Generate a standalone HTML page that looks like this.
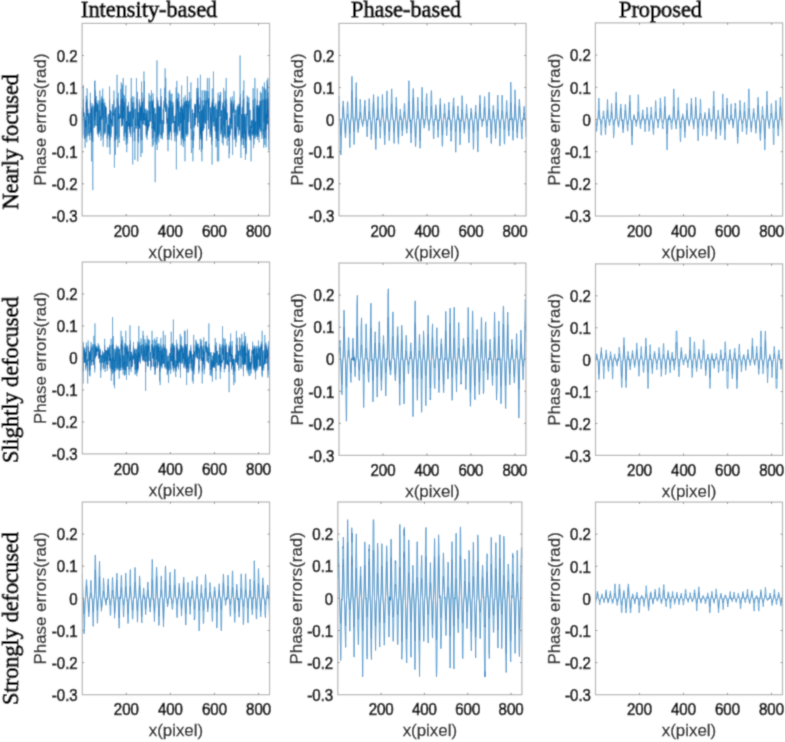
<!DOCTYPE html>
<html><head><meta charset="utf-8"><title>Phase errors</title>
<style>
html,body{margin:0;padding:0;background:#fff;}
body{width:785px;height:742px;overflow:hidden;}
svg{display:block;}
.tk{font-family:"Liberation Sans",Arial,sans-serif;font-size:15px;fill:#111;stroke:#111;stroke-width:0.7px;}
.yl{font-family:"Liberation Sans",Arial,sans-serif;font-size:16.9px;fill:#222;stroke:#222;stroke-width:0.3px;}
.al{font-family:"Liberation Sans",Arial,sans-serif;font-size:16.9px;fill:#1a1a1a;stroke:#1a1a1a;stroke-width:0.3px;}
.tt{font-family:"Liberation Serif","Times New Roman",serif;font-size:22.3px;fill:#000;stroke:#000;stroke-width:0.9px;}
</style></head>
<body>
<svg width="785" height="742" viewBox="0 0 785 742">
<defs><filter id="soft" x="0" y="0" width="785" height="742" filterUnits="userSpaceOnUse"><feConvolveMatrix order="3" kernelMatrix="1 4 1 4 16 4 1 4 1" divisor="36" edgeMode="duplicate" preserveAlpha="false"/></filter></defs>
<g filter="url(#soft)">
<rect width="785" height="742" fill="#fff"/>
<polyline points="82.21,111.41 82.43,128.93 82.65,138.01 82.87,107.22 83.09,113.48 83.31,85.01 83.53,107.20 83.75,117.03 83.97,112.60 84.20,128.32 84.42,139.07 84.64,121.45 84.86,117.06 85.08,147.75 85.30,133.87 85.52,131.06 85.74,120.13 85.96,127.18 86.18,95.75 86.40,117.24 86.62,99.57 86.84,142.30 87.06,88.20 87.28,91.99 87.50,115.62 87.72,108.38 87.94,111.69 88.16,135.69 88.39,123.29 88.61,115.11 88.83,123.90 89.05,112.91 89.27,128.53 89.49,128.19 89.71,140.23 89.93,131.36 90.15,130.10 90.37,92.73 90.59,114.22 90.81,132.97 91.03,110.05 91.25,119.27 91.47,161.36 91.69,107.15 91.91,138.50 92.13,103.01 92.35,126.77 92.58,134.66 92.80,190.23 93.02,137.98 93.24,123.34 93.46,114.02 93.68,109.04 93.90,106.45 94.12,104.88 94.34,127.77 94.56,81.28 94.78,120.15 95.00,80.50 95.22,116.35 95.44,90.55 95.66,92.12 95.88,125.91 96.10,102.99 96.32,95.96 96.54,96.50 96.77,111.45 96.99,105.03 97.21,125.56 97.43,134.54 97.65,102.99 97.87,130.13 98.09,100.40 98.31,113.36 98.53,137.11 98.75,124.58 98.97,125.42 99.19,133.44 99.41,110.15 99.63,124.86 99.85,90.43 100.07,102.58 100.29,130.50 100.51,116.68 100.73,119.79 100.96,140.66 101.18,99.73 101.40,98.39 101.62,97.90 101.84,119.80 102.06,95.80 102.28,117.59 102.50,100.92 102.72,88.56 102.94,116.71 103.16,146.58 103.38,124.83 103.60,108.89 103.82,98.60 104.04,135.21 104.26,119.11 104.48,111.89 104.70,108.94 104.92,102.31 105.15,133.69 105.37,127.03 105.59,105.80 105.81,117.10 106.03,117.23 106.25,106.92 106.47,123.50 106.69,116.83 106.91,130.55 107.13,147.37 107.35,146.73 107.57,124.64 107.79,128.19 108.01,133.82 108.23,115.92 108.45,114.00 108.67,113.91 108.89,135.82 109.11,124.90 109.34,147.08 109.56,86.45 109.78,105.21 110.00,154.43 110.22,120.58 110.44,109.93 110.66,122.29 110.88,111.23 111.10,137.31 111.32,119.31 111.54,122.77 111.76,124.24 111.98,124.19 112.20,116.73 112.42,104.14 112.64,126.55 112.86,123.30 113.08,112.66 113.30,115.61 113.53,106.22 113.75,100.04 113.97,90.58 114.19,113.51 114.41,167.78 114.63,128.77 114.85,109.31 115.07,118.83 115.29,118.54 115.51,154.74 115.73,106.98 115.95,120.01 116.17,139.59 116.39,133.07 116.61,133.29 116.83,112.44 117.05,74.73 117.27,101.90 117.49,116.14 117.72,147.21 117.94,146.11 118.16,102.62 118.38,92.77 118.60,119.22 118.82,104.63 119.04,136.58 119.26,142.97 119.48,130.08 119.70,116.43 119.92,118.53 120.14,113.53 120.36,117.83 120.58,99.74 120.80,88.94 121.02,112.82 121.24,82.40 121.46,126.48 121.69,125.47 121.91,110.98 122.13,122.49 122.35,84.61 122.57,125.52 122.79,93.26 123.01,110.58 123.23,77.94 123.45,118.79 123.67,112.82 123.89,105.25 124.11,140.84 124.33,95.22 124.55,97.16 124.77,104.06 124.99,131.97 125.21,133.42 125.43,96.28 125.65,91.52 125.88,85.38 126.10,144.89 126.32,130.28 126.54,120.98 126.76,152.20 126.98,134.28 127.20,115.25 127.42,105.67 127.64,143.50 127.86,106.44 128.08,124.41 128.30,125.55 128.52,101.86 128.74,121.31 128.96,126.65 129.18,123.02 129.40,129.16 129.62,111.74 129.84,112.61 130.07,133.52 130.29,110.93 130.51,118.89 130.73,137.08 130.95,96.67 131.17,77.94 131.39,79.73 131.61,93.03 131.83,126.89 132.05,96.32 132.27,98.75 132.49,149.29 132.71,164.57 132.93,106.77 133.15,114.07 133.37,112.88 133.59,118.64 133.81,96.52 134.03,132.68 134.26,132.42 134.48,131.03 134.70,127.46 134.92,159.88 135.14,108.50 135.36,125.96 135.58,119.04 135.80,123.41 136.02,127.67 136.24,128.62 136.46,77.94 136.68,97.49 136.90,103.44 137.12,117.45 137.34,125.93 137.56,91.85 137.78,161.36 138.00,141.81 138.22,112.10 138.45,119.11 138.67,143.06 138.89,119.74 139.11,127.30 139.33,99.28 139.55,128.68 139.77,102.30 139.99,111.20 140.21,120.61 140.43,115.26 140.65,107.09 140.87,157.04 141.09,106.38 141.31,116.87 141.53,81.41 141.75,121.31 141.97,92.67 142.19,153.09 142.41,102.05 142.64,113.12 142.86,123.39 143.08,122.24 143.30,124.40 143.52,112.74 143.74,120.80 143.96,71.53 144.18,120.32 144.40,81.20 144.62,116.36 144.84,112.92 145.06,125.51 145.28,116.88 145.50,118.04 145.72,126.02 145.94,108.56 146.16,137.31 146.38,124.29 146.60,113.60 146.83,125.26 147.05,139.71 147.27,110.14 147.49,133.93 147.71,124.79 147.93,130.92 148.15,120.09 148.37,126.37 148.59,128.28 148.81,110.51 149.03,93.14 149.25,126.40 149.47,110.88 149.69,111.65 149.91,114.03 150.13,95.33 150.35,110.19 150.57,121.48 150.79,117.53 151.02,113.79 151.24,103.33 151.46,90.20 151.68,128.29 151.90,126.95 152.12,129.62 152.34,147.05 152.56,100.84 152.78,124.29 153.00,93.21 153.22,145.22 153.44,99.42 153.66,128.95 153.88,121.70 154.10,128.90 154.32,126.75 154.54,132.01 154.76,107.56 154.98,133.53 155.21,182.21 155.43,119.20 155.65,113.52 155.87,128.57 156.09,131.05 156.31,132.94 156.53,144.42 156.75,138.53 156.97,60.30 157.19,150.03 157.41,102.11 157.63,128.08 157.85,135.79 158.07,99.98 158.29,123.27 158.51,130.24 158.73,142.32 158.95,105.70 159.18,134.77 159.40,125.43 159.62,106.45 159.84,114.47 160.06,120.20 160.28,124.02 160.50,104.12 160.72,88.44 160.94,138.79 161.16,117.42 161.38,96.05 161.60,109.72 161.82,137.71 162.04,133.05 162.26,135.13 162.48,139.69 162.70,134.66 162.92,120.06 163.14,132.95 163.37,108.24 163.59,118.44 163.81,124.28 164.03,100.87 164.25,107.20 164.47,87.74 164.69,92.59 164.91,100.43 165.13,68.32 165.35,98.57 165.57,111.40 165.79,77.94 166.01,103.40 166.23,104.14 166.45,103.05 166.67,123.28 166.89,104.15 167.11,125.42 167.33,139.66 167.56,135.73 167.78,118.16 168.00,151.19 168.22,121.84 168.44,107.48 168.66,111.55 168.88,134.24 169.10,91.48 169.32,108.31 169.54,139.80 169.76,89.89 169.98,120.48 170.20,127.63 170.42,132.15 170.64,107.26 170.86,93.52 171.08,128.57 171.30,132.39 171.52,140.50 171.75,98.03 171.97,93.72 172.19,123.59 172.41,106.93 172.63,114.31 172.85,115.90 173.07,102.04 173.29,114.25 173.51,122.59 173.73,118.46 173.95,115.97 174.17,133.14 174.39,126.17 174.61,121.11 174.83,141.30 175.05,124.33 175.27,122.38 175.49,114.09 175.71,132.47 175.94,108.97 176.16,87.47 176.38,169.38 176.60,97.42 176.82,80.88 177.04,101.77 177.26,108.51 177.48,98.23 177.70,135.44 177.92,122.54 178.14,92.61 178.36,104.48 178.58,126.40 178.80,97.04 179.02,94.11 179.24,102.35 179.46,116.32 179.68,131.21 179.90,116.95 180.13,111.73 180.35,123.37 180.57,106.57 180.79,109.73 181.01,108.10 181.23,145.22 181.45,95.11 181.67,85.42 181.89,121.01 182.11,140.31 182.33,108.68 182.55,128.68 182.77,138.61 182.99,104.84 183.21,146.98 183.43,112.81 183.65,142.96 183.87,97.38 184.09,109.97 184.32,119.63 184.54,110.50 184.76,101.37 184.98,161.36 185.20,95.26 185.42,99.96 185.64,102.38 185.86,100.79 186.08,134.82 186.30,100.69 186.52,106.31 186.74,101.64 186.96,136.78 187.18,126.78 187.40,76.34 187.62,125.21 187.84,135.21 188.06,120.37 188.28,120.21 188.51,100.75 188.73,122.20 188.95,102.57 189.17,100.54 189.39,92.05 189.61,106.20 189.83,105.53 190.05,112.31 190.27,114.77 190.49,119.45 190.71,128.97 190.93,82.31 191.15,144.77 191.37,153.08 191.59,149.31 191.81,149.34 192.03,138.15 192.25,114.78 192.47,109.26 192.70,130.53 192.92,161.36 193.14,140.72 193.36,148.05 193.58,132.55 193.80,140.50 194.02,112.83 194.24,127.65 194.46,103.83 194.68,108.07 194.90,120.08 195.12,104.00 195.34,103.94 195.56,125.29 195.78,104.28 196.00,117.77 196.22,110.72 196.44,99.37 196.67,88.00 196.89,98.49 197.11,103.82 197.33,91.67 197.55,126.99 197.77,77.94 197.99,123.03 198.21,87.82 198.43,112.38 198.65,96.68 198.87,108.71 199.09,104.46 199.31,125.00 199.53,149.80 199.75,111.56 199.97,130.37 200.19,133.63 200.41,74.73 200.63,95.95 200.86,139.21 201.08,126.52 201.30,152.04 201.52,110.18 201.74,144.14 201.96,161.36 202.18,90.14 202.40,149.15 202.62,108.08 202.84,115.14 203.06,114.98 203.28,128.62 203.50,131.08 203.72,105.02 203.94,128.76 204.16,90.37 204.38,105.41 204.60,116.67 204.82,122.55 205.05,90.51 205.27,106.67 205.49,112.70 205.71,121.74 205.93,124.08 206.15,92.45 206.37,90.82 206.59,140.89 206.81,116.95 207.03,93.40 207.25,77.94 207.47,78.33 207.69,98.54 207.91,91.24 208.13,120.44 208.35,98.06 208.57,129.23 208.79,101.07 209.01,104.41 209.24,77.94 209.46,99.97 209.68,109.01 209.90,117.50 210.12,137.14 210.34,107.03 210.56,122.65 210.78,113.36 211.00,131.72 211.22,116.42 211.44,144.65 211.66,113.91 211.88,102.39 212.10,164.57 212.32,88.44 212.54,113.98 212.76,106.94 212.98,102.76 213.20,122.12 213.43,71.53 213.65,91.07 213.87,112.72 214.09,126.44 214.31,106.52 214.53,106.20 214.75,121.55 214.97,123.77 215.19,131.54 215.41,128.87 215.63,106.37 215.85,103.16 216.07,147.25 216.29,117.94 216.51,137.56 216.73,138.99 216.95,108.89 217.17,133.62 217.39,161.36 217.62,113.87 217.84,104.71 218.06,92.71 218.28,131.19 218.50,100.65 218.72,161.36 218.94,137.93 219.16,111.23 219.38,110.21 219.60,95.02 219.82,99.90 220.04,116.58 220.26,91.78 220.48,107.05 220.70,92.54 220.92,134.70 221.14,118.06 221.36,130.05 221.58,109.99 221.81,119.03 222.03,125.92 222.25,143.21 222.47,116.03 222.69,102.59 222.91,103.77 223.13,142.51 223.35,145.38 223.57,87.85 223.79,124.40 224.01,125.72 224.23,106.62 224.45,123.49 224.67,136.72 224.89,128.08 225.11,90.73 225.33,138.79 225.55,109.61 225.77,113.73 226.00,111.43 226.22,77.94 226.44,119.96 226.66,99.82 226.88,123.49 227.10,145.55 227.32,130.01 227.54,112.69 227.76,137.20 227.98,126.50 228.20,131.63 228.42,131.90 228.64,136.70 228.86,125.43 229.08,158.37 229.30,131.95 229.52,153.28 229.74,119.75 229.96,117.89 230.19,135.39 230.41,97.54 230.63,113.73 230.85,123.58 231.07,123.71 231.29,109.75 231.51,100.07 231.73,127.24 231.95,129.31 232.17,96.32 232.39,137.64 232.61,154.86 232.83,140.74 233.05,107.97 233.27,108.55 233.49,104.01 233.71,112.45 233.93,91.12 234.16,92.70 234.38,101.20 234.60,139.44 234.82,115.28 235.04,134.56 235.26,127.77 235.48,135.23 235.70,146.93 235.92,109.41 236.14,116.86 236.36,137.16 236.58,142.18 236.80,129.55 237.02,129.77 237.24,105.33 237.46,124.51 237.68,124.68 237.90,126.96 238.12,109.80 238.35,103.66 238.57,124.64 238.79,135.60 239.01,107.66 239.23,120.16 239.45,130.30 239.67,103.87 239.89,114.42 240.11,55.48 240.33,107.58 240.55,93.95 240.77,151.35 240.99,158.03 241.21,122.59 241.43,114.23 241.65,114.81 241.87,144.90 242.09,131.21 242.31,106.83 242.54,138.50 242.76,108.80 242.98,103.72 243.20,90.64 243.42,145.15 243.64,105.93 243.86,80.35 244.08,148.13 244.30,129.36 244.52,114.17 244.74,133.94 244.96,116.61 245.18,126.84 245.40,159.88 245.62,131.37 245.84,154.46 246.06,113.59 246.28,153.55 246.50,153.18 246.73,139.79 246.95,131.87 247.17,95.56 247.39,115.18 247.61,109.32 247.83,96.85 248.05,126.49 248.27,126.70 248.49,136.56 248.71,109.52 248.93,97.46 249.15,120.02 249.37,133.81 249.59,131.31 249.81,139.91 250.03,109.71 250.25,138.42 250.47,125.96 250.69,141.70 250.92,154.66 251.14,161.36 251.36,139.84 251.58,121.36 251.80,128.17 252.02,119.90 252.24,135.67 252.46,132.08 252.68,134.34 252.90,115.24 253.12,88.14 253.34,125.98 253.56,148.21 253.78,107.42 254.00,144.54 254.22,119.41 254.44,134.89 254.66,125.86 254.88,77.94 255.11,138.94 255.33,136.69 255.55,121.59 255.77,127.90 255.99,133.50 256.21,136.83 256.43,114.72 256.65,105.01 256.87,135.70 257.09,137.12 257.31,88.39 257.53,139.85 257.75,105.15 257.97,109.57 258.19,134.55 258.41,105.30 258.63,136.04 258.85,136.86 259.07,142.46 259.30,106.92 259.52,126.85 259.74,100.76 259.96,129.48 260.18,105.13 260.40,91.59 260.62,115.34 260.84,132.09 261.06,119.38 261.28,93.02 261.50,100.29 261.72,117.37 261.94,138.76 262.16,99.69 262.38,86.16 262.60,87.44 262.82,108.72 263.04,120.48 263.26,131.66 263.49,129.61 263.71,147.80 263.93,87.43 264.15,121.81 264.37,82.41 264.59,101.28 264.81,144.93 265.03,88.42 265.25,131.48 265.47,124.14 265.69,90.05 265.91,92.35 266.13,147.39 266.35,113.73 266.57,129.77 266.79,119.59 267.01,80.22 267.23,116.60 267.45,84.07 267.68,123.45 267.90,77.94 268.12,124.54 268.34,120.43 268.56,109.88 268.78,150.32 269.00,92.24 269.22,134.93 269.44,108.25" fill="none" stroke="#0072BD" stroke-width="0.45" stroke-linejoin="round"/>
<polyline points="82.21,111.76 82.43,128.44 82.65,134.78 82.87,108.35 83.09,113.63 83.31,99.16 83.53,108.34 83.75,117.05 83.97,112.83 84.20,127.91 84.42,135.34 84.64,121.45 84.86,117.07 85.08,138.71 85.30,132.23 85.52,130.17 85.74,120.13 85.96,126.91 86.18,101.97 86.40,117.25 86.62,103.63 86.84,136.83 87.06,99.76 87.28,100.72 87.50,115.66 87.72,109.24 87.94,112.00 88.16,133.42 88.39,123.26 88.61,115.17 88.83,123.85 89.05,113.11 89.27,128.10 89.49,127.80 89.71,135.91 89.93,130.40 90.15,129.41 90.37,100.94 90.59,114.32 90.81,131.60 91.03,110.59 91.25,119.27 91.47,141.04 91.69,108.30 91.91,135.04 92.13,105.51 92.35,126.54 92.58,132.76 92.80,142.02 93.02,134.77 93.24,123.31 93.46,114.14 93.68,109.76 93.90,107.79 94.12,106.70 94.34,127.43 94.56,98.62 94.78,120.15 95.00,98.53 95.22,116.38 95.44,100.32 95.66,100.75 95.88,125.75 96.10,105.49 96.32,102.05 96.54,102.26 96.77,111.79 96.99,106.80 97.21,125.43 97.43,132.69 97.65,105.50 97.87,129.43 98.09,104.05 98.31,113.52 98.53,134.28 98.75,124.51 98.97,125.29 99.19,131.94 99.41,110.68 99.63,124.77 99.85,100.29 100.07,105.25 100.29,129.73 100.51,116.70 100.73,119.79 100.96,136.11 101.18,103.71 101.40,103.07 101.62,102.85 101.84,119.80 102.06,101.99 102.28,117.60 102.50,104.32 102.72,99.84 102.94,116.72 103.16,138.37 103.38,124.74 103.60,109.64 103.82,103.17 104.04,133.12 104.26,119.11 104.48,112.18 104.70,109.69 104.92,105.09 105.15,132.11 105.37,126.78 105.59,107.33 105.81,117.12 106.03,117.24 106.25,108.13 106.47,123.47 106.69,116.84 106.91,129.76 107.13,138.60 107.35,138.41 107.57,124.56 107.79,127.80 108.01,132.20 108.23,115.96 108.45,114.12 108.67,114.04 108.89,133.51 109.11,124.80 109.34,138.52 109.56,99.41 109.78,106.92 110.00,140.17 110.22,120.58 110.44,110.50 110.66,122.28 110.88,111.60 111.10,134.39 111.32,119.31 111.54,122.75 111.76,124.18 111.98,124.13 112.20,116.74 112.42,106.21 112.64,126.34 112.86,123.27 113.08,112.88 113.30,115.65 113.53,107.62 113.75,103.86 113.97,100.33 114.19,113.66 114.41,141.50 114.63,128.30 114.85,109.98 115.07,118.83 115.29,118.54 115.51,140.22 115.73,108.17 115.95,120.01 116.17,135.60 116.39,131.67 116.61,131.83 116.83,112.68 117.05,98.00 117.27,104.86 117.49,116.16 117.72,138.56 117.94,138.22 118.16,105.28 118.38,100.95 118.60,119.22 118.82,106.53 119.04,133.97 119.26,137.10 119.48,129.39 119.70,116.45 119.92,118.53 120.14,113.68 120.36,117.84 120.58,103.71 120.80,99.93 121.02,113.02 121.24,98.76 121.46,126.27 121.69,125.34 121.91,111.39 122.13,122.47 122.35,99.09 122.57,125.39 122.79,101.10 123.01,111.04 123.23,98.26 123.45,118.79 123.67,113.02 123.89,106.95 124.11,136.20 124.33,101.77 124.55,102.53 124.77,106.16 124.99,130.86 125.21,131.92 125.43,102.17 125.65,100.58 125.88,99.22 126.10,137.82 126.32,129.55 126.54,120.98 126.76,139.76 126.98,132.51 127.20,115.30 127.42,107.24 127.64,137.31 127.86,107.78 128.08,124.34 128.30,125.42 128.52,104.84 128.74,121.31 128.96,126.43 129.18,123.00 129.40,128.63 129.62,112.05 129.84,112.83 130.07,131.99 130.29,111.35 130.51,118.89 130.73,134.26 130.95,102.33 131.17,98.26 131.39,98.44 131.61,101.03 131.83,126.65 132.05,102.19 132.27,103.24 132.49,139.12 132.71,141.30 132.93,108.02 133.15,114.18 133.37,113.08 133.59,118.64 133.81,102.27 134.03,131.39 134.26,131.20 134.48,130.15 134.70,127.16 134.92,140.89 135.14,109.33 135.36,125.80 135.58,119.04 135.80,123.37 136.02,127.35 136.24,128.17 136.46,98.26 136.68,102.67 136.90,105.77 137.12,117.46 137.34,125.78 137.56,100.68 137.78,141.04 138.00,136.63 138.22,112.37 138.45,119.11 138.67,137.14 138.89,119.74 139.11,127.02 139.33,103.49 139.55,128.22 139.77,105.09 139.99,111.57 140.21,120.61 140.43,115.32 140.65,108.25 140.87,140.56 141.09,107.73 141.31,116.88 141.53,98.63 141.75,121.30 141.97,100.92 142.19,139.93 142.41,104.94 142.64,113.30 142.86,123.35 143.08,122.23 143.30,124.33 143.52,112.95 143.74,120.80 143.96,97.80 144.18,120.32 144.40,98.61 144.62,116.38 144.84,113.12 145.06,125.38 145.28,116.89 145.50,118.05 145.72,125.85 145.94,109.38 146.16,134.39 146.38,124.23 146.60,113.74 146.83,125.15 147.05,135.66 147.27,110.67 147.49,132.27 147.71,124.70 147.93,130.06 148.15,120.09 148.37,126.17 148.59,127.88 148.81,110.99 149.03,101.06 149.25,126.20 149.47,111.30 149.69,111.98 149.91,114.14 150.13,101.81 150.35,110.71 150.57,121.47 150.79,117.54 151.02,113.92 151.24,105.70 151.46,100.23 151.68,127.88 151.90,126.70 152.12,129.01 152.34,138.51 152.56,104.28 152.78,124.23 153.00,101.09 153.22,137.93 153.44,103.56 153.66,128.45 153.88,121.70 154.10,128.41 154.32,126.52 154.54,130.90 154.76,108.61 154.98,132.00 155.21,141.94 155.43,119.20 155.65,113.67 155.87,128.13 156.09,130.16 156.31,131.58 156.53,137.65 156.75,135.06 156.97,97.42 157.19,139.29 157.41,104.98 157.63,127.71 157.85,133.49 158.07,103.83 158.29,123.24 158.51,129.52 158.73,136.84 158.95,107.25 159.18,132.84 159.40,125.30 159.62,107.78 159.84,114.56 160.06,120.20 160.28,123.97 160.50,106.20 160.72,99.82 160.94,135.20 161.16,117.43 161.38,102.08 161.60,110.32 161.82,134.62 162.04,131.65 162.26,133.07 162.48,135.65 162.70,132.76 162.92,120.06 163.14,131.59 163.37,109.13 163.59,118.44 163.81,124.21 164.03,104.29 164.25,108.34 164.47,99.67 164.69,100.89 164.91,104.06 165.13,97.65 165.35,103.15 165.57,111.75 165.79,98.26 166.01,105.74 166.23,106.21 166.45,105.53 166.67,123.25 166.89,106.22 167.11,125.29 167.33,135.64 167.56,133.45 167.78,118.16 168.00,139.55 168.22,121.84 168.44,108.55 168.66,111.89 168.88,132.48 169.10,100.57 169.32,109.18 169.54,135.71 169.76,100.16 169.98,120.48 170.20,127.31 170.42,131.00 170.64,108.38 170.86,101.19 171.08,128.13 171.30,131.18 171.52,136.04 171.75,102.91 171.97,101.25 172.19,123.55 172.41,108.14 172.63,114.41 172.85,115.93 173.07,104.94 173.29,114.35 173.51,122.58 173.73,118.47 173.95,116.01 174.17,131.72 174.39,125.99 174.61,121.11 174.83,136.41 175.05,124.27 175.27,122.37 175.49,114.20 175.71,131.24 175.94,109.71 176.16,99.61 176.38,141.58 176.60,102.64 176.82,98.57 177.04,104.79 177.26,109.34 177.48,103.00 177.70,133.27 177.92,122.52 178.14,100.90 178.36,106.43 178.58,126.20 178.80,102.48 179.02,101.38 179.24,105.12 179.46,116.34 179.68,130.28 179.90,116.97 180.13,112.04 180.35,123.33 180.57,107.87 180.79,110.33 181.01,109.02 181.23,137.93 181.45,101.73 181.67,99.23 181.89,121.01 182.11,135.95 182.33,109.48 182.55,128.22 182.77,135.10 182.99,106.67 183.21,138.49 183.43,113.01 183.65,137.10 183.87,102.63 184.09,110.52 184.32,119.63 184.54,110.97 184.76,104.56 184.98,141.04 185.20,101.78 185.42,103.82 185.64,105.14 185.86,104.25 186.08,132.87 186.30,104.20 186.52,107.68 186.74,104.71 186.96,134.09 187.18,126.55 187.40,98.12 187.62,125.10 187.84,133.12 188.06,120.37 188.28,120.21 188.51,104.23 188.73,122.19 188.95,105.25 189.17,104.12 189.39,100.73 189.61,107.61 189.83,107.14 190.05,112.56 190.27,114.84 190.49,119.45 190.71,128.47 190.93,98.75 191.15,137.77 191.37,139.93 191.59,139.12 191.81,139.13 192.03,134.86 192.25,114.86 192.47,109.94 192.70,129.75 192.92,141.04 193.14,136.14 193.36,138.79 193.58,131.29 193.80,136.04 194.02,113.03 194.24,127.33 194.46,106.02 194.68,109.00 194.90,120.08 195.12,106.12 195.34,106.08 195.56,125.17 195.78,106.30 196.00,117.78 196.22,111.17 196.44,103.53 196.67,99.72 196.89,103.12 197.11,106.01 197.33,100.62 197.55,126.74 197.77,98.26 197.99,123.00 198.21,99.68 198.43,112.63 198.65,102.33 198.87,109.50 199.09,106.42 199.31,124.90 199.53,139.24 199.75,111.89 199.97,129.62 200.19,132.07 200.41,98.00 200.63,102.05 200.86,135.41 201.08,126.32 201.30,139.73 201.52,110.70 201.74,137.55 201.96,141.04 202.18,100.22 202.40,139.08 202.62,109.00 202.84,115.20 203.06,115.04 203.28,128.17 203.50,130.19 203.72,106.79 203.94,128.29 204.16,100.28 204.38,107.06 204.60,116.69 204.82,122.53 205.05,100.31 205.27,107.94 205.49,112.91 205.71,121.74 205.93,124.02 206.15,100.85 206.37,100.39 206.59,136.22 206.81,116.96 207.03,101.15 207.25,98.26 207.47,98.30 207.69,103.14 207.91,100.51 208.13,120.44 208.35,102.92 208.57,128.69 208.79,104.40 209.01,106.39 209.24,98.26 209.46,103.83 209.68,109.74 209.90,117.50 210.12,134.29 210.34,108.21 210.56,122.64 210.78,113.52 211.00,130.68 211.22,116.44 211.44,137.73 211.66,114.03 211.88,105.14 212.10,141.30 212.32,99.82 212.54,114.10 212.76,108.14 212.98,105.36 213.20,122.11 213.43,97.80 213.65,100.46 213.87,112.93 214.09,126.24 214.31,107.83 214.53,107.60 214.75,121.55 214.97,123.72 215.19,130.54 215.41,128.38 215.63,107.73 215.85,105.60 216.07,138.57 216.29,117.94 216.51,134.53 216.73,135.30 216.95,109.64 217.17,132.06 217.39,141.04 217.62,114.00 217.84,106.58 218.06,100.93 218.28,130.27 218.50,104.17 218.72,141.04 218.94,134.74 219.16,111.60 219.38,110.73 219.60,101.70 219.82,103.79 220.04,116.60 220.26,100.66 220.48,108.23 220.70,100.88 220.92,132.79 221.14,118.07 221.36,129.37 221.58,110.55 221.81,119.03 222.03,125.76 222.25,137.20 222.47,116.06 222.69,105.26 222.91,105.97 223.13,136.92 223.35,137.98 223.57,99.69 223.79,124.33 224.01,125.58 224.23,107.91 224.45,123.45 224.67,134.05 224.89,127.70 225.11,100.37 225.33,135.20 225.55,110.23 225.77,113.86 226.00,111.78 226.22,98.26 226.44,119.96 226.66,103.75 226.88,123.45 227.10,138.04 227.32,129.33 227.54,112.91 227.76,134.33 227.98,126.29 228.20,130.61 228.42,130.82 228.64,134.04 228.86,125.31 229.08,140.72 229.30,130.85 229.52,139.97 229.74,119.75 229.96,117.89 230.19,133.23 230.41,102.69 230.63,113.87 230.85,123.54 231.07,123.67 231.29,110.34 231.51,103.88 231.73,126.97 231.95,128.75 232.17,102.19 232.39,134.57 232.61,140.24 232.83,136.15 233.05,108.92 233.27,109.37 233.49,106.13 233.71,112.69 233.93,100.47 234.16,100.93 234.38,104.47 234.60,135.53 234.82,115.34 235.04,132.70 235.26,127.43 235.48,133.13 235.70,138.47 235.92,110.06 236.14,116.88 236.36,134.30 236.58,136.78 236.80,128.95 237.02,129.13 237.24,107.00 237.46,124.43 237.68,124.60 237.90,126.71 238.12,110.38 238.35,105.91 238.57,124.56 238.79,133.37 239.01,108.68 239.23,120.16 239.45,129.57 239.67,106.04 239.89,114.51 240.11,97.34 240.33,108.62 240.55,101.33 240.77,139.59 240.99,140.68 241.21,122.57 241.43,114.34 241.65,114.89 241.87,137.82 242.09,130.29 242.31,108.06 242.54,135.05 242.76,109.57 242.98,105.94 243.20,100.34 243.42,137.91 243.64,107.41 243.86,98.51 244.08,138.81 244.30,128.80 244.52,114.27 244.74,132.28 244.96,116.63 245.18,126.60 245.40,140.89 245.62,130.41 245.84,140.17 246.06,113.73 246.28,140.02 246.50,139.95 246.73,135.70 246.95,130.79 247.17,101.90 247.39,115.24 247.61,109.99 247.83,102.40 248.05,126.29 248.27,126.48 248.49,133.95 248.71,110.15 248.93,102.66 249.15,120.02 249.37,132.19 249.59,130.37 249.81,135.76 250.03,110.31 250.25,135.00 250.47,125.80 250.69,136.58 250.92,140.21 251.14,141.04 251.36,135.72 251.58,121.35 251.80,127.78 252.02,119.90 252.24,133.41 252.46,130.95 252.68,132.55 252.90,115.30 253.12,99.75 253.34,125.82 253.56,138.83 253.78,108.50 254.00,137.70 254.22,119.41 254.44,132.91 254.66,125.71 254.88,98.26 255.11,135.28 255.33,134.03 255.55,121.58 255.77,127.54 255.99,131.98 256.21,134.11 256.43,114.80 256.65,106.79 256.87,133.43 257.09,134.28 257.31,99.81 257.53,135.73 257.75,106.88 257.97,110.20 258.19,132.69 258.41,106.98 258.63,133.64 258.85,134.13 259.07,136.90 259.30,108.13 259.52,126.61 259.74,104.23 259.96,128.89 260.18,106.86 260.40,100.60 260.62,115.39 260.84,130.96 261.06,119.38 261.28,101.03 261.50,103.99 261.72,117.38 261.94,135.18 262.16,103.69 262.38,99.36 262.60,99.61 262.82,109.51 263.04,120.48 263.26,130.63 263.49,129.01 263.71,138.72 263.93,99.60 264.15,121.80 264.37,98.76 264.59,104.52 264.81,137.83 265.03,99.81 265.25,130.50 265.47,124.08 265.69,100.19 265.91,100.82 266.13,138.61 266.35,113.87 266.57,129.14 266.79,119.59 267.01,98.49 267.23,116.62 267.45,99.01 267.68,123.42 267.90,98.26 268.12,124.46 268.34,120.43 268.56,110.46 268.78,139.36 269.00,100.79 269.22,132.94 269.44,109.14" fill="none" stroke="#0a6aae" stroke-width="0.45" stroke-linejoin="round"/>
<rect x="82.10" y="23.40" width="187.45" height="192.50" fill="none" stroke="#b4b4b4" stroke-width="1.2"/>
<path d="M126.21,215.90v-1.9M126.21,23.40v1.9M170.31,215.90v-1.9M170.31,23.40v1.9M214.42,215.90v-1.9M214.42,23.40v1.9M258.52,215.90v-1.9M258.52,23.40v1.9M82.10,183.82h1.9M269.55,183.82h-1.9M82.10,151.73h1.9M269.55,151.73h-1.9M82.10,119.65h1.9M269.55,119.65h-1.9M82.10,87.57h1.9M269.55,87.57h-1.9M82.10,55.48h1.9M269.55,55.48h-1.9" stroke="#8a8a8a" stroke-width="1" fill="none"/>
<text class="tk" transform="translate(77.50,55.98) scale(1,1.07)" y="5.35" text-anchor="end">0.2</text>
<text class="tk" transform="translate(77.50,88.07) scale(1,1.07)" y="5.35" text-anchor="end">0.1</text>
<text class="tk" transform="translate(77.50,120.15) scale(1,1.07)" y="5.35" text-anchor="end">0</text>
<text class="tk" transform="translate(77.50,152.23) scale(1,1.07)" y="5.35" text-anchor="end">-0.1</text>
<text class="tk" transform="translate(77.50,184.32) scale(1,1.07)" y="5.35" text-anchor="end">-0.2</text>
<text class="tk" transform="translate(77.50,216.40) scale(1,1.07)" y="5.35" text-anchor="end">-0.3</text>
<text class="tk" transform="translate(126.21,230.90) scale(1,1.07)" y="5.35" text-anchor="middle">200</text>
<text class="tk" transform="translate(170.31,230.90) scale(1,1.07)" y="5.35" text-anchor="middle">400</text>
<text class="tk" transform="translate(214.42,230.90) scale(1,1.07)" y="5.35" text-anchor="middle">600</text>
<text class="tk" transform="translate(258.52,230.90) scale(1,1.07)" y="5.35" text-anchor="middle">800</text>
<text class="al" x="175.82" y="257.50" text-anchor="middle">x(pixel)</text>
<text class="yl" transform="translate(46.20,119.65) rotate(-90)" text-anchor="middle">Phase errors(rad)</text>
<polyline points="339.11,95.82 339.33,107.75 339.55,118.01 339.77,119.88 339.99,121.11 340.21,124.15 340.43,134.94 340.65,142.25 340.87,155.07 341.09,149.38 341.31,147.24 341.53,134.08 341.75,125.19 341.97,121.14 342.19,119.40 342.41,117.81 342.63,113.04 342.85,104.96 343.07,101.58 343.29,100.92 343.51,104.45 343.73,110.67 343.95,114.83 344.17,118.61 344.39,120.05 344.61,123.56 344.83,125.13 345.05,131.92 345.27,136.69 345.49,138.03 345.71,136.09 345.93,129.42 346.15,121.68 346.37,118.74 346.59,118.92 346.81,117.11 347.03,111.97 347.25,105.87 347.47,101.98 347.69,101.55 347.91,104.05 348.13,111.35 348.35,116.36 348.57,118.79 348.79,120.86 349.01,122.33 349.23,128.97 349.45,138.42 349.67,140.80 349.89,147.66 350.11,139.55 350.33,132.07 350.55,125.63 350.77,119.71 350.99,119.59 351.21,113.41 351.43,103.84 351.65,83.64 351.87,76.34 352.09,76.34 352.31,84.68 352.53,96.07 352.75,112.08 352.97,118.26 353.19,121.35 353.41,121.48 353.63,130.95 353.85,138.58 354.07,144.58 354.29,140.48 354.51,135.04 354.73,125.77 354.95,121.79 355.17,116.93 355.39,116.80 355.61,104.90 355.83,93.40 356.05,84.91 356.27,82.47 356.49,92.72 356.71,106.18 356.93,118.18 357.15,120.36 357.37,121.52 357.59,123.95 357.82,127.24 358.04,132.59 358.26,130.44 358.48,128.14 358.70,127.59 358.92,120.17 359.14,118.81 359.36,119.16 359.58,116.07 359.80,110.84 360.02,104.30 360.24,99.25 360.46,103.56 360.68,104.95 360.90,112.24 361.12,117.22 361.34,119.33 361.56,119.44 361.78,121.84 362.00,122.13 362.22,123.83 362.44,124.97 362.66,126.65 362.88,126.45 363.10,122.34 363.32,121.60 363.54,119.80 363.76,120.83 363.98,115.98 364.20,113.01 364.42,104.93 364.64,102.96 364.86,100.05 365.08,100.58 365.30,109.28 365.52,114.01 365.74,118.30 365.96,119.12 366.18,122.06 366.40,124.66 366.62,129.41 366.84,134.10 367.06,136.91 367.28,136.73 367.50,132.29 367.72,124.70 367.94,120.57 368.16,120.27 368.38,119.35 368.60,114.74 368.82,105.78 369.04,100.20 369.26,98.61 369.48,102.48 369.70,106.52 369.92,115.08 370.14,118.89 370.36,118.29 370.58,122.36 370.80,125.62 371.02,131.24 371.24,139.62 371.46,135.29 371.68,134.71 371.90,127.38 372.12,122.85 372.34,121.02 372.56,119.79 372.78,115.42 373.00,106.55 373.22,101.47 373.44,96.25 373.66,94.55 373.88,106.11 374.10,109.56 374.32,115.95 374.54,118.64 374.76,122.10 374.98,123.94 375.20,133.93 375.42,141.19 375.64,147.40 375.86,149.52 376.08,145.20 376.30,132.53 376.52,122.02 376.74,118.15 376.96,120.29 377.18,115.15 377.40,109.71 377.62,103.24 377.84,98.77 378.06,96.50 378.28,99.29 378.50,107.42 378.72,115.61 378.94,118.55 379.16,119.17 379.38,121.03 379.60,124.63 379.82,130.68 380.04,135.65 380.26,138.34 380.48,135.37 380.70,129.71 380.92,125.34 381.14,120.21 381.36,118.70 381.58,116.59 381.80,115.55 382.02,106.13 382.24,97.28 382.46,94.29 382.68,99.83 382.90,105.35 383.12,111.89 383.34,116.70 383.56,121.60 383.78,121.26 384.00,124.08 384.22,133.61 384.44,140.03 384.66,144.87 384.88,143.68 385.10,135.94 385.32,127.02 385.54,122.76 385.76,119.66 385.98,118.25 386.20,113.44 386.42,107.96 386.64,96.75 386.86,92.28 387.08,90.81 387.30,102.13 387.52,111.75 387.74,114.89 387.96,120.14 388.18,121.05 388.40,121.86 388.62,126.43 388.84,133.28 389.06,138.78 389.28,140.55 389.50,138.01 389.72,132.98 389.94,126.02 390.16,120.80 390.38,119.23 390.60,119.52 390.82,116.55 391.04,106.59 391.26,99.22 391.48,93.09 391.70,88.75 391.92,94.05 392.14,100.45 392.36,109.72 392.58,114.32 392.80,119.19 393.02,118.93 393.24,119.49 393.46,128.12 393.68,132.75 393.90,137.91 394.12,143.51 394.34,138.12 394.56,129.79 394.78,124.10 395.00,121.57 395.23,119.94 395.45,119.57 395.67,113.86 395.89,107.44 396.11,97.18 396.33,98.55 396.55,100.44 396.77,109.12 396.99,114.06 397.21,119.50 397.43,120.99 397.65,122.83 397.87,129.21 398.09,137.46 398.31,142.34 398.53,144.15 398.75,134.23 398.97,124.48 399.19,121.73 399.41,120.39 399.63,116.51 399.85,115.78 400.07,111.18 400.29,109.19 400.51,111.25 400.73,113.73 400.95,116.22 401.17,119.53 401.39,118.55 401.61,121.17 401.83,128.66 402.05,132.13 402.27,136.04 402.49,133.80 402.71,130.35 402.93,126.18 403.15,120.26 403.37,119.32 403.59,118.03 403.81,114.76 404.03,110.52 404.25,105.28 404.47,103.24 404.69,104.13 404.91,108.39 405.13,114.32 405.35,119.42 405.57,119.41 405.79,120.59 406.01,124.04 406.23,128.57 406.45,130.11 406.67,133.18 406.89,133.33 407.11,129.41 407.33,126.17 407.55,120.38 407.77,118.85 407.99,118.17 408.21,111.55 408.43,96.64 408.65,87.97 408.87,80.66 409.09,85.31 409.31,93.15 409.53,107.57 409.75,119.67 409.97,121.50 410.19,119.73 410.41,127.05 410.63,131.39 410.85,136.60 411.07,142.93 411.29,136.31 411.51,133.12 411.73,125.94 411.95,121.09 412.17,120.37 412.39,118.44 412.61,110.95 412.83,99.29 413.05,90.67 413.27,88.49 413.49,93.48 413.71,99.58 413.93,111.78 414.15,118.51 414.37,119.21 414.59,122.11 414.81,126.95 415.03,129.73 415.25,141.35 415.47,146.71 415.69,146.26 415.91,142.03 416.13,131.12 416.35,124.49 416.57,120.26 416.79,118.69 417.01,118.58 417.23,113.57 417.45,106.57 417.67,99.72 417.89,97.21 418.11,100.87 418.33,108.69 418.55,113.05 418.77,117.53 418.99,118.65 419.21,119.82 419.43,127.28 419.65,134.06 419.87,141.18 420.09,148.31 420.31,141.09 420.53,134.60 420.75,124.81 420.97,120.30 421.19,118.94 421.41,115.52 421.63,102.51 421.85,91.87 422.07,87.21 422.29,89.64 422.51,97.26 422.73,111.13 422.95,117.52 423.17,119.62 423.39,119.47 423.61,120.99 423.83,124.38 424.05,128.27 424.27,127.40 424.49,126.50 424.71,126.12 424.93,121.52 425.15,119.24 425.37,118.95 425.59,119.28 425.81,114.14 426.03,105.06 426.25,97.33 426.47,96.19 426.69,93.49 426.91,96.91 427.13,105.78 427.35,114.59 427.57,117.89 427.79,120.49 428.01,120.20 428.23,123.21 428.45,126.33 428.67,128.56 428.89,130.76 429.11,130.42 429.33,129.04 429.55,125.87 429.77,122.36 429.99,120.06 430.21,118.48 430.43,117.74 430.65,113.78 430.87,101.99 431.09,94.56 431.31,90.63 431.53,90.54 431.75,99.67 431.97,109.66 432.19,116.42 432.41,119.01 432.64,119.41 432.86,122.30 433.08,125.19 433.30,134.32 433.52,137.97 433.74,139.01 433.96,134.37 434.18,129.26 434.40,122.93 434.62,120.78 434.84,118.91 435.06,119.56 435.28,113.49 435.50,109.05 435.72,104.70 435.94,105.51 436.16,107.24 436.38,111.57 436.60,114.88 436.82,117.92 437.04,119.04 437.26,122.23 437.48,122.93 437.70,128.79 437.92,133.32 438.14,137.40 438.36,131.20 438.58,128.97 438.80,122.10 439.02,119.88 439.24,120.58 439.46,118.93 439.68,112.45 439.90,104.97 440.12,100.57 440.34,98.45 440.56,104.06 440.78,113.60 441.00,117.69 441.22,119.21 441.44,119.39 441.66,125.50 441.88,132.42 442.10,144.31 442.32,146.32 442.54,146.34 442.76,138.75 442.98,128.60 443.20,122.01 443.42,120.38 443.64,118.62 443.86,114.97 444.08,112.80 444.30,105.78 444.52,103.66 444.74,104.00 444.96,110.12 445.18,114.00 445.40,118.12 445.62,119.23 445.84,120.23 446.06,125.32 446.28,129.18 446.50,131.47 446.72,135.68 446.94,132.29 447.16,127.52 447.38,123.49 447.60,118.43 447.82,117.75 448.04,118.93 448.26,115.61 448.48,107.57 448.70,104.93 448.92,102.11 449.14,104.61 449.36,109.60 449.58,114.46 449.80,120.16 450.02,119.68 450.24,121.35 450.46,124.97 450.68,132.11 450.90,141.41 451.12,139.70 451.34,140.42 451.56,137.17 451.78,127.69 452.00,122.23 452.22,120.53 452.44,119.37 452.66,116.89 452.88,111.82 453.10,103.84 453.32,101.11 453.54,98.88 453.76,97.80 453.98,107.57 454.20,112.51 454.42,117.64 454.64,118.82 454.86,120.94 455.08,126.90 455.30,137.00 455.52,146.72 455.74,152.25 455.96,146.95 456.18,140.52 456.40,128.76 456.62,122.58 456.84,120.19 457.06,119.63 457.28,117.00 457.50,111.82 457.72,107.98 457.94,105.92 458.16,108.60 458.38,114.17 458.60,115.78 458.82,119.17 459.04,118.46 459.26,121.21 459.48,128.92 459.70,138.81 459.92,144.95 460.14,144.39 460.36,140.68 460.58,133.59 460.80,123.41 461.02,120.15 461.24,121.10 461.46,115.37 461.68,108.92 461.90,99.10 462.12,95.64 462.34,99.97 462.56,101.83 462.78,112.74 463.00,118.98 463.22,120.28 463.44,120.97 463.66,123.06 463.88,125.51 464.10,131.23 464.32,133.38 464.54,131.02 464.76,128.51 464.98,122.49 465.20,121.55 465.42,120.73 465.64,117.96 465.86,117.79 466.08,112.82 466.30,108.03 466.52,103.94 466.74,107.65 466.96,109.38 467.18,113.28 467.40,115.82 467.62,118.91 467.84,118.61 468.06,121.16 468.28,128.43 468.50,136.53 468.72,139.73 468.94,142.78 469.16,140.34 469.38,134.71 469.60,127.43 469.82,121.05 470.05,119.11 470.27,118.23 470.49,117.37 470.71,114.47 470.93,108.12 471.15,108.27 471.37,108.44 471.59,111.04 471.81,115.10 472.03,119.34 472.25,120.44 472.47,121.28 472.69,125.67 472.91,132.12 473.13,140.23 473.35,149.38 473.57,148.23 473.79,142.20 474.01,131.83 474.23,122.77 474.45,119.75 474.67,118.78 474.89,117.96 475.11,115.46 475.33,109.51 475.55,107.77 475.77,105.03 475.99,107.58 476.21,115.67 476.43,118.78 476.65,118.63 476.87,118.79 477.09,124.75 477.31,135.23 477.53,147.50 477.75,151.74 477.97,152.09 478.19,143.94 478.41,129.93 478.63,120.58 478.85,119.30 479.07,117.29 479.29,114.16 479.51,106.00 479.73,100.56 479.95,95.26 480.17,98.28 480.39,105.04 480.61,111.61 480.83,116.98 481.05,118.57 481.27,119.70 481.49,120.53 481.71,120.40 481.93,126.65 482.15,126.56 482.37,125.18 482.59,124.30 482.81,121.39 483.03,121.08 483.25,118.66 483.47,120.66 483.69,117.11 483.91,112.09 484.13,106.14 484.35,101.01 484.57,96.39 484.79,99.68 485.01,105.48 485.23,111.99 485.45,118.76 485.67,119.03 485.89,120.85 486.11,122.21 486.33,128.45 486.55,132.67 486.77,136.04 486.99,137.66 487.21,133.12 487.43,127.70 487.65,121.95 487.87,120.03 488.09,119.52 488.31,115.79 488.53,110.74 488.75,98.29 488.97,92.89 489.19,92.15 489.41,100.05 489.63,109.24 489.85,115.92 490.07,119.97 490.29,119.37 490.51,123.54 490.73,129.32 490.95,138.86 491.17,143.23 491.39,143.62 491.61,137.58 491.83,127.74 492.05,120.93 492.27,120.49 492.49,118.22 492.71,117.24 492.93,111.51 493.15,105.88 493.37,105.35 493.59,106.91 493.81,112.31 494.03,115.27 494.25,118.41 494.47,121.37 494.69,119.55 494.91,124.83 495.13,130.55 495.35,134.99 495.57,138.51 495.79,138.09 496.01,133.03 496.23,125.17 496.45,121.78 496.67,120.27 496.89,118.47 497.11,114.19 497.33,104.48 497.55,98.02 497.77,95.10 497.99,100.70 498.21,104.14 498.43,111.14 498.65,119.12 498.87,120.87 499.09,121.45 499.31,125.54 499.53,133.91 499.75,144.91 499.97,146.09 500.19,142.42 500.41,137.37 500.63,127.71 500.85,120.84 501.07,119.35 501.29,118.94 501.51,113.60 501.73,106.81 501.95,98.46 502.17,95.02 502.39,101.02 502.61,104.65 502.83,111.89 503.05,118.14 503.27,119.11 503.49,119.87 503.71,125.70 503.93,131.05 504.15,140.56 504.37,143.61 504.59,144.26 504.81,140.15 505.03,128.66 505.25,121.30 505.47,118.88 505.69,118.38 505.91,115.68 506.13,111.47 506.35,104.84 506.57,100.33 506.79,100.64 507.01,105.65 507.23,111.64 507.46,117.66 507.68,119.45 507.90,120.34 508.12,123.53 508.34,131.15 508.56,132.39 508.78,136.15 509.00,135.12 509.22,130.01 509.44,124.62 509.66,118.66 509.88,120.25 510.10,115.68 510.32,106.99 510.54,94.92 510.76,82.00 510.98,86.22 511.20,93.25 511.42,105.17 511.64,115.05 511.86,119.21 512.08,118.37 512.30,125.51 512.52,132.58 512.74,138.50 512.96,140.36 513.18,139.69 513.40,132.45 513.62,124.99 513.84,119.73 514.06,119.65 514.28,118.03 514.50,109.67 514.72,100.27 514.94,89.81 515.16,93.24 515.38,96.70 515.60,106.25 515.82,113.18 516.04,119.59 516.26,119.32 516.48,123.27 516.70,127.68 516.92,134.76 517.14,137.70 517.36,138.15 517.58,132.35 517.80,126.13 518.02,123.62 518.24,120.27 518.46,119.35 518.68,116.51 518.90,107.02 519.12,101.53 519.34,99.16 519.56,101.86 519.78,104.62 520.00,108.87 520.22,116.16 520.44,119.84 520.66,120.39 520.88,120.17 521.10,125.53 521.32,132.01 521.54,135.81 521.76,137.31 521.98,139.08 522.20,132.09 522.42,127.56 522.64,121.77 522.86,120.82 523.08,117.98 523.30,118.88 523.52,115.60 523.74,111.06 523.96,107.29 524.18,106.25 524.40,108.70 524.62,111.11 524.84,115.33 525.06,119.09 525.28,118.30 525.50,119.96 525.72,128.95 525.94,136.72" fill="none" stroke="#0072BD" stroke-width="0.6" stroke-linejoin="round"/>
<polyline points="339.11,103.82 339.33,111.75 339.55,118.56 339.77,119.80 339.99,120.30 340.21,121.65 340.43,126.45 340.65,129.70 340.87,135.40 341.09,132.87 341.31,131.92 341.53,126.07 341.75,122.11 341.97,120.31 342.19,119.48 342.41,118.38 342.63,115.07 342.85,109.47 343.07,107.13 343.29,106.67 343.51,109.12 343.73,113.43 343.95,116.31 344.17,118.93 344.39,119.95 344.61,122.58 344.83,123.75 345.05,128.85 345.27,132.41 345.49,133.42 345.71,131.97 345.93,126.97 346.15,121.17 346.37,118.97 346.59,119.43 346.81,118.88 347.03,117.33 347.25,115.48 347.47,114.30 347.69,114.17 347.91,114.92 348.13,117.14 348.35,118.65 348.57,119.39 348.79,120.25 349.01,120.98 349.23,124.27 349.45,128.95 349.67,130.13 349.89,133.53 350.11,129.51 350.33,125.81 350.55,122.61 350.77,119.68 350.99,119.61 351.21,115.51 351.43,109.17 351.65,95.77 351.87,90.93 352.09,90.93 352.31,96.46 352.53,104.01 352.75,114.63 352.97,118.73 353.19,120.47 353.41,120.53 353.63,125.09 353.85,128.76 354.07,131.65 354.29,129.67 354.51,127.06 354.73,122.59 354.95,120.68 355.17,118.04 355.39,117.96 355.61,110.92 355.83,104.12 356.05,99.10 356.27,97.66 356.49,103.72 356.71,111.68 356.93,118.78 357.15,120.07 357.37,121.02 357.59,122.80 357.82,125.21 358.04,129.13 358.26,127.56 358.48,125.87 358.70,125.47 358.92,120.03 359.14,119.03 359.36,119.47 359.58,118.30 359.80,116.34 360.02,113.88 360.24,111.98 360.46,113.60 360.68,114.13 360.90,116.86 361.12,118.74 361.34,119.53 361.56,119.51 361.78,121.08 362.00,121.27 362.22,122.38 362.44,123.13 362.66,124.23 362.88,124.10 363.10,121.41 363.32,120.92 363.54,119.75 363.76,120.45 363.98,117.15 364.20,115.11 364.42,109.59 364.64,108.25 364.86,106.27 365.08,106.63 365.30,112.57 365.52,115.80 365.74,118.73 365.96,119.29 366.18,120.56 366.40,121.55 366.62,123.35 366.84,125.13 367.06,126.20 367.28,126.13 367.50,124.44 367.72,121.57 367.94,120.00 368.16,119.89 368.38,119.53 368.60,117.72 368.82,114.20 369.04,112.01 369.26,111.38 369.48,112.90 369.70,114.49 369.92,117.85 370.14,119.35 370.36,118.66 370.58,121.62 370.80,123.99 371.02,128.08 371.24,134.18 371.46,131.03 371.68,130.61 371.90,125.28 372.12,121.98 372.34,120.65 372.56,119.75 372.78,116.60 373.00,110.22 373.22,106.56 373.44,102.81 373.66,101.59 373.88,109.90 374.10,112.39 374.32,116.99 374.54,118.92 374.76,121.24 374.98,122.44 375.20,128.93 375.42,133.65 375.64,137.68 375.86,139.06 376.08,136.25 376.30,128.02 376.52,121.19 376.74,118.67 376.96,119.95 377.18,117.52 377.40,114.95 377.62,111.88 377.84,109.77 378.06,108.69 378.28,110.01 378.50,113.86 378.72,117.74 378.94,119.13 379.16,119.47 379.38,120.16 379.60,121.48 379.82,123.70 380.04,125.53 380.26,126.51 380.48,125.43 380.70,123.35 380.92,121.74 381.14,119.85 381.36,119.30 381.58,118.23 381.80,117.75 382.02,113.38 382.24,109.28 382.46,107.90 382.68,110.46 382.90,113.02 383.12,116.05 383.34,118.28 383.56,120.55 383.78,120.66 384.00,122.43 384.22,128.40 384.44,132.43 384.66,135.46 384.88,134.72 385.10,129.87 385.32,124.27 385.54,121.60 385.76,119.66 385.98,119.06 386.20,117.02 386.42,114.70 386.64,109.95 386.86,108.06 387.08,107.43 387.30,112.23 387.52,116.30 387.74,117.63 387.96,119.86 388.18,120.46 388.40,120.93 388.62,123.57 388.84,127.53 389.06,130.70 389.28,131.72 389.50,130.26 389.72,127.35 389.94,123.33 390.16,120.32 390.38,119.40 390.60,119.59 390.82,118.05 391.04,112.91 391.26,109.11 391.48,105.95 391.70,103.71 391.92,106.44 392.14,109.74 392.36,114.53 392.58,116.90 392.80,119.41 393.02,119.26 393.24,119.56 393.46,124.20 393.68,126.69 393.90,129.46 394.12,132.46 394.34,129.57 394.56,125.10 394.78,122.04 395.00,120.68 395.23,119.81 395.45,119.60 395.67,116.34 395.89,112.68 396.11,106.82 396.33,107.61 396.55,108.68 396.77,113.64 396.99,116.46 397.21,119.56 397.43,120.65 397.65,122.03 397.87,126.78 398.09,132.94 398.31,136.58 398.53,137.93 398.75,130.53 398.97,123.25 399.19,121.20 399.41,119.93 399.63,118.47 399.85,118.20 400.07,116.47 400.29,115.73 400.51,116.50 400.73,117.43 400.95,118.36 401.17,119.60 401.39,118.92 401.61,120.66 401.83,125.60 402.05,127.89 402.27,130.48 402.49,129.00 402.71,126.72 402.93,123.96 403.15,120.05 403.37,119.44 403.59,118.83 403.81,117.17 404.03,115.03 404.25,112.38 404.47,111.34 404.69,111.80 404.91,113.95 405.13,116.95 405.35,119.53 405.57,119.53 405.79,120.26 406.01,122.52 406.23,125.49 406.45,126.49 406.67,128.50 406.89,128.60 407.11,126.03 407.33,123.92 407.55,120.13 407.77,119.12 407.99,118.94 408.21,115.77 408.43,108.64 408.65,104.49 408.87,100.99 409.09,103.22 409.31,106.97 409.53,113.87 409.75,119.66 409.97,120.53 410.19,119.69 410.41,123.95 410.63,126.47 410.85,129.50 411.07,133.18 411.29,129.33 411.51,127.48 411.73,123.30 411.95,120.49 412.17,120.16 412.39,118.80 412.61,113.51 412.83,105.28 413.05,99.20 413.27,97.66 413.49,101.18 413.71,105.49 413.93,114.09 414.15,118.85 414.37,119.34 414.59,121.29 414.81,124.51 415.03,126.36 415.25,134.09 415.47,137.66 415.69,137.36 415.91,134.55 416.13,127.29 416.35,122.87 416.57,120.06 416.79,119.28 417.01,119.24 417.23,117.31 417.45,114.62 417.67,111.98 417.89,111.02 418.11,112.42 418.33,115.43 418.55,117.11 418.77,118.84 418.99,119.26 419.21,119.77 419.43,125.27 419.65,130.27 419.87,135.52 420.09,140.77 420.31,135.45 420.53,130.67 420.75,123.45 420.97,120.13 421.19,119.25 421.41,117.32 421.63,109.97 421.85,103.96 422.07,101.33 422.29,102.70 422.51,107.00 422.73,114.84 422.95,118.45 423.17,119.63 423.39,119.54 423.61,120.50 423.83,122.63 424.05,125.09 424.27,124.54 424.49,123.97 424.71,123.73 424.93,120.83 425.15,119.39 425.37,119.21 425.59,119.46 425.81,116.77 426.03,112.02 426.25,107.98 426.47,107.39 426.69,105.98 426.91,107.76 427.13,112.40 427.35,117.01 427.57,118.73 427.79,120.04 428.01,119.91 428.23,121.32 428.45,122.78 428.67,123.82 428.89,124.86 429.11,124.70 429.33,124.05 429.55,122.57 429.77,120.92 429.99,119.84 430.21,119.11 430.43,118.77 430.65,116.94 430.87,111.51 431.09,108.08 431.31,106.27 431.53,106.22 431.75,110.43 431.97,115.04 432.19,118.16 432.41,119.35 432.64,119.57 432.86,120.50 433.08,121.42 433.30,124.35 433.52,125.52 433.74,125.86 433.96,124.37 434.18,122.73 434.40,120.70 434.62,120.01 434.84,119.11 435.06,119.59 435.28,115.18 435.50,111.96 435.72,108.81 435.94,109.40 436.16,110.65 436.38,113.79 436.60,116.19 436.82,118.39 437.04,119.29 437.26,121.15 437.48,121.55 437.70,124.96 437.92,127.60 438.14,129.97 438.36,126.36 438.58,125.07 438.80,121.07 439.02,119.78 439.24,120.32 439.46,119.13 439.68,114.49 439.90,109.14 440.12,105.99 440.34,104.47 440.56,108.49 440.78,115.32 441.00,118.25 441.22,119.34 441.44,119.50 441.66,123.02 441.88,127.01 442.10,133.87 442.32,135.03 442.54,135.04 442.76,130.66 442.98,124.81 443.20,121.01 443.42,120.07 443.64,119.23 443.86,117.74 444.08,116.85 444.30,113.99 444.52,113.12 444.74,113.26 444.96,115.76 445.18,117.34 445.40,119.03 445.62,119.48 445.84,119.94 446.06,122.43 446.28,124.33 446.50,125.46 446.72,127.53 446.94,125.86 447.16,123.52 447.38,121.54 447.60,119.05 447.82,118.65 448.04,119.27 448.26,117.53 448.48,113.30 448.70,111.91 448.92,110.43 449.14,111.75 449.36,114.37 449.58,116.92 449.80,119.92 450.02,119.66 450.24,120.51 450.46,122.33 450.68,125.94 450.90,130.62 451.12,129.76 451.34,130.13 451.56,128.48 451.78,123.71 452.00,120.95 452.22,120.09 452.44,119.47 452.66,117.92 452.88,114.73 453.10,109.72 453.32,108.01 453.54,106.61 453.76,105.93 453.98,112.06 454.20,115.17 454.42,118.39 454.64,119.13 454.86,120.14 455.08,122.39 455.30,126.20 455.52,129.87 455.74,131.96 455.96,129.96 456.18,127.53 456.40,123.09 456.62,120.76 456.84,119.85 457.06,119.64 457.28,118.59 457.50,116.53 457.72,114.99 457.94,114.17 458.16,115.24 458.38,117.47 458.60,118.11 458.82,119.46 459.04,119.08 459.26,120.40 459.48,124.10 459.70,128.85 459.92,131.80 460.14,131.53 460.36,129.75 460.58,126.35 460.80,121.46 461.02,119.89 461.24,120.29 461.46,117.77 461.68,114.93 461.90,110.62 462.12,109.10 462.34,111.00 462.56,111.82 462.78,116.61 463.00,119.36 463.22,119.93 463.44,120.61 463.66,122.14 463.88,123.93 464.10,128.11 464.32,129.69 464.54,127.96 464.76,126.12 464.98,121.72 465.20,121.04 465.42,120.44 465.64,119.00 465.86,118.93 466.08,117.02 466.30,115.17 466.52,113.60 466.74,115.03 466.96,115.70 467.18,117.20 467.40,118.18 467.62,119.36 467.84,119.21 468.06,120.29 468.28,123.36 468.50,126.79 468.72,128.14 468.94,129.43 469.16,128.40 469.38,126.02 469.60,122.94 469.82,120.24 470.05,119.42 470.27,118.73 470.49,118.17 470.71,116.29 470.93,112.18 471.15,112.28 471.37,112.39 471.59,114.07 471.81,116.70 472.03,119.45 472.25,120.16 472.47,120.38 472.69,122.32 472.91,125.19 473.13,128.78 473.35,132.84 473.57,132.33 473.79,129.66 474.01,125.06 474.23,121.04 474.45,119.69 474.67,119.19 474.89,118.76 475.11,117.43 475.33,114.29 475.55,113.37 475.77,111.92 475.99,113.27 476.21,117.54 476.43,119.19 476.65,119.11 476.87,119.35 477.09,121.44 477.31,125.12 477.53,129.43 477.75,130.93 477.97,131.05 478.19,128.18 478.41,123.26 478.63,119.98 478.85,119.53 479.07,118.12 479.29,116.09 479.51,110.80 479.73,107.27 479.95,103.84 480.17,105.79 480.39,110.18 480.61,114.44 480.83,117.92 481.05,118.95 481.27,119.66 481.49,119.92 481.71,119.88 481.93,121.77 482.15,121.74 482.37,121.32 482.59,121.06 482.81,120.18 483.03,120.08 483.25,119.35 483.47,120.18 483.69,118.32 483.91,115.68 484.13,112.56 484.35,109.86 484.57,107.44 484.79,109.17 485.01,112.21 485.23,115.63 485.45,119.18 485.67,119.32 485.89,120.07 486.11,120.55 486.33,122.73 486.55,124.21 486.77,125.39 486.99,125.95 487.21,124.36 487.43,122.47 487.65,120.45 487.87,119.78 488.09,119.60 488.31,118.10 488.53,116.07 488.75,111.06 488.97,108.89 489.19,108.59 489.41,111.77 489.63,115.46 489.85,118.15 490.07,119.78 490.29,119.48 490.51,122.00 490.73,125.49 490.95,131.26 491.17,133.90 491.39,134.13 491.61,130.48 491.83,124.54 492.05,120.42 492.27,120.16 492.49,118.79 492.71,118.20 492.93,114.75 493.15,111.37 493.37,111.05 493.59,111.99 493.81,115.24 494.03,117.02 494.25,118.91 494.47,120.68 494.69,119.58 494.91,123.26 495.13,127.24 495.35,130.34 495.57,132.79 495.79,132.50 496.01,128.97 496.23,123.50 496.45,121.13 496.67,120.08 496.89,119.17 497.11,117.44 497.33,113.52 497.55,110.91 497.77,109.74 497.99,112.00 498.21,113.39 498.43,116.21 498.65,119.44 498.87,120.14 499.09,120.24 499.31,121.58 499.53,124.33 499.75,127.94 499.97,128.32 500.19,127.12 500.41,125.46 500.63,122.29 500.85,120.04 501.07,119.55 501.29,119.40 501.51,117.48 501.73,115.05 501.95,112.06 502.17,110.83 502.39,112.98 502.61,114.28 502.83,116.87 503.05,119.11 503.27,119.46 503.49,119.74 503.71,122.13 503.93,124.31 504.15,128.21 504.37,129.46 504.59,129.72 504.81,128.04 505.03,123.34 505.25,120.32 505.47,119.33 505.69,119.12 505.91,117.98 506.13,116.21 506.35,113.43 506.57,111.54 506.79,111.67 507.01,113.77 507.23,116.28 507.46,118.81 507.68,119.57 507.90,120.11 508.12,122.25 508.34,127.34 508.56,128.17 508.78,130.68 509.00,130.00 509.22,126.58 509.44,122.97 509.66,118.99 509.88,119.93 510.10,117.82 510.32,113.80 510.54,108.22 510.76,102.25 510.98,104.20 511.20,107.45 511.42,112.96 511.64,117.52 511.86,119.45 512.08,118.99 512.30,122.68 512.52,126.34 512.74,129.40 512.96,130.37 513.18,130.02 513.40,126.27 513.62,122.41 513.84,119.69 514.06,119.65 514.28,118.84 514.50,114.65 514.72,109.94 514.94,104.70 515.16,106.41 515.38,108.15 515.60,112.93 515.82,116.41 516.04,119.62 516.26,119.42 516.48,122.13 516.70,125.16 516.92,130.01 517.14,132.03 517.36,132.35 517.58,128.36 517.80,124.09 518.02,122.37 518.24,120.07 518.46,119.45 518.68,117.60 518.90,111.39 519.12,107.80 519.34,106.26 519.56,108.02 519.78,109.82 520.00,112.60 520.22,117.37 520.44,119.77 520.66,119.91 520.88,119.83 521.10,121.71 521.32,123.98 521.54,125.31 521.76,125.84 521.98,126.46 522.20,124.01 522.42,122.42 522.64,120.39 522.86,120.06 523.08,118.79 523.30,119.26 523.52,117.57 523.74,115.25 523.96,113.32 524.18,112.79 524.40,114.04 524.62,115.28 524.84,117.44 525.06,119.36 525.28,118.96 525.50,119.87 525.72,126.11 525.94,131.51" fill="none" stroke="#0a6aae" stroke-width="0.4" stroke-linejoin="round"/>
<rect x="339.00" y="23.40" width="187.05" height="192.50" fill="none" stroke="#b4b4b4" stroke-width="1.2"/>
<path d="M383.01,215.90v-1.9M383.01,23.40v1.9M427.02,215.90v-1.9M427.02,23.40v1.9M471.04,215.90v-1.9M471.04,23.40v1.9M515.05,215.90v-1.9M515.05,23.40v1.9M339.00,183.82h1.9M526.05,183.82h-1.9M339.00,151.73h1.9M526.05,151.73h-1.9M339.00,119.65h1.9M526.05,119.65h-1.9M339.00,87.57h1.9M526.05,87.57h-1.9M339.00,55.48h1.9M526.05,55.48h-1.9" stroke="#8a8a8a" stroke-width="1" fill="none"/>
<text class="tk" transform="translate(334.40,55.98) scale(1,1.07)" y="5.35" text-anchor="end">0.2</text>
<text class="tk" transform="translate(334.40,88.07) scale(1,1.07)" y="5.35" text-anchor="end">0.1</text>
<text class="tk" transform="translate(334.40,120.15) scale(1,1.07)" y="5.35" text-anchor="end">0</text>
<text class="tk" transform="translate(334.40,152.23) scale(1,1.07)" y="5.35" text-anchor="end">-0.1</text>
<text class="tk" transform="translate(334.40,184.32) scale(1,1.07)" y="5.35" text-anchor="end">-0.2</text>
<text class="tk" transform="translate(334.40,216.40) scale(1,1.07)" y="5.35" text-anchor="end">-0.3</text>
<text class="tk" transform="translate(383.01,230.90) scale(1,1.07)" y="5.35" text-anchor="middle">200</text>
<text class="tk" transform="translate(427.02,230.90) scale(1,1.07)" y="5.35" text-anchor="middle">400</text>
<text class="tk" transform="translate(471.04,230.90) scale(1,1.07)" y="5.35" text-anchor="middle">600</text>
<text class="tk" transform="translate(515.05,230.90) scale(1,1.07)" y="5.35" text-anchor="middle">800</text>
<text class="al" x="432.52" y="257.50" text-anchor="middle">x(pixel)</text>
<text class="yl" transform="translate(303.10,119.65) rotate(-90)" text-anchor="middle">Phase errors(rad)</text>
<polyline points="595.51,119.48 595.73,122.01 595.95,126.86 596.17,129.15 596.39,131.25 596.61,131.38 596.83,129.93 597.05,125.83 597.27,122.17 597.49,119.01 597.71,119.03 597.93,118.70 598.15,114.23 598.37,109.28 598.59,101.82 598.81,97.98 599.03,99.32 599.26,102.61 599.48,110.24 599.70,114.89 599.92,119.75 600.14,119.27 600.36,119.94 600.58,124.30 600.80,128.52 601.02,134.49 601.24,135.31 601.46,131.86 601.68,129.58 601.90,123.84 602.12,120.54 602.34,119.24 602.56,118.77 602.78,118.02 603.00,115.45 603.22,111.79 603.44,111.28 603.66,110.72 603.88,113.84 604.10,116.34 604.32,118.36 604.54,118.70 604.76,121.02 604.98,123.66 605.20,131.17 605.42,133.00 605.64,134.85 605.86,128.17 606.08,124.69 606.30,119.92 606.52,119.48 606.75,117.64 606.97,111.60 607.19,105.73 607.41,99.37 607.63,100.41 607.85,107.13 608.07,113.14 608.29,118.40 608.51,119.45 608.73,119.92 608.95,121.77 609.17,124.27 609.39,125.01 609.61,125.66 609.83,123.76 610.05,122.61 610.27,118.94 610.49,119.25 610.71,118.95 610.93,115.80 611.15,111.63 611.37,105.77 611.59,103.39 611.81,105.02 612.03,111.41 612.25,115.80 612.47,119.21 612.69,120.12 612.91,120.38 613.13,124.00 613.35,131.21 613.57,138.07 613.79,135.75 614.01,135.24 614.24,130.93 614.46,123.83 614.68,121.52 614.90,119.64 615.12,120.25 615.34,115.95 615.56,107.55 615.78,102.11 616.00,93.27 616.22,91.85 616.44,99.21 616.66,106.25 616.88,113.72 617.10,118.28 617.32,118.09 617.54,119.47 617.76,121.33 617.98,123.84 618.20,125.33 618.42,126.60 618.64,127.33 618.86,124.81 619.08,122.50 619.30,121.24 619.52,119.87 619.74,119.41 619.96,117.56 620.18,113.60 620.40,107.81 620.62,106.62 620.84,103.99 621.06,107.37 621.28,111.63 621.50,116.14 621.73,119.64 621.95,120.94 622.17,119.87 622.39,122.79 622.61,128.27 622.83,130.04 623.05,132.85 623.27,132.63 623.49,129.20 623.71,124.79 623.93,120.37 624.15,119.66 624.37,118.49 624.59,117.50 624.81,111.58 625.03,108.37 625.25,104.37 625.47,105.15 625.69,105.18 625.91,112.08 626.13,116.99 626.35,119.75 626.57,119.50 626.79,120.61 627.01,123.66 627.23,126.96 627.45,130.00 627.67,131.21 627.89,130.05 628.11,125.29 628.33,121.36 628.55,119.78 628.77,119.65 628.99,116.48 629.22,111.19 629.44,102.59 629.66,99.99 629.88,95.18 630.10,98.88 630.32,106.53 630.54,114.55 630.76,119.49 630.98,120.32 631.20,119.95 631.42,128.24 631.64,134.03 631.86,142.11 632.08,145.07 632.30,139.49 632.52,130.07 632.74,123.27 632.96,120.38 633.18,120.14 633.40,119.75 633.62,117.08 633.84,114.83 634.06,114.45 634.28,115.48 634.50,116.66 634.72,118.26 634.94,120.06 635.16,119.73 635.38,120.07 635.60,121.05 635.82,124.66 636.04,125.73 636.26,126.50 636.48,125.42 636.71,124.22 636.93,120.24 637.15,121.01 637.37,119.74 637.59,117.89 637.81,109.25 638.03,102.44 638.25,94.67 638.47,97.10 638.69,102.72 638.91,109.56 639.13,117.09 639.35,119.51 639.57,120.03 639.79,120.42 640.01,124.11 640.23,127.64 640.45,128.54 640.67,128.82 640.89,124.81 641.11,123.44 641.33,120.76 641.55,118.96 641.77,120.66 641.99,118.29 642.21,113.80 642.43,114.27 642.65,111.25 642.87,109.78 643.09,113.39 643.31,114.58 643.53,117.76 643.75,119.04 643.97,118.64 644.20,120.11 644.42,122.72 644.64,126.46 644.86,129.82 645.08,131.83 645.30,130.25 645.52,125.64 645.74,122.31 645.96,119.30 646.18,119.38 646.40,117.34 646.62,115.74 646.84,111.72 647.06,107.23 647.28,109.52 647.50,111.77 647.72,113.93 647.94,118.50 648.16,120.00 648.38,120.37 648.60,121.97 648.82,126.88 649.04,131.35 649.26,130.44 649.48,128.82 649.70,124.74 649.92,120.90 650.14,119.61 650.36,118.83 650.58,115.13 650.80,111.47 651.02,109.16 651.24,106.95 651.46,108.95 651.69,113.33 651.91,118.34 652.13,119.08 652.35,120.04 652.57,121.89 652.79,125.09 653.01,131.57 653.23,132.49 653.45,134.74 653.67,134.71 653.89,126.07 654.11,124.16 654.33,120.68 654.55,119.34 654.77,118.29 654.99,115.36 655.21,108.64 655.43,104.14 655.65,100.45 655.87,102.04 656.09,107.33 656.31,111.02 656.53,117.60 656.75,118.44 656.97,120.78 657.19,120.81 657.41,120.72 657.63,122.69 657.85,126.38 658.07,128.09 658.29,125.29 658.51,125.24 658.73,122.83 658.95,119.08 659.18,119.47 659.40,118.52 659.62,117.64 659.84,112.92 660.06,105.18 660.28,97.94 660.50,100.39 660.72,101.80 660.94,106.04 661.16,113.34 661.38,119.17 661.60,119.56 661.82,120.98 662.04,121.34 662.26,125.38 662.48,128.04 662.70,127.41 662.92,129.09 663.14,125.14 663.36,122.44 663.58,120.81 663.80,119.14 664.02,119.00 664.24,112.78 664.46,108.10 664.68,99.86 664.90,96.55 665.12,102.32 665.34,108.10 665.56,114.81 665.78,119.13 666.00,119.19 666.22,121.69 666.44,129.28 666.67,140.55 666.89,148.28 667.11,150.06 667.33,144.18 667.55,134.21 667.77,125.40 667.99,120.52 668.21,118.52 668.43,120.35 668.65,116.56 668.87,116.78 669.09,115.18 669.31,114.94 669.53,114.73 669.75,116.98 669.97,118.31 670.19,119.68 670.41,118.36 670.63,119.79 670.85,122.72 671.07,125.37 671.29,127.83 671.51,128.49 671.73,129.43 671.95,127.63 672.17,124.05 672.39,119.81 672.61,120.44 672.83,119.26 673.05,115.02 673.27,105.83 673.49,92.96 673.71,88.89 673.93,88.89 674.16,94.89 674.38,106.39 674.60,114.28 674.82,118.47 675.04,119.89 675.26,121.21 675.48,123.71 675.70,125.64 675.92,128.81 676.14,128.61 676.36,129.01 676.58,124.92 676.80,120.48 677.02,119.34 677.24,119.36 677.46,116.21 677.68,110.66 677.90,104.10 678.12,97.58 678.34,97.38 678.56,101.83 678.78,109.29 679.00,114.68 679.22,119.92 679.44,120.77 679.66,121.82 679.88,126.10 680.10,135.68 680.32,141.00 680.54,142.01 680.76,137.43 680.98,132.37 681.20,124.57 681.42,120.63 681.65,118.73 681.87,120.08 682.09,117.55 682.31,116.14 682.53,114.49 682.75,113.71 682.97,114.61 683.19,115.64 683.41,116.81 683.63,119.10 683.85,119.55 684.07,120.86 684.29,124.92 684.51,131.30 684.73,134.82 684.95,137.73 685.17,132.71 685.39,127.88 685.61,121.22 685.83,120.09 686.05,119.70 686.27,117.47 686.49,113.48 686.71,107.75 686.93,103.32 687.15,105.39 687.37,109.51 687.59,114.56 687.81,116.98 688.03,119.09 688.25,120.13 688.47,121.14 688.69,122.98 688.91,124.13 689.14,126.11 689.36,124.51 689.58,122.34 689.80,121.89 690.02,120.29 690.24,119.56 690.46,118.96 690.68,115.11 690.90,109.87 691.12,102.52 691.34,98.02 691.56,100.68 691.78,104.64 692.00,113.15 692.22,117.18 692.44,119.65 692.66,119.28 692.88,121.16 693.10,122.78 693.32,124.97 693.54,127.54 693.76,129.21 693.98,124.52 694.20,122.06 694.42,119.84 694.64,118.47 694.86,118.80 695.08,115.45 695.30,109.84 695.52,102.92 695.74,97.14 695.96,102.25 696.18,105.10 696.40,110.60 696.63,116.68 696.85,119.14 697.07,120.15 697.29,121.28 697.51,128.90 697.73,133.76 697.95,140.46 698.17,141.01 698.39,139.26 698.61,132.31 698.83,124.92 699.05,120.38 699.27,117.96 699.49,119.72 699.71,114.83 699.93,107.88 700.15,106.07 700.37,98.87 700.59,100.75 700.81,103.59 701.03,112.07 701.25,117.05 701.47,119.22 701.69,119.38 701.91,122.40 702.13,124.76 702.35,129.44 702.57,135.70 702.79,132.84 703.01,130.13 703.23,125.95 703.45,121.75 703.67,119.47 703.89,119.04 704.12,118.93 704.34,117.49 704.56,115.61 704.78,114.10 705.00,112.40 705.22,114.98 705.44,118.58 705.66,119.17 705.88,119.13 706.10,120.01 706.32,124.07 706.54,130.09 706.76,133.77 706.98,136.13 707.20,133.51 707.42,128.73 707.64,122.38 707.86,120.75 708.08,119.17 708.30,118.65 708.52,115.91 708.74,111.15 708.96,108.27 709.18,109.06 709.40,110.26 709.62,113.58 709.84,118.00 710.06,119.15 710.28,120.04 710.50,119.88 710.72,121.81 710.94,125.59 711.16,128.72 711.38,131.38 711.61,130.19 711.83,127.41 712.05,123.78 712.27,119.33 712.49,120.81 712.71,119.59 712.93,118.24 713.15,109.24 713.37,99.98 713.59,93.34 713.81,91.06 714.03,97.64 714.25,103.89 714.47,113.79 714.69,119.09 714.91,119.88 715.13,121.19 715.35,125.85 715.57,130.15 715.79,133.39 716.01,139.32 716.23,136.08 716.45,130.85 716.67,124.88 716.89,120.18 717.11,119.67 717.33,117.87 717.55,116.83 717.77,114.34 717.99,111.56 718.21,109.94 718.43,111.91 718.65,115.09 718.87,116.55 719.10,118.00 719.32,119.72 719.54,120.33 719.76,121.53 719.98,124.57 720.20,132.39 720.42,135.56 720.64,133.29 720.86,132.06 721.08,126.87 721.30,121.65 721.52,119.82 721.74,118.53 721.96,116.50 722.18,112.86 722.40,104.52 722.62,98.11 722.84,93.84 723.06,101.23 723.28,106.36 723.50,115.24 723.72,119.46 723.94,118.98 724.16,121.73 724.38,126.33 724.60,132.76 724.82,139.88 725.04,140.07 725.26,134.62 725.48,128.09 725.70,122.09 725.92,119.46 726.14,117.55 726.36,115.90 726.59,109.53 726.81,102.11 727.03,97.96 727.25,103.30 727.47,108.12 727.69,115.63 727.91,118.71 728.13,118.43 728.35,119.43 728.57,119.87 728.79,123.50 729.01,123.85 729.23,124.45 729.45,123.03 729.67,121.27 729.89,120.07 730.11,119.73 730.33,119.37 730.55,114.25 730.77,108.37 730.99,106.07 731.21,103.75 731.43,108.70 731.65,113.46 731.87,118.04 732.09,120.45 732.31,119.38 732.53,120.93 732.75,125.60 732.97,128.22 733.19,126.80 733.41,126.74 733.63,124.00 733.85,120.98 734.08,119.33 734.30,119.01 734.52,117.76 734.74,113.15 734.96,108.13 735.18,102.94 735.40,105.04 735.62,104.23 735.84,109.96 736.06,116.07 736.28,118.27 736.50,118.48 736.72,120.27 736.94,124.55 737.16,130.77 737.38,138.13 737.60,143.58 737.82,142.66 738.04,139.38 738.26,131.50 738.48,123.85 738.70,121.02 738.92,119.82 739.14,120.26 739.36,114.09 739.58,110.21 739.80,103.34 740.02,100.19 740.24,102.62 740.46,104.33 740.68,109.42 740.90,115.75 741.12,118.79 741.34,118.89 741.57,121.01 741.79,124.67 742.01,126.28 742.23,131.26 742.45,131.89 742.67,128.51 742.89,124.86 743.11,121.39 743.33,119.72 743.55,119.76 743.77,116.86 743.99,111.72 744.21,104.69 744.43,102.18 744.65,102.55 744.87,108.17 745.09,113.32 745.31,118.40 745.53,120.60 745.75,119.68 745.97,123.53 746.19,128.53 746.41,132.88 746.63,134.56 746.85,132.38 747.07,127.49 747.29,123.15 747.51,121.18 747.73,119.76 747.95,118.66 748.17,109.17 748.39,98.90 748.61,88.89 748.83,88.89 749.06,88.89 749.28,93.57 749.50,103.93 749.72,113.92 749.94,118.38 750.16,119.13 750.38,120.29 750.60,123.27 750.82,127.75 751.04,131.07 751.26,132.18 751.48,130.71 751.70,127.24 751.92,123.24 752.14,121.32 752.36,120.64 752.58,119.21 752.80,117.33 753.02,116.11 753.24,111.84 753.46,108.68 753.68,108.34 753.90,108.82 754.12,113.18 754.34,117.70 754.56,119.18 754.78,120.92 755.00,120.82 755.22,123.54 755.44,126.97 755.66,131.86 755.88,133.38 756.10,132.65 756.32,129.76 756.55,123.20 756.77,120.12 756.99,119.21 757.21,117.63 757.43,113.23 757.65,106.03 757.87,97.83 758.09,97.21 758.31,98.34 758.53,105.60 758.75,112.78 758.97,117.51 759.19,120.49 759.41,120.24 759.63,124.63 759.85,132.55 760.07,137.86 760.29,140.38 760.51,140.68 760.73,135.19 760.95,127.96 761.17,122.18 761.39,121.21 761.61,119.11 761.83,117.01 762.05,112.88 762.27,108.17 762.49,106.11 762.71,108.23 762.93,110.87 763.15,115.12 763.37,116.75 763.59,119.43 763.81,118.74 764.04,124.33 764.26,132.41 764.48,141.60 764.70,150.06 764.92,150.06 765.14,142.58 765.36,131.20 765.58,123.35 765.80,119.48 766.02,118.77 766.24,115.44 766.46,107.30 766.68,99.12 766.90,90.97 767.12,93.18 767.34,100.53 767.56,108.50 767.78,115.78 768.00,119.54 768.22,120.73 768.44,121.46 768.66,124.68 768.88,127.62 769.10,128.69 769.32,128.50 769.54,126.26 769.76,123.06 769.98,121.22 770.20,120.03 770.42,119.07 770.64,116.72 770.86,112.53 771.08,105.52 771.30,103.81 771.53,103.45 771.75,108.33 771.97,112.43 772.19,116.25 772.41,118.96 772.63,119.97 772.85,122.83 773.07,130.74 773.29,139.08 773.51,144.99 773.73,144.74 773.95,142.04 774.17,131.69 774.39,123.33 774.61,121.08 774.83,119.32 775.05,119.71 775.27,113.52 775.49,106.97 775.71,101.16 775.93,100.21 776.15,100.90 776.37,105.40 776.59,111.21 776.81,118.56 777.03,119.62 777.25,119.98 777.47,123.08 777.69,127.82 777.91,133.84 778.13,136.14 778.35,136.01 778.57,132.60 778.79,125.95 779.02,120.84 779.24,120.93 779.46,118.93 779.68,115.78 779.90,107.40 780.12,98.87 780.34,97.02 780.56,97.48 780.78,104.86 781.00,111.92 781.22,118.12 781.44,119.36 781.66,120.28 781.88,121.69 782.10,125.74 782.32,129.00 782.54,131.83" fill="none" stroke="#0072BD" stroke-width="0.55" stroke-linejoin="round"/>
<polyline points="595.51,119.48 595.73,120.86 595.95,123.51 596.17,124.76 596.39,125.91 596.61,125.98 596.83,125.19 597.05,122.95 597.27,120.95 597.49,119.22 597.71,119.29 597.93,119.15 598.15,117.27 598.37,115.18 598.59,112.04 598.81,110.42 599.03,110.99 599.26,112.37 599.48,115.59 599.70,117.54 599.92,119.59 600.14,119.41 600.36,119.62 600.58,120.96 600.80,122.25 601.02,124.08 601.24,124.33 601.46,123.27 601.68,122.57 601.90,120.81 602.12,119.80 602.34,119.40 602.56,119.23 602.78,118.96 603.00,118.05 603.22,116.76 603.44,116.58 603.66,116.38 603.88,117.48 604.10,118.37 604.32,119.08 604.54,119.05 604.76,120.32 604.98,121.77 605.20,125.87 605.42,126.88 605.64,127.89 605.86,124.23 606.08,122.33 606.30,119.72 606.52,119.48 606.75,118.61 606.97,115.74 607.19,112.96 607.41,109.95 607.63,110.44 607.85,113.63 608.07,116.47 608.29,118.96 608.51,119.47 608.73,119.66 608.95,120.43 609.17,121.46 609.39,121.77 609.61,122.04 609.83,121.25 610.05,120.77 610.27,119.25 610.49,119.38 610.71,119.20 610.93,117.56 611.15,115.39 611.37,112.34 611.59,111.10 611.81,111.94 612.03,115.27 612.25,117.56 612.47,119.34 612.69,119.67 612.91,119.75 613.13,120.84 613.35,123.01 613.57,125.08 613.79,124.38 614.01,124.23 614.24,122.93 614.46,120.79 614.68,120.09 614.90,119.52 615.12,119.94 615.34,117.37 615.56,112.36 615.78,109.12 616.00,103.84 616.22,103.00 616.44,107.39 616.66,111.59 616.88,116.04 617.10,118.76 617.32,118.47 617.54,119.47 617.76,120.83 617.98,122.66 618.20,123.74 618.42,124.67 618.64,125.20 618.86,123.37 619.08,121.68 619.30,120.76 619.52,119.76 619.74,119.43 619.96,118.06 620.18,115.12 620.40,110.83 620.62,109.95 620.84,108.00 621.06,110.50 621.28,113.66 621.50,117.00 621.73,119.60 621.95,120.54 622.17,119.76 622.39,121.88 622.61,125.86 622.83,127.15 623.05,129.19 623.27,129.03 623.49,126.54 623.71,123.34 623.93,120.13 624.15,119.61 624.37,118.89 624.59,118.30 624.81,114.78 625.03,112.88 625.25,110.50 625.47,110.96 625.69,110.98 625.91,115.08 626.13,118.00 626.35,119.64 626.57,119.49 626.79,120.00 627.01,121.40 627.23,122.92 627.45,124.33 627.67,124.89 627.89,124.35 628.11,122.15 628.33,120.34 628.55,119.61 628.77,119.60 628.99,117.29 629.22,113.43 629.44,107.16 629.66,105.27 629.88,101.76 630.10,104.46 630.32,110.04 630.54,115.89 630.76,119.49 630.98,120.03 631.20,119.78 631.42,125.20 631.64,128.98 631.86,134.26 632.08,136.19 632.30,132.54 632.52,126.39 632.74,121.96 632.96,120.06 633.18,119.93 633.40,119.67 633.62,117.84 633.84,116.30 634.06,116.03 634.28,116.74 634.50,117.55 634.72,118.65 634.94,119.88 635.16,119.65 635.38,119.77 635.60,120.27 635.82,122.10 636.04,122.64 636.26,123.02 636.48,122.48 636.71,121.87 636.93,119.86 637.15,120.25 637.37,119.56 637.59,118.98 637.81,116.27 638.03,114.15 638.25,111.72 638.47,112.48 638.69,114.23 638.91,116.37 639.13,118.73 639.35,119.49 639.57,119.79 639.79,120.02 640.01,122.14 640.23,124.17 640.45,124.69 640.67,124.85 640.89,122.54 641.11,121.75 641.33,120.21 641.55,119.18 641.77,119.96 641.99,118.99 642.21,117.14 642.43,117.33 642.65,116.09 642.87,115.49 643.09,116.97 643.31,117.46 643.53,118.77 643.75,119.30 643.97,119.20 644.20,119.68 644.42,120.53 644.64,121.75 644.86,122.85 645.08,123.50 645.30,122.99 645.52,121.48 645.74,120.40 645.96,119.42 646.18,119.43 646.40,118.60 646.62,117.95 646.84,116.30 647.06,114.46 647.28,115.40 647.50,116.32 647.72,117.20 647.94,119.07 648.16,119.69 648.38,119.92 648.60,120.71 648.82,123.15 649.04,125.36 649.26,124.91 649.48,124.11 649.70,122.08 649.92,120.18 650.14,119.54 650.36,119.22 650.58,117.76 650.80,116.32 651.02,115.41 651.24,114.54 651.46,115.32 651.69,117.05 651.91,119.03 652.13,119.32 652.35,119.81 652.57,120.90 652.79,122.79 653.01,126.62 653.23,127.17 653.45,128.50 653.67,128.48 653.89,123.37 654.11,122.24 654.33,120.18 654.55,119.42 654.77,118.98 654.99,117.76 655.21,114.97 655.43,113.09 655.65,111.56 655.87,112.22 656.09,114.42 656.31,115.96 656.53,118.69 656.75,119.05 656.97,119.95 657.19,119.96 657.41,119.93 657.63,120.65 657.85,121.99 658.07,122.62 658.29,121.60 658.51,121.58 658.73,120.70 658.95,119.33 659.18,119.47 659.40,118.97 659.62,118.51 659.84,116.02 660.06,111.93 660.28,108.11 660.50,109.40 660.72,110.15 660.94,112.39 661.16,116.24 661.38,119.31 661.60,119.52 661.82,119.95 662.04,120.07 662.26,121.35 662.48,122.20 662.70,121.99 662.92,122.53 663.14,121.28 663.36,120.42 663.58,119.90 663.80,119.37 664.02,119.19 664.24,115.54 664.46,112.78 664.68,107.93 664.90,105.99 665.12,109.38 665.34,112.78 665.56,116.73 665.78,119.27 666.00,119.34 666.22,120.53 666.44,124.14 666.67,129.51 666.89,133.19 667.11,134.03 667.33,131.24 667.55,126.49 667.77,122.29 667.99,119.97 668.21,118.78 668.43,120.12 668.65,117.35 668.87,117.50 669.09,116.34 669.31,116.17 669.53,116.01 669.75,117.65 669.97,118.63 670.19,119.62 670.41,118.66 670.63,119.58 670.85,120.57 671.07,121.45 671.29,122.28 671.51,122.50 671.73,122.82 671.95,122.21 672.17,121.01 672.39,119.59 672.61,119.80 672.83,119.39 673.05,117.58 673.27,113.68 673.49,108.21 673.71,106.48 673.93,106.48 674.16,109.03 674.38,113.92 674.60,117.27 674.82,119.05 675.04,119.70 675.26,120.41 675.48,121.77 675.70,122.81 675.92,124.53 676.14,124.42 676.36,124.64 676.58,122.43 676.80,120.02 677.02,119.40 677.24,119.43 677.46,118.08 677.68,115.71 677.90,112.91 678.12,110.12 678.34,110.04 678.56,111.94 678.78,115.12 679.00,117.43 679.22,119.67 679.44,119.98 679.66,120.39 679.88,122.05 680.10,125.78 680.32,127.86 680.54,128.25 680.76,126.46 680.98,124.49 681.20,121.46 681.42,119.92 681.65,119.04 681.87,119.84 682.09,118.33 682.31,117.50 682.53,116.52 682.75,116.06 682.97,116.59 683.19,117.20 683.41,117.90 683.63,119.25 683.85,119.53 684.07,120.43 684.29,123.22 684.51,127.62 684.73,130.04 684.95,132.04 685.17,128.59 685.39,125.26 685.61,120.68 685.83,119.90 686.05,119.60 686.27,118.31 686.49,116.00 686.71,112.68 686.93,110.11 687.15,111.31 687.37,113.70 687.59,116.62 687.81,118.03 688.03,119.25 688.25,119.91 688.47,120.58 688.69,121.80 688.91,122.57 689.14,123.89 689.36,122.82 689.58,121.38 689.80,121.08 690.02,120.01 690.24,119.53 690.46,119.10 690.68,116.31 690.90,112.52 691.12,107.20 691.34,103.94 691.56,105.87 691.78,108.73 692.00,114.90 692.22,117.81 692.44,119.60 692.66,119.35 692.88,120.57 693.10,121.61 693.32,123.02 693.54,124.68 693.76,125.76 693.98,122.73 694.20,121.15 694.42,119.71 694.64,118.82 694.86,119.07 695.08,117.05 695.30,113.66 695.52,109.47 695.74,105.98 695.96,109.07 696.18,110.79 696.40,114.12 696.63,117.79 696.85,119.27 697.07,119.73 697.29,120.17 697.51,123.11 697.73,124.99 697.95,127.57 698.17,127.78 698.39,127.11 698.61,124.43 698.83,121.58 699.05,119.82 699.27,118.89 699.49,119.55 699.71,118.06 699.93,115.94 700.15,115.39 700.37,113.20 700.59,113.77 700.81,114.63 701.03,117.22 701.25,118.74 701.47,119.40 701.69,119.44 701.91,120.70 702.13,121.68 702.35,123.64 702.57,126.26 702.79,125.06 703.01,123.93 703.23,122.18 703.45,120.43 703.67,119.47 703.89,119.19 704.12,119.11 704.34,118.14 704.56,116.87 704.78,115.86 705.00,114.72 705.22,116.45 705.44,118.87 705.66,119.27 705.88,119.24 706.10,119.76 706.32,121.88 706.54,125.03 706.76,126.96 706.98,128.19 707.20,126.82 707.42,124.32 707.64,121.00 707.86,120.14 708.08,119.29 708.30,118.97 708.52,117.31 708.74,114.42 708.96,112.68 709.18,113.16 709.40,113.88 709.62,115.90 709.84,118.58 710.06,119.28 710.28,119.81 710.50,119.73 710.72,120.97 710.94,123.39 711.16,125.39 711.38,127.09 711.61,126.33 711.83,124.55 712.05,122.23 712.27,119.38 712.49,120.33 712.71,119.53 712.93,118.90 713.15,114.68 713.37,110.34 713.59,107.23 713.81,106.16 714.03,109.25 714.25,112.17 714.47,116.81 714.69,119.30 714.91,119.74 715.13,120.58 715.35,123.58 715.57,126.36 715.79,128.45 716.01,132.27 716.23,130.18 716.45,126.81 716.67,122.96 716.89,119.93 717.11,119.60 717.33,118.82 717.55,118.40 717.77,117.38 717.99,116.25 718.21,115.59 718.43,116.39 718.65,117.69 718.87,118.28 719.10,118.87 719.32,119.57 719.54,120.02 719.76,120.78 719.98,122.71 720.20,127.69 720.42,129.71 720.64,128.26 720.86,127.48 721.08,124.18 721.30,120.86 721.52,119.69 721.74,119.06 721.96,118.17 722.18,116.57 722.40,112.90 722.62,110.08 722.84,108.21 723.06,111.45 723.28,113.71 723.50,117.61 723.72,119.47 723.94,119.24 724.16,120.54 724.38,122.70 724.60,125.73 724.82,129.08 725.04,129.17 725.26,126.60 725.48,123.53 725.70,120.71 725.92,119.47 726.14,118.20 726.36,117.12 726.59,112.90 726.81,108.00 727.03,105.26 727.25,108.78 727.47,111.97 727.69,116.93 727.91,118.97 728.13,119.01 728.35,119.46 728.57,119.65 728.79,121.26 729.01,121.41 729.23,121.68 729.45,121.05 729.67,120.27 729.89,119.74 730.11,119.56 730.33,119.44 730.55,117.85 730.77,116.02 730.99,115.30 731.21,114.58 731.43,116.12 731.65,117.60 731.87,119.03 732.09,119.78 732.31,119.41 732.53,120.45 732.75,123.60 732.97,125.36 733.19,124.40 733.41,124.36 733.63,122.52 733.85,120.48 734.08,119.38 734.30,119.18 734.52,118.38 734.74,115.42 734.96,112.20 735.18,108.87 735.40,110.22 735.62,109.70 735.84,113.37 736.06,117.29 736.28,118.70 736.50,118.84 736.72,120.06 736.94,123.18 737.16,127.73 737.38,133.12 737.60,137.10 737.82,136.43 738.04,134.04 738.26,128.27 738.48,122.68 738.70,120.61 738.92,119.73 739.14,119.85 739.36,116.91 739.58,115.06 739.80,111.78 740.02,110.28 740.24,111.44 740.46,112.25 740.68,114.68 740.90,117.70 741.12,119.15 741.34,119.28 741.57,119.98 741.79,121.18 742.01,121.71 742.23,123.34 742.45,123.54 742.67,122.44 742.89,121.24 743.11,120.10 743.33,119.56 743.55,119.62 743.77,118.20 743.99,115.70 744.21,112.28 744.43,111.05 744.65,111.24 744.87,113.97 745.09,116.48 745.31,118.95 745.53,120.02 745.75,119.59 745.97,121.78 746.19,124.63 746.41,127.10 746.63,128.06 746.85,126.82 747.07,124.03 747.29,121.57 747.51,120.45 747.73,119.64 747.95,119.18 748.17,115.79 748.39,112.11 748.61,108.53 748.83,108.53 749.06,108.53 749.28,110.20 749.50,113.91 749.72,117.49 749.94,119.08 750.16,119.24 750.38,120.03 750.60,122.04 750.82,125.06 751.04,127.30 751.26,128.05 751.48,127.06 751.70,124.72 751.92,122.02 752.14,120.72 752.36,120.26 752.58,119.31 752.80,118.14 753.02,117.38 753.24,114.73 753.46,112.77 753.68,112.55 753.90,112.85 754.12,115.56 754.34,118.37 754.56,119.29 754.78,120.46 755.00,120.39 755.22,122.24 755.44,124.58 755.66,127.91 755.88,128.94 756.10,128.44 756.32,126.47 756.55,122.01 756.77,119.91 756.99,119.30 757.21,118.30 757.43,115.52 757.65,110.96 757.87,105.76 758.09,105.37 758.31,106.09 758.53,110.68 758.75,115.23 758.97,118.23 759.19,120.12 759.41,119.98 759.63,122.87 759.85,128.09 760.07,131.59 760.29,133.26 760.51,133.45 760.73,129.83 760.95,125.07 761.17,121.26 761.39,120.62 761.61,119.35 761.83,118.65 762.05,117.28 762.27,115.71 762.49,115.02 762.71,115.73 762.93,116.61 763.15,118.02 763.37,118.57 763.59,119.46 763.81,119.01 764.04,122.52 764.26,127.59 764.48,133.36 764.70,138.67 764.92,138.67 765.14,133.97 765.36,126.83 765.58,121.91 765.80,119.48 766.02,119.12 766.24,117.44 766.46,113.32 766.68,109.19 766.90,105.08 767.12,106.20 767.34,109.91 767.56,113.93 767.78,117.61 768.00,119.51 768.22,120.28 768.44,120.75 768.66,122.81 768.88,124.71 769.10,125.39 769.32,125.27 769.54,123.83 769.76,121.78 769.98,120.60 770.20,119.83 770.42,119.31 770.64,118.35 770.86,116.64 771.08,113.78 771.30,113.09 771.53,112.94 771.75,114.93 771.97,116.60 772.19,118.16 772.41,119.26 772.63,119.64 772.85,120.58 773.07,123.18 773.29,125.92 773.51,127.86 773.73,127.78 773.95,126.89 774.17,123.49 774.39,120.74 774.61,120.00 774.83,119.41 775.05,119.57 775.27,116.95 775.49,114.18 775.71,111.71 775.93,111.31 776.15,111.60 776.37,113.51 776.59,115.97 776.81,119.09 777.03,119.54 777.25,119.75 777.47,121.44 777.69,124.02 777.91,127.29 778.13,128.55 778.35,128.48 778.57,126.62 778.79,123.00 779.02,120.22 779.24,120.27 779.46,119.15 779.68,117.28 779.90,112.29 780.12,107.22 780.34,106.12 780.56,106.39 780.78,110.78 781.00,114.98 781.22,118.67 781.44,119.41 781.66,119.95 781.88,120.77 782.10,123.15 782.32,125.05 782.54,126.72" fill="none" stroke="#0a6aae" stroke-width="0.4" stroke-linejoin="round"/>
<rect x="595.40" y="22.90" width="187.25" height="193.15" fill="none" stroke="#b4b4b4" stroke-width="1.2"/>
<path d="M639.46,216.05v-1.9M639.46,22.90v1.9M683.52,216.05v-1.9M683.52,22.90v1.9M727.58,216.05v-1.9M727.58,22.90v1.9M771.64,216.05v-1.9M771.64,22.90v1.9M595.40,183.86h1.9M782.65,183.86h-1.9M595.40,151.67h1.9M782.65,151.67h-1.9M595.40,119.48h1.9M782.65,119.48h-1.9M595.40,87.28h1.9M782.65,87.28h-1.9M595.40,55.09h1.9M782.65,55.09h-1.9" stroke="#8a8a8a" stroke-width="1" fill="none"/>
<text class="tk" transform="translate(590.80,55.59) scale(1,1.07)" y="5.35" text-anchor="end">0.2</text>
<text class="tk" transform="translate(590.80,87.78) scale(1,1.07)" y="5.35" text-anchor="end">0.1</text>
<text class="tk" transform="translate(590.80,119.98) scale(1,1.07)" y="5.35" text-anchor="end">0</text>
<text class="tk" transform="translate(590.80,152.17) scale(1,1.07)" y="5.35" text-anchor="end">-0.1</text>
<text class="tk" transform="translate(590.80,184.36) scale(1,1.07)" y="5.35" text-anchor="end">-0.2</text>
<text class="tk" transform="translate(590.80,216.55) scale(1,1.07)" y="5.35" text-anchor="end">-0.3</text>
<text class="tk" transform="translate(639.46,231.05) scale(1,1.07)" y="5.35" text-anchor="middle">200</text>
<text class="tk" transform="translate(683.52,231.05) scale(1,1.07)" y="5.35" text-anchor="middle">400</text>
<text class="tk" transform="translate(727.58,231.05) scale(1,1.07)" y="5.35" text-anchor="middle">600</text>
<text class="tk" transform="translate(771.64,231.05) scale(1,1.07)" y="5.35" text-anchor="middle">800</text>
<text class="al" x="689.02" y="257.65" text-anchor="middle">x(pixel)</text>
<text class="yl" transform="translate(559.50,119.48) rotate(-90)" text-anchor="middle">Phase errors(rad)</text>
<polyline points="82.41,374.91 82.63,358.09 82.85,364.96 83.07,383.63 83.29,341.95 83.51,355.44 83.73,356.51 83.95,359.24 84.17,350.40 84.39,363.00 84.61,350.21 84.83,347.49 85.05,361.66 85.27,355.86 85.49,354.45 85.71,370.34 85.93,351.59 86.16,355.63 86.38,342.70 86.60,353.41 86.82,363.89 87.04,366.20 87.26,359.45 87.48,377.05 87.70,383.54 87.92,365.55 88.14,340.45 88.36,351.13 88.58,347.14 88.80,354.07 89.02,361.11 89.24,353.08 89.46,375.47 89.68,351.42 89.90,359.36 90.12,376.32 90.34,356.86 90.56,348.66 90.78,359.69 91.00,341.97 91.22,343.90 91.44,363.63 91.66,365.51 91.88,359.78 92.10,361.56 92.32,348.75 92.54,344.29 92.76,348.39 92.98,348.36 93.20,356.55 93.42,358.42 93.65,365.19 93.87,335.76 94.09,350.45 94.31,353.50 94.53,365.23 94.75,372.43 94.97,323.41 95.19,358.22 95.41,356.40 95.63,345.91 95.85,356.47 96.07,346.96 96.29,349.21 96.51,347.71 96.73,355.53 96.95,345.73 97.17,350.76 97.39,348.94 97.61,351.36 97.83,350.39 98.05,346.95 98.27,343.14 98.49,358.33 98.71,355.75 98.93,353.90 99.15,344.98 99.37,357.88 99.59,353.48 99.81,352.55 100.03,363.13 100.25,348.75 100.47,374.55 100.69,377.95 100.91,374.77 101.14,370.32 101.36,366.54 101.58,362.31 101.80,354.93 102.02,362.50 102.24,362.50 102.46,350.68 102.68,357.95 102.90,353.84 103.12,360.46 103.34,369.44 103.56,357.18 103.78,357.74 104.00,352.37 104.22,355.31 104.44,362.71 104.66,338.72 104.88,365.55 105.10,372.02 105.32,360.09 105.54,359.47 105.76,349.67 105.98,361.07 106.20,355.80 106.42,354.00 106.64,350.17 106.86,365.03 107.08,356.02 107.30,371.00 107.52,347.04 107.74,365.13 107.96,363.34 108.18,350.21 108.40,354.99 108.63,355.33 108.85,347.23 109.07,359.45 109.29,360.87 109.51,344.74 109.73,360.94 109.95,354.07 110.17,369.17 110.39,358.14 110.61,362.39 110.83,356.47 111.05,338.67 111.27,380.86 111.49,371.01 111.71,363.85 111.93,358.49 112.15,374.33 112.37,360.35 112.59,317.01 112.81,361.36 113.03,372.86 113.25,336.05 113.47,362.08 113.69,356.75 113.91,385.14 114.13,368.82 114.35,359.96 114.57,388.33 114.79,362.27 115.01,348.48 115.23,360.57 115.45,352.52 115.67,370.73 115.89,371.25 116.12,360.33 116.34,344.85 116.56,345.67 116.78,360.16 117.00,369.48 117.22,346.37 117.44,362.58 117.66,369.53 117.88,365.42 118.10,365.18 118.32,346.06 118.54,364.28 118.76,369.61 118.98,368.50 119.20,378.77 119.42,348.56 119.64,368.52 119.86,354.60 120.08,362.84 120.30,358.33 120.52,370.87 120.74,347.57 120.96,330.76 121.18,332.52 121.40,348.73 121.62,340.67 121.84,364.80 122.06,370.01 122.28,336.32 122.50,367.41 122.72,339.82 122.94,348.10 123.16,374.62 123.38,367.11 123.61,367.10 123.83,355.33 124.05,366.33 124.27,361.83 124.49,375.93 124.71,343.06 124.93,349.88 125.15,357.78 125.37,374.80 125.59,356.96 125.81,330.76 126.03,354.46 126.25,345.66 126.47,379.78 126.69,360.34 126.91,359.26 127.13,345.69 127.35,366.86 127.57,353.06 127.79,345.47 128.01,355.23 128.23,357.57 128.45,351.07 128.67,366.56 128.89,373.24 129.11,375.19 129.33,356.90 129.55,361.99 129.77,360.68 129.99,325.33 130.21,360.39 130.43,340.33 130.65,362.72 130.87,368.92 131.10,371.88 131.32,368.49 131.54,351.82 131.76,358.30 131.98,367.05 132.20,355.33 132.42,366.75 132.64,360.38 132.86,354.62 133.08,354.30 133.30,347.57 133.52,341.87 133.74,359.35 133.96,351.30 134.18,352.52 134.40,364.06 134.62,352.98 134.84,348.53 135.06,374.60 135.28,353.26 135.50,353.13 135.72,354.25 135.94,373.62 136.16,348.55 136.38,360.96 136.60,368.33 136.82,376.20 137.04,355.55 137.26,361.05 137.48,372.72 137.70,341.71 137.92,371.11 138.14,352.00 138.36,369.05 138.59,361.36 138.81,325.97 139.03,361.56 139.25,352.89 139.47,357.62 139.69,341.88 139.91,349.31 140.13,351.28 140.35,363.37 140.57,360.08 140.79,353.74 141.01,338.55 141.23,340.76 141.45,353.46 141.67,344.87 141.89,355.54 142.11,355.08 142.33,356.88 142.55,360.68 142.77,352.29 142.99,330.76 143.21,360.18 143.43,345.49 143.65,335.44 143.87,356.91 144.09,349.53 144.31,361.78 144.53,355.53 144.75,341.48 144.97,339.29 145.19,354.51 145.41,354.86 145.63,390.89 145.85,342.52 146.08,354.31 146.30,356.18 146.52,344.36 146.74,346.81 146.96,361.59 147.18,335.55 147.40,365.64 147.62,365.92 147.84,339.82 148.06,352.66 148.28,367.14 148.50,338.93 148.72,340.26 148.94,351.10 149.16,349.67 149.38,346.67 149.60,340.12 149.82,350.18 150.04,360.96 150.26,351.78 150.48,357.46 150.70,370.41 150.92,360.20 151.14,366.86 151.36,355.46 151.58,344.07 151.80,350.38 152.02,330.76 152.24,347.64 152.46,348.96 152.68,358.52 152.90,339.87 153.12,345.29 153.34,366.92 153.57,358.51 153.79,347.26 154.01,360.59 154.23,353.26 154.45,356.45 154.67,338.29 154.89,375.06 155.11,361.73 155.33,373.90 155.55,369.42 155.77,340.15 155.99,350.42 156.21,353.38 156.43,359.55 156.65,358.04 156.87,336.96 157.09,368.13 157.31,343.84 157.53,345.22 157.75,365.33 157.97,343.51 158.19,361.84 158.41,353.76 158.63,345.37 158.85,352.03 159.07,343.46 159.29,349.47 159.51,381.29 159.73,350.54 159.95,372.42 160.17,385.14 160.39,362.84 160.61,364.75 160.83,337.89 161.06,365.96 161.28,350.45 161.50,358.63 161.72,349.74 161.94,368.53 162.16,346.94 162.38,362.78 162.60,359.34 162.82,354.44 163.04,364.32 163.26,330.76 163.48,353.60 163.70,359.21 163.92,363.76 164.14,360.16 164.36,353.47 164.58,347.15 164.80,368.30 165.02,358.28 165.24,335.00 165.46,352.17 165.68,356.67 165.90,362.44 166.12,369.18 166.34,360.15 166.56,348.58 166.78,350.21 167.00,370.71 167.22,375.10 167.44,361.88 167.66,373.41 167.88,357.65 168.10,355.72 168.32,373.66 168.55,383.01 168.77,376.30 168.99,360.97 169.21,370.13 169.43,353.15 169.65,353.08 169.87,354.00 170.09,355.50 170.31,360.87 170.53,347.56 170.75,373.70 170.97,350.05 171.19,331.71 171.41,343.04 171.63,357.26 171.85,361.29 172.07,355.27 172.29,361.26 172.51,343.01 172.73,365.43 172.95,360.66 173.17,369.77 173.39,319.57 173.61,371.72 173.83,346.53 174.05,349.21 174.27,368.00 174.49,350.96 174.71,345.10 174.93,361.60 175.15,370.41 175.37,374.38 175.59,373.71 175.81,377.15 176.04,360.42 176.26,371.74 176.48,339.75 176.70,357.46 176.92,348.96 177.14,367.21 177.36,343.63 177.58,363.72 177.80,354.89 178.02,354.87 178.24,351.23 178.46,369.55 178.68,366.94 178.90,348.57 179.12,352.12 179.34,362.68 179.56,350.34 179.78,355.02 180.00,361.43 180.22,333.92 180.44,377.98 180.66,357.35 180.88,345.98 181.10,351.41 181.32,336.44 181.54,350.71 181.76,352.36 181.98,363.76 182.20,345.75 182.42,361.56 182.64,358.00 182.86,357.32 183.08,346.73 183.30,358.93 183.53,352.97 183.75,356.70 183.97,368.30 184.19,356.43 184.41,330.76 184.63,353.42 184.85,364.71 185.07,330.76 185.29,362.15 185.51,358.84 185.73,345.43 185.95,368.98 186.17,344.14 186.39,351.21 186.61,385.14 186.83,359.50 187.05,372.54 187.27,331.17 187.49,329.16 187.71,360.26 187.93,367.86 188.15,356.62 188.37,372.91 188.59,363.23 188.81,371.47 189.03,361.94 189.25,354.39 189.47,354.99 189.69,350.89 189.91,363.77 190.13,349.92 190.35,358.44 190.57,356.22 190.79,344.86 191.02,360.00 191.24,370.39 191.46,351.36 191.68,362.20 191.90,359.41 192.12,360.50 192.34,380.97 192.56,373.43 192.78,367.55 193.00,354.14 193.22,383.54 193.44,357.37 193.66,334.83 193.88,350.53 194.10,374.39 194.32,351.14 194.54,366.42 194.76,362.52 194.98,355.80 195.20,354.09 195.42,347.44 195.64,342.88 195.86,339.61 196.08,357.39 196.30,351.56 196.52,341.28 196.74,354.67 196.96,344.06 197.18,347.09 197.40,358.61 197.62,343.23 197.84,352.66 198.06,351.26 198.28,343.93 198.51,362.56 198.73,373.77 198.95,366.37 199.17,371.38 199.39,347.64 199.61,359.21 199.83,357.48 200.05,357.57 200.27,338.55 200.49,346.43 200.71,341.87 200.93,347.98 201.15,358.57 201.37,360.98 201.59,339.71 201.81,355.25 202.03,345.84 202.25,383.54 202.47,357.19 202.69,360.89 202.91,365.04 203.13,351.49 203.35,349.25 203.57,361.24 203.79,337.26 204.01,358.67 204.23,374.17 204.45,351.42 204.67,368.90 204.89,358.68 205.11,351.39 205.33,342.08 205.55,348.20 205.77,348.81 206.00,341.39 206.22,352.11 206.44,341.62 206.66,341.15 206.88,354.05 207.10,361.36 207.32,346.72 207.54,353.13 207.76,354.61 207.98,352.24 208.20,362.02 208.42,363.23 208.64,357.86 208.86,323.41 209.08,356.07 209.30,347.50 209.52,347.86 209.74,352.83 209.96,369.28 210.18,375.44 210.40,371.34 210.62,373.61 210.84,352.79 211.06,352.26 211.28,376.22 211.50,362.95 211.72,359.88 211.94,367.35 212.16,361.77 212.38,381.70 212.60,363.57 212.82,359.24 213.04,355.59 213.26,367.24 213.49,352.34 213.71,367.83 213.93,362.91 214.15,361.17 214.37,367.95 214.59,352.92 214.81,363.24 215.03,365.11 215.25,338.00 215.47,357.77 215.69,359.77 215.91,379.78 216.13,358.89 216.35,342.55 216.57,362.64 216.79,363.05 217.01,352.95 217.23,353.04 217.45,350.68 217.67,356.10 217.89,365.62 218.11,360.27 218.33,355.87 218.55,355.27 218.77,354.52 218.99,365.85 219.21,363.85 219.43,343.63 219.65,363.89 219.87,354.52 220.09,361.28 220.31,378.88 220.53,355.93 220.75,372.00 220.98,344.55 221.20,364.60 221.42,366.93 221.64,362.00 221.86,359.98 222.08,362.90 222.30,361.38 222.52,325.97 222.74,354.48 222.96,347.58 223.18,353.52 223.40,349.08 223.62,360.15 223.84,337.98 224.06,356.83 224.28,372.35 224.50,369.10 224.72,365.87 224.94,358.84 225.16,338.87 225.38,369.04 225.60,350.04 225.82,360.34 226.04,345.91 226.26,354.99 226.48,343.63 226.70,364.46 226.92,353.47 227.14,352.09 227.36,364.35 227.58,360.00 227.80,364.59 228.02,365.14 228.24,362.27 228.47,366.84 228.69,345.18 228.91,353.60 229.13,392.17 229.35,350.99 229.57,348.25 229.79,355.25 230.01,341.95 230.23,356.08 230.45,353.30 230.67,333.49 230.89,362.19 231.11,356.58 231.33,354.00 231.55,369.39 231.77,360.83 231.99,348.72 232.21,340.99 232.43,365.56 232.65,355.02 232.87,363.87 233.09,366.35 233.31,374.83 233.53,359.16 233.75,385.14 233.97,358.83 234.19,364.43 234.41,365.03 234.63,377.57 234.85,381.63 235.07,382.61 235.29,362.64 235.51,354.81 235.73,354.48 235.96,362.37 236.18,342.02 236.40,330.76 236.62,355.66 236.84,362.77 237.06,358.62 237.28,337.77 237.50,364.96 237.72,361.93 237.94,358.70 238.16,360.20 238.38,350.52 238.60,362.54 238.82,370.56 239.04,361.77 239.26,357.77 239.48,337.20 239.70,344.66 239.92,338.09 240.14,355.40 240.36,351.12 240.58,349.65 240.80,353.65 241.02,369.10 241.24,345.90 241.46,348.86 241.68,333.86 241.90,339.84 242.12,356.72 242.34,348.76 242.56,364.51 242.78,341.87 243.00,356.04 243.22,367.71 243.45,376.25 243.67,345.95 243.89,348.13 244.11,364.43 244.33,332.24 244.55,362.80 244.77,341.28 244.99,365.16 245.21,339.79 245.43,363.40 245.65,335.97 245.87,346.98 246.09,354.25 246.31,352.97 246.53,355.37 246.75,354.96 246.97,371.03 247.19,352.81 247.41,343.50 247.63,363.26 247.85,371.87 248.07,373.47 248.29,369.65 248.51,350.51 248.73,357.01 248.95,376.09 249.17,348.68 249.39,367.56 249.61,358.01 249.83,368.31 250.05,375.57 250.27,363.19 250.49,368.20 250.71,366.46 250.94,361.93 251.16,373.49 251.38,355.81 251.60,364.12 251.82,354.15 252.04,349.87 252.26,354.21 252.48,349.71 252.70,341.67 252.92,362.37 253.14,365.82 253.36,369.97 253.58,348.95 253.80,368.61 254.02,353.15 254.24,345.31 254.46,369.30 254.68,346.33 254.90,372.29 255.12,355.33 255.34,363.22 255.56,379.28 255.78,371.31 256.00,346.43 256.22,362.46 256.44,371.21 256.66,347.31 256.88,345.86 257.10,366.21 257.32,353.30 257.54,368.16 257.76,369.96 257.98,348.25 258.20,348.28 258.43,340.37 258.65,349.05 258.87,359.51 259.09,346.42 259.31,366.87 259.53,361.98 259.75,356.06 259.97,361.78 260.19,347.72 260.41,366.41 260.63,349.19 260.85,344.53 261.07,348.85 261.29,341.61 261.51,351.37 261.73,353.33 261.95,375.59 262.17,330.76 262.39,377.19 262.61,350.91 262.83,359.39 263.05,362.04 263.27,364.11 263.49,365.45 263.71,370.58 263.93,358.31 264.15,349.83 264.37,365.12 264.59,355.44 264.81,334.92 265.03,364.23 265.25,354.29 265.47,362.56 265.69,345.83 265.92,342.40 266.14,354.48 266.36,358.79 266.58,355.18 266.80,344.57 267.02,363.76 267.24,360.95 267.46,349.32 267.68,373.41 267.90,377.74 268.12,358.23 268.34,352.62 268.56,357.98 268.78,341.15 269.00,374.51 269.22,369.10 269.44,357.64" fill="none" stroke="#0072BD" stroke-width="0.45" stroke-linejoin="round"/>
<polyline points="82.41,369.85 82.63,358.09 82.85,364.45 83.07,371.55 83.29,346.37 83.51,355.46 83.73,356.52 83.95,359.24 84.17,351.02 84.39,362.80 84.61,350.88 84.83,349.01 85.05,361.58 85.27,355.88 85.49,354.52 85.71,367.98 85.93,351.98 86.16,355.65 86.38,346.64 86.60,353.56 86.82,363.57 87.04,365.40 87.26,359.45 87.48,370.45 87.70,371.54 87.92,364.92 88.14,345.88 88.36,351.60 88.58,348.80 88.80,354.17 89.02,361.06 89.24,353.26 89.46,370.02 89.68,351.84 89.90,359.36 90.12,370.26 90.34,356.86 90.56,349.77 90.78,359.68 91.00,346.38 91.22,347.14 91.44,363.35 91.66,364.88 91.88,359.77 92.10,361.49 92.32,349.82 92.54,347.31 92.76,349.58 92.98,349.56 93.20,356.56 93.42,358.42 93.65,364.64 93.87,344.82 94.09,351.06 94.31,353.63 94.53,364.67 94.75,368.95 94.97,343.79 95.19,358.22 95.41,356.40 95.63,348.11 95.85,356.48 96.07,348.70 96.29,350.15 96.51,349.15 96.73,355.55 96.95,348.01 97.17,351.30 97.39,349.96 97.61,351.79 97.83,351.02 98.05,348.68 98.27,346.82 98.49,358.33 98.71,355.77 98.93,354.01 99.15,347.63 99.37,357.88 99.59,353.62 99.81,352.79 100.03,362.92 100.25,349.83 100.47,369.74 100.69,370.66 100.91,369.81 101.14,367.97 101.36,365.65 101.58,362.18 101.80,354.97 102.02,362.35 102.24,362.36 102.46,351.24 102.68,357.95 102.90,353.94 103.12,360.44 103.34,367.49 103.56,357.18 103.78,357.74 104.00,352.63 104.22,355.34 104.44,362.54 104.66,345.42 104.88,364.91 105.10,368.77 105.32,360.07 105.54,359.47 105.76,350.47 105.98,361.02 106.20,355.82 106.42,354.10 106.64,350.85 106.86,364.51 107.08,356.03 107.30,368.31 107.52,348.74 107.74,364.59 107.96,363.11 108.18,350.88 108.40,355.03 108.63,355.36 108.85,348.85 109.07,359.44 109.29,360.83 109.51,347.52 109.73,360.90 109.95,354.17 110.17,367.34 110.39,358.14 110.61,362.25 110.83,356.47 111.05,345.41 111.27,371.20 111.49,368.31 111.71,363.54 111.93,358.49 112.15,369.66 112.37,360.33 112.59,343.65 112.81,361.30 113.03,369.12 113.25,344.87 113.47,361.97 113.69,356.75 113.91,371.70 114.13,367.14 114.35,359.94 114.57,371.93 114.79,362.15 115.01,349.65 115.23,360.54 115.45,352.76 115.67,368.17 115.89,368.43 116.12,360.30 116.34,347.57 116.56,347.98 116.78,360.14 117.00,367.52 117.22,348.35 117.44,362.43 117.66,367.54 117.88,364.82 118.10,364.62 118.32,348.19 118.54,363.90 118.76,367.59 118.98,366.94 119.20,370.83 119.42,349.70 119.64,366.96 119.86,354.66 120.08,362.66 120.30,358.33 120.52,368.24 120.74,349.06 120.96,344.20 121.18,344.37 121.40,349.81 121.62,345.95 121.84,364.33 122.06,367.80 122.28,344.92 122.50,366.25 122.72,345.70 122.94,349.40 123.16,369.76 123.38,366.05 123.61,366.04 123.83,355.36 124.05,365.50 124.27,361.73 124.49,370.16 124.71,346.79 124.93,350.63 125.15,357.78 125.37,369.82 125.59,356.96 125.81,344.20 126.03,354.53 126.25,347.97 126.47,371.02 126.69,360.32 126.91,359.26 127.13,347.99 127.35,365.87 127.57,353.24 127.79,347.88 128.01,355.26 128.23,357.57 128.45,351.55 128.67,365.66 128.89,369.27 129.11,369.94 129.33,356.90 129.55,361.89 129.77,360.64 129.99,343.86 130.21,360.37 130.43,345.85 130.65,362.55 130.87,367.19 131.10,368.71 131.32,366.94 131.54,352.16 131.76,358.30 131.98,366.00 132.20,355.36 132.42,365.80 132.64,360.36 132.86,354.68 133.08,354.37 133.30,349.06 133.52,346.34 133.74,359.35 133.96,351.73 134.18,352.77 134.40,363.72 134.62,353.17 134.84,349.68 135.06,369.75 135.28,353.42 135.50,353.30 135.72,354.33 135.94,369.41 136.16,349.69 136.38,360.91 136.60,366.84 136.82,370.23 137.04,355.57 137.26,361.00 137.48,369.07 137.70,346.29 137.92,368.36 138.14,352.32 138.36,367.27 138.59,361.30 138.81,343.89 139.03,361.49 139.25,353.09 139.47,357.62 139.69,346.35 139.91,350.21 140.13,351.72 140.35,363.13 140.57,360.06 140.79,353.86 141.01,345.38 141.23,345.98 141.45,353.60 141.67,347.58 141.89,355.57 142.11,355.12 142.33,356.88 142.55,360.64 142.77,352.56 142.99,344.20 143.21,360.17 143.43,347.89 143.65,344.77 143.87,356.91 144.09,350.38 144.31,361.70 144.53,355.55 144.75,346.21 144.97,345.56 145.19,354.57 145.41,354.91 145.63,372.05 145.85,346.58 146.08,354.39 146.30,356.19 146.52,347.34 146.74,348.60 146.96,361.52 147.18,344.78 147.40,364.98 147.62,365.20 147.84,345.70 148.06,352.89 148.28,366.07 148.50,345.47 148.72,345.83 148.94,351.58 149.16,350.47 149.38,348.52 149.60,345.79 149.82,350.86 150.04,360.92 150.26,352.14 150.48,357.46 150.70,368.01 150.92,360.18 151.14,365.87 151.36,355.48 151.58,347.21 151.80,351.01 152.02,344.20 152.24,349.10 152.46,349.97 152.68,358.51 152.90,345.72 153.12,347.79 153.34,365.91 153.57,358.51 153.79,348.87 154.01,360.56 154.23,353.42 154.45,356.45 154.67,345.32 154.89,369.90 155.11,361.64 155.33,369.51 155.55,367.48 155.77,345.80 155.99,351.04 156.21,353.53 156.43,359.54 156.65,358.04 156.87,345.03 157.09,366.71 157.31,347.11 157.53,347.75 157.75,364.75 157.97,346.97 158.19,361.75 158.41,353.88 158.63,347.83 158.85,352.34 159.07,346.95 159.29,350.34 159.51,371.26 159.73,351.13 159.95,368.95 160.17,371.70 160.39,362.66 160.61,364.28 160.83,345.23 161.06,365.22 161.28,351.06 161.50,358.63 161.72,350.53 161.94,366.96 162.16,348.68 162.38,362.60 162.60,359.34 162.82,354.51 163.04,363.93 163.26,344.20 163.48,353.72 163.70,359.20 163.92,363.46 164.14,360.15 164.36,353.60 164.58,348.81 164.80,366.82 165.02,358.28 165.24,344.70 165.46,352.46 165.68,356.67 165.90,362.30 166.12,367.35 166.34,360.13 166.56,349.72 166.78,350.88 167.00,368.17 167.22,369.91 167.44,361.79 167.66,369.33 167.88,357.65 168.10,355.74 168.32,369.43 168.55,371.48 168.77,370.26 168.99,360.93 169.21,367.87 169.43,353.32 169.65,353.25 169.87,354.10 170.09,355.52 170.31,360.83 170.53,349.05 170.75,369.44 170.97,350.76 171.19,344.29 171.41,346.78 171.63,357.26 171.85,361.23 172.07,355.30 172.29,361.20 172.51,346.76 172.73,364.82 172.95,360.63 173.17,367.67 173.39,343.70 173.61,368.64 173.83,348.44 174.05,350.15 174.27,366.63 174.49,351.46 174.71,347.69 174.93,361.52 175.15,368.01 175.37,369.68 175.59,369.45 175.81,370.47 176.04,360.39 176.26,368.65 176.48,345.68 176.70,357.46 176.92,349.97 177.14,366.11 177.36,347.02 177.58,363.43 177.80,354.94 178.02,354.92 178.24,351.68 178.46,367.56 178.68,365.93 178.90,349.71 179.12,352.42 179.34,362.51 179.56,350.98 179.78,355.06 180.00,361.37 180.22,344.54 180.44,370.67 180.66,357.35 180.88,348.14 181.10,351.83 181.32,344.94 181.54,351.27 181.76,352.62 181.98,363.47 182.20,348.02 182.42,361.48 182.64,358.00 182.86,357.32 183.08,348.56 183.30,358.93 183.53,353.16 183.75,356.71 183.97,366.82 184.19,356.43 184.41,344.20 184.63,353.57 184.85,364.26 185.07,344.20 185.29,362.04 185.51,358.84 185.73,347.86 185.95,367.23 186.17,347.24 186.39,351.66 186.61,371.70 186.83,359.49 187.05,368.99 187.27,344.24 187.49,344.08 187.71,360.24 187.93,366.54 188.15,356.63 188.37,369.14 188.59,363.01 188.81,368.53 189.03,361.84 189.25,354.46 189.47,355.03 189.69,351.41 189.91,363.48 190.13,350.66 190.35,358.44 190.57,356.23 190.79,347.57 191.02,359.99 191.24,368.01 191.46,351.78 191.68,362.08 191.90,359.40 192.12,360.48 192.34,371.21 192.56,369.34 192.78,366.34 193.00,354.23 193.22,371.54 193.44,357.37 193.66,344.67 193.88,351.12 194.10,369.68 194.32,351.61 194.54,365.56 194.76,362.38 194.98,355.82 195.20,354.18 195.42,348.98 195.64,346.71 195.86,345.65 196.08,357.39 196.30,351.95 196.52,346.14 196.74,354.73 196.96,347.20 197.18,348.77 197.40,358.61 197.62,346.85 197.84,352.89 198.06,351.70 198.28,347.15 198.51,362.41 198.73,369.47 198.95,365.52 199.17,368.49 199.39,349.10 199.61,359.20 199.83,357.48 200.05,357.57 200.27,345.38 200.49,348.39 200.71,346.34 200.93,349.32 201.15,358.57 201.37,360.93 201.59,345.67 201.81,355.28 202.03,348.07 202.25,371.54 202.47,357.20 202.69,360.85 202.91,364.51 203.13,351.89 203.35,350.17 203.57,361.18 203.79,345.09 204.01,358.67 204.23,369.61 204.45,351.83 204.67,367.18 204.89,358.68 205.11,351.81 205.33,346.42 205.55,349.46 205.77,349.87 206.00,346.18 206.22,352.41 206.44,346.25 206.66,346.10 206.88,354.14 207.10,361.30 207.32,348.55 207.54,353.30 207.76,354.67 207.98,352.53 208.20,361.91 208.42,363.00 208.64,357.86 208.86,343.79 209.08,356.09 209.30,349.02 209.52,349.24 209.74,353.03 209.96,367.40 210.18,370.01 210.40,368.47 210.62,369.41 210.84,353.00 211.06,352.54 211.28,370.24 211.50,362.76 211.72,359.87 211.94,366.21 212.16,361.68 212.38,371.32 212.60,363.30 212.82,359.24 213.04,355.61 213.26,366.13 213.49,352.61 213.71,366.53 213.93,362.73 214.15,361.12 214.37,366.60 214.59,353.11 214.81,363.01 215.03,364.57 215.25,345.25 215.47,357.77 215.69,359.76 215.91,371.02 216.13,358.89 216.35,346.59 216.57,362.48 216.79,362.85 217.01,353.14 217.23,353.23 217.45,351.24 217.67,356.11 217.89,364.97 218.11,360.25 218.33,355.89 218.55,355.30 218.77,354.58 218.99,365.14 219.21,363.54 219.43,347.02 219.65,363.58 219.87,354.59 220.09,361.23 220.31,370.85 220.53,355.95 220.75,368.76 220.98,347.43 221.20,364.17 221.42,365.92 221.64,361.89 221.86,359.97 222.08,362.72 222.30,361.31 222.52,343.89 222.74,354.54 222.96,349.06 223.18,353.65 223.40,350.06 223.62,360.13 223.84,345.25 224.06,356.83 224.28,368.92 224.50,367.30 224.72,365.15 224.94,358.84 225.16,345.45 225.38,367.26 225.60,350.75 225.82,360.32 226.04,348.11 226.26,355.03 226.48,347.02 226.70,364.05 226.92,353.61 227.14,352.39 227.36,363.96 227.58,359.99 227.80,364.16 228.02,364.60 228.24,362.15 228.47,365.86 228.69,347.73 228.91,353.73 229.13,372.10 229.35,351.49 229.57,349.49 229.79,355.28 230.01,346.37 230.23,356.10 230.45,353.46 230.67,344.49 230.89,362.07 231.11,356.59 231.33,354.10 231.55,367.46 231.77,360.79 231.99,349.81 232.21,346.05 232.43,364.92 232.65,355.06 232.87,363.56 233.09,365.51 233.31,369.83 233.53,359.16 233.75,371.70 233.97,358.83 234.19,364.02 234.41,364.51 234.63,370.58 234.85,371.31 235.07,371.44 235.29,362.48 235.51,354.85 235.73,354.55 235.96,362.23 236.18,346.39 236.40,344.20 236.62,355.67 236.84,362.59 237.06,358.62 237.28,345.20 237.50,364.46 237.72,361.83 237.94,358.70 238.16,360.18 238.38,351.11 238.60,362.39 238.82,368.09 239.04,361.68 239.26,357.77 239.48,345.08 239.70,347.48 239.92,345.27 240.14,355.42 240.36,351.59 240.58,350.46 240.80,353.78 241.02,367.30 241.24,348.10 241.46,349.90 241.68,344.53 241.90,345.71 242.12,356.73 242.34,349.83 242.56,364.09 242.78,346.34 243.00,356.05 243.22,366.45 243.45,370.24 243.67,348.13 243.89,349.41 244.11,364.02 244.33,344.34 244.55,362.62 244.77,346.14 244.99,364.61 245.21,345.70 245.43,363.15 245.65,344.85 245.87,348.70 246.09,354.33 246.31,353.16 246.53,355.39 246.75,355.00 246.97,368.32 247.19,353.02 247.41,346.97 247.63,363.03 247.85,368.71 248.07,369.36 248.29,367.61 248.51,351.11 248.73,357.01 248.95,370.20 249.17,349.78 249.39,366.35 249.61,358.01 249.83,366.83 250.05,370.05 250.27,362.97 250.49,366.76 250.71,365.59 250.94,361.83 251.16,369.37 251.38,355.82 251.60,363.77 251.82,354.24 252.04,350.63 252.26,354.29 252.48,350.50 252.70,346.27 252.92,362.24 253.14,365.12 253.36,367.79 253.58,349.96 253.80,367.01 254.02,353.32 254.24,347.79 254.46,367.41 254.68,348.34 254.90,368.89 255.12,355.36 255.34,363.00 255.56,370.93 255.78,368.46 256.00,348.39 256.22,362.32 256.44,368.41 256.66,348.90 256.88,348.08 257.10,365.41 257.32,353.45 257.54,366.74 257.76,367.78 257.98,349.49 258.20,349.52 258.43,345.86 258.65,350.03 258.87,359.50 259.09,348.38 259.31,365.88 259.53,361.88 259.75,356.07 259.97,361.69 260.19,349.15 260.41,365.55 260.63,350.13 260.85,347.42 261.07,349.90 261.29,346.25 261.51,351.80 261.73,353.48 261.95,370.06 262.17,344.20 262.39,370.48 262.61,351.42 262.83,359.38 263.05,361.94 263.27,363.76 263.49,364.84 263.71,368.10 263.93,358.31 264.15,350.59 264.37,364.58 264.59,355.46 264.81,344.68 265.03,363.86 265.25,354.37 265.47,362.41 265.69,348.07 265.92,346.53 266.14,354.54 266.36,358.78 266.58,355.21 266.80,347.44 267.02,363.47 267.24,360.91 267.46,350.22 267.68,369.33 267.90,370.61 268.12,358.23 268.34,352.85 268.56,357.98 268.78,346.10 269.00,369.72 269.22,367.30 269.44,357.64" fill="none" stroke="#0a6aae" stroke-width="0.5" stroke-linejoin="round"/>
<rect x="82.30" y="262.00" width="187.25" height="191.90" fill="none" stroke="#b4b4b4" stroke-width="1.2"/>
<path d="M126.36,453.90v-1.9M126.36,262.00v1.9M170.42,453.90v-1.9M170.42,262.00v1.9M214.48,453.90v-1.9M214.48,262.00v1.9M258.54,453.90v-1.9M258.54,262.00v1.9M82.30,421.92h1.9M269.55,421.92h-1.9M82.30,389.93h1.9M269.55,389.93h-1.9M82.30,357.95h1.9M269.55,357.95h-1.9M82.30,325.97h1.9M269.55,325.97h-1.9M82.30,293.98h1.9M269.55,293.98h-1.9" stroke="#8a8a8a" stroke-width="1" fill="none"/>
<text class="tk" transform="translate(77.70,294.48) scale(1,1.07)" y="5.35" text-anchor="end">0.2</text>
<text class="tk" transform="translate(77.70,326.47) scale(1,1.07)" y="5.35" text-anchor="end">0.1</text>
<text class="tk" transform="translate(77.70,358.45) scale(1,1.07)" y="5.35" text-anchor="end">0</text>
<text class="tk" transform="translate(77.70,390.43) scale(1,1.07)" y="5.35" text-anchor="end">-0.1</text>
<text class="tk" transform="translate(77.70,422.42) scale(1,1.07)" y="5.35" text-anchor="end">-0.2</text>
<text class="tk" transform="translate(77.70,454.40) scale(1,1.07)" y="5.35" text-anchor="end">-0.3</text>
<text class="tk" transform="translate(126.36,468.90) scale(1,1.07)" y="5.35" text-anchor="middle">200</text>
<text class="tk" transform="translate(170.42,468.90) scale(1,1.07)" y="5.35" text-anchor="middle">400</text>
<text class="tk" transform="translate(214.48,468.90) scale(1,1.07)" y="5.35" text-anchor="middle">600</text>
<text class="tk" transform="translate(258.54,468.90) scale(1,1.07)" y="5.35" text-anchor="middle">800</text>
<text class="al" x="175.93" y="495.50" text-anchor="middle">x(pixel)</text>
<text class="yl" transform="translate(46.40,357.95) rotate(-90)" text-anchor="middle">Phase errors(rad)</text>
<polyline points="339.11,352.35 339.33,342.31 339.55,340.82 339.77,343.08 339.99,340.17 340.21,347.92 340.43,356.65 340.65,358.74 340.87,360.56 341.09,365.98 341.31,375.38 341.53,384.65 341.75,390.27 341.97,394.74 342.19,385.53 342.41,374.72 342.63,364.56 342.85,359.03 343.07,358.67 343.29,350.84 343.51,339.28 343.73,316.38 343.95,310.03 344.17,312.06 344.39,314.51 344.61,336.66 344.83,350.28 345.05,356.48 345.27,357.64 345.49,363.29 345.71,375.24 345.93,396.25 346.15,410.35 346.37,421.21 346.59,417.78 346.81,394.30 347.03,374.15 347.25,362.65 347.47,358.96 347.69,357.35 347.91,354.04 348.13,347.92 348.35,340.28 348.56,337.38 348.78,338.62 349.00,344.63 349.22,352.63 349.44,357.18 349.66,358.78 349.88,360.52 350.10,363.42 350.32,370.99 350.54,378.98 350.76,380.42 350.98,382.42 351.20,376.02 351.42,366.87 351.64,359.26 351.86,358.03 352.08,360.14 352.30,356.63 352.52,345.85 352.74,338.54 352.96,338.07 353.18,339.11 353.40,345.29 353.62,352.86 353.84,361.01 354.06,356.73 354.28,360.88 354.50,365.94 354.72,369.80 354.94,374.51 355.16,376.70 355.38,369.84 355.60,365.32 355.82,360.54 356.04,359.18 356.26,357.33 356.48,345.06 356.70,320.07 356.92,302.33 357.14,301.02 357.36,295.28 357.58,318.34 357.80,343.90 358.02,355.96 358.24,359.18 358.46,361.86 358.68,368.66 358.90,376.21 359.12,379.90 359.34,380.52 359.56,377.95 359.78,369.06 360.00,362.53 360.22,359.32 360.44,359.07 360.66,351.79 360.88,340.08 361.10,325.47 361.32,323.61 361.54,317.82 361.76,325.39 361.98,342.00 362.20,352.89 362.42,357.46 362.64,357.95 362.86,364.97 363.08,374.95 363.30,387.47 363.52,403.82 363.74,407.65 363.96,396.84 364.18,384.57 364.40,371.96 364.62,363.29 364.84,360.39 365.06,357.73 365.28,353.92 365.50,347.75 365.72,336.15 365.94,324.40 366.16,323.80 366.38,330.42 366.60,338.49 366.82,348.13 367.03,357.32 367.25,359.46 367.47,358.06 367.69,360.13 367.91,367.38 368.13,376.19 368.35,378.19 368.57,381.74 368.79,382.32 369.01,371.95 369.23,367.34 369.45,362.52 369.67,361.28 369.89,358.43 370.11,349.24 370.33,331.19 370.55,316.95 370.77,308.62 370.99,303.16 371.21,319.31 371.43,334.82 371.65,351.91 371.87,360.69 372.09,359.62 372.31,364.68 372.53,380.88 372.75,391.95 372.97,401.91 373.19,395.59 373.41,385.19 373.63,370.36 373.85,362.85 374.07,359.50 374.29,357.94 374.51,350.31 374.73,342.28 374.95,335.68 375.17,331.66 375.39,338.95 375.61,347.56 375.83,356.60 376.05,357.88 376.27,359.33 376.49,366.01 376.71,375.79 376.93,393.36 377.15,397.19 377.37,395.57 377.59,382.56 377.81,371.81 378.03,360.65 378.25,358.95 378.47,356.05 378.69,348.66 378.91,332.95 379.13,322.21 379.35,321.52 379.57,326.36 379.79,340.11 380.01,353.65 380.23,358.26 380.45,360.64 380.67,363.54 380.89,369.48 381.11,383.53 381.33,390.52 381.55,388.26 381.77,379.09 381.99,370.24 382.21,362.10 382.43,359.38 382.65,358.79 382.87,355.32 383.09,346.53 383.31,338.65 383.53,335.44 383.75,342.33 383.97,343.80 384.19,352.54 384.41,358.91 384.63,359.00 384.85,359.44 385.07,365.19 385.29,376.88 385.51,386.43 385.73,396.09 385.94,392.24 386.16,384.45 386.38,375.33 386.60,367.73 386.82,358.12 387.04,359.42 387.26,357.58 387.48,338.27 387.70,320.56 387.92,293.04 388.14,292.55 388.36,288.70 388.58,306.72 388.80,332.05 389.02,350.32 389.24,354.66 389.46,366.33 389.68,361.32 389.90,367.35 390.12,371.74 390.34,375.01 390.56,375.06 390.78,374.18 391.00,370.24 391.22,362.81 391.44,359.17 391.66,359.07 391.88,357.48 392.10,348.05 392.32,335.62 392.54,324.62 392.76,314.52 392.98,311.83 393.20,324.41 393.42,337.11 393.64,347.40 393.86,357.31 394.08,359.30 394.30,358.63 394.52,363.17 394.74,369.24 394.96,376.37 395.18,379.23 395.40,381.03 395.62,378.46 395.84,371.46 396.06,364.42 396.28,359.34 396.50,359.39 396.72,357.14 396.94,350.27 397.16,343.04 397.38,328.82 397.60,327.87 397.82,326.58 398.04,337.99 398.26,349.14 398.48,356.15 398.70,360.65 398.92,364.12 399.14,373.62 399.36,387.13 399.58,403.14 399.80,405.32 400.02,393.13 400.24,378.17 400.46,365.33 400.68,359.55 400.90,359.69 401.12,350.13 401.34,340.54 401.56,327.54 401.78,325.26 402.00,328.75 402.22,335.47 402.44,350.00 402.66,359.50 402.88,359.44 403.10,361.20 403.32,371.20 403.54,387.53 403.76,396.40 403.98,404.04 404.20,401.74 404.41,385.82 404.63,371.07 404.85,362.04 405.07,360.32 405.29,357.12 405.51,352.25 405.73,347.09 405.95,338.58 406.17,335.31 406.39,336.34 406.61,341.99 406.83,350.78 407.05,359.53 407.27,359.03 407.49,359.11 407.71,362.40 407.93,365.11 408.15,370.09 408.37,373.86 408.59,373.05 408.81,369.90 409.03,365.58 409.25,361.17 409.47,360.38 409.69,357.77 409.91,358.79 410.13,354.30 410.35,350.10 410.57,344.73 410.79,342.76 411.01,344.69 411.23,350.57 411.45,354.03 411.67,358.65 411.89,358.91 412.11,362.39 412.33,372.50 412.55,388.22 412.77,406.36 412.99,416.65 413.21,408.74 413.43,392.47 413.65,371.38 413.87,359.70 414.09,359.54 414.31,355.46 414.53,338.56 414.75,318.29 414.97,305.98 415.19,300.72 415.41,315.49 415.63,329.03 415.85,350.53 416.07,357.36 416.29,359.11 416.51,364.49 416.73,373.41 416.95,387.66 417.17,396.33 417.39,400.34 417.61,388.68 417.83,377.11 418.05,366.37 418.27,359.83 418.49,360.23 418.71,356.96 418.93,349.21 419.15,342.50 419.37,335.08 419.59,334.36 419.81,340.85 420.03,346.51 420.25,356.00 420.47,358.68 420.69,358.44 420.91,367.70 421.13,384.57 421.35,404.17 421.57,412.35 421.79,411.20 422.01,390.70 422.23,375.39 422.45,361.85 422.67,360.04 422.89,358.10 423.11,351.29 423.32,341.02 423.54,330.84 423.76,335.54 423.98,338.70 424.20,349.28 424.42,354.70 424.64,359.86 424.86,360.26 425.08,365.99 425.30,377.54 425.52,399.01 425.74,404.92 425.96,405.69 426.18,396.02 426.40,379.48 426.62,367.91 426.84,361.84 427.06,358.73 427.28,354.02 427.50,344.93 427.72,332.36 427.94,322.05 428.16,315.24 428.38,323.46 428.60,338.79 428.82,349.69 429.04,358.46 429.26,358.71 429.48,362.19 429.70,369.65 429.92,384.62 430.14,399.86 430.36,398.62 430.58,399.89 430.80,384.48 431.02,367.68 431.24,360.83 431.46,360.49 431.68,355.59 431.90,346.41 432.12,336.40 432.34,327.65 432.56,323.85 432.78,337.67 433.00,345.98 433.22,354.61 433.44,359.08 433.66,359.11 433.88,362.48 434.10,374.25 434.32,384.76 434.54,385.61 434.76,388.61 434.98,383.89 435.20,372.47 435.42,363.42 435.64,359.98 435.86,357.21 436.08,352.33 436.30,344.63 436.52,335.36 436.74,329.60 436.96,327.71 437.18,338.46 437.40,344.58 437.62,356.14 437.84,357.82 438.06,358.89 438.28,365.27 438.50,374.43 438.72,382.85 438.94,392.56 439.16,387.58 439.38,382.63 439.60,373.45 439.82,362.58 440.04,358.81 440.26,359.78 440.48,357.58 440.70,351.44 440.92,343.37 441.14,340.96 441.36,338.62 441.58,342.74 441.80,346.17 442.01,353.57 442.23,358.78 442.45,358.77 442.67,361.09 442.89,368.12 443.11,378.63 443.33,387.42 443.55,392.61 443.77,392.55 443.99,380.49 444.21,367.53 444.43,362.55 444.65,358.02 444.87,359.84 445.09,350.86 445.31,336.29 445.53,320.44 445.75,311.36 445.97,315.52 446.19,329.18 446.41,342.58 446.63,352.54 446.85,359.75 447.07,359.55 447.29,361.84 447.51,368.06 447.73,370.22 447.95,379.06 448.17,374.62 448.39,371.23 448.61,365.92 448.83,361.45 449.05,357.73 449.27,356.38 449.49,347.51 449.71,332.20 449.93,317.54 450.15,308.18 450.37,321.90 450.59,338.68 450.81,352.71 451.03,358.16 451.25,359.95 451.47,365.69 451.69,383.26 451.91,396.56 452.13,400.37 452.35,397.64 452.57,383.93 452.79,370.43 453.01,360.64 453.23,360.45 453.45,355.20 453.67,339.50 453.89,318.49 454.11,307.17 454.33,307.40 454.55,321.09 454.77,337.62 454.99,353.37 455.21,358.50 455.43,359.90 455.65,362.99 455.87,369.84 456.09,377.82 456.31,382.42 456.53,392.08 456.75,380.01 456.97,369.95 457.19,365.83 457.41,359.12 457.63,358.18 457.85,356.22 458.07,348.96 458.29,337.82 458.51,327.55 458.73,322.52 458.95,327.00 459.17,339.35 459.39,348.00 459.61,355.56 459.83,358.00 460.05,359.41 460.27,363.29 460.49,370.69 460.70,374.84 460.92,384.37 461.14,382.48 461.36,383.79 461.58,373.42 461.80,366.11 462.02,363.11 462.24,358.89 462.46,358.22 462.68,356.97 462.90,352.12 463.12,345.54 463.34,338.38 463.56,338.36 463.78,341.66 464.00,346.36 464.22,350.38 464.44,356.96 464.66,360.62 464.88,360.32 465.10,364.70 465.32,369.67 465.54,379.94 465.76,389.02 465.98,389.57 466.20,381.86 466.42,376.50 466.64,365.79 466.86,359.03 467.08,358.25 467.30,356.81 467.52,348.75 467.74,329.26 467.96,319.45 468.18,307.53 468.40,313.68 468.62,327.84 468.84,343.56 469.06,356.27 469.28,360.83 469.50,359.94 469.72,366.41 469.94,383.45 470.16,397.89 470.38,406.32 470.60,403.99 470.82,391.52 471.04,374.97 471.26,363.59 471.48,358.60 471.70,359.40 471.92,350.44 472.14,335.05 472.36,320.12 472.58,310.83 472.80,315.91 473.02,329.35 473.24,345.64 473.46,356.03 473.68,358.98 473.90,361.75 474.12,369.67 474.34,380.90 474.56,393.82 474.78,398.46 475.00,399.87 475.22,384.98 475.44,372.72 475.66,363.96 475.88,358.97 476.10,358.55 476.32,355.84 476.54,346.66 476.76,335.90 476.98,329.96 477.20,329.42 477.42,332.95 477.64,346.48 477.86,353.49 478.08,360.25 478.30,360.30 478.52,364.23 478.74,371.66 478.96,382.47 479.17,392.01 479.39,394.62 479.61,389.60 479.83,378.57 480.05,367.49 480.27,359.50 480.49,358.70 480.71,354.99 480.93,343.34 481.15,329.10 481.37,317.64 481.59,317.32 481.81,331.78 482.03,342.22 482.25,354.43 482.47,360.29 482.69,360.18 482.91,368.11 483.13,379.63 483.35,393.80 483.57,393.48 483.79,390.15 484.01,375.98 484.23,365.75 484.45,360.27 484.67,358.80 484.89,353.58 485.11,342.26 485.33,328.08 485.55,322.53 485.77,321.84 485.99,336.74 486.21,346.71 486.43,355.94 486.65,360.42 486.87,362.13 487.09,364.28 487.31,372.66 487.53,375.44 487.75,379.93 487.97,377.06 488.19,374.43 488.41,364.60 488.63,360.04 488.85,358.32 489.07,359.62 489.29,357.59 489.51,350.28 489.73,344.78 489.95,341.15 490.17,339.34 490.39,342.57 490.61,348.31 490.83,354.09 491.05,359.47 491.27,359.14 491.49,360.09 491.71,363.95 491.93,373.10 492.15,379.04 492.37,383.57 492.59,385.49 492.81,377.86 493.03,369.34 493.25,362.38 493.47,358.66 493.69,359.71 493.91,352.18 494.13,333.25 494.35,322.61 494.57,311.97 494.79,318.49 495.01,330.61 495.23,347.15 495.45,357.23 495.67,358.41 495.89,361.83 496.11,374.29 496.33,390.17 496.55,400.08 496.77,393.93 496.99,391.85 497.21,376.60 497.43,364.52 497.65,358.03 497.87,360.42 498.08,351.64 498.30,341.08 498.52,330.97 498.74,320.96 498.96,321.91 499.18,335.12 499.40,345.72 499.62,354.15 499.84,359.36 500.06,358.93 500.28,364.61 500.50,379.46 500.72,390.79 500.94,403.81 501.16,401.28 501.38,391.82 501.60,383.16 501.82,370.79 502.04,361.56 502.26,358.65 502.48,355.90 502.70,343.78 502.92,327.83 503.14,312.86 503.36,305.95 503.58,307.59 503.80,318.61 504.02,341.78 504.24,355.02 504.46,361.31 504.68,361.73 504.90,370.95 505.12,386.08 505.34,398.13 505.56,407.88 505.78,408.53 506.00,389.41 506.22,373.84 506.44,360.78 506.66,359.81 506.88,356.27 507.10,347.06 507.32,331.70 507.54,316.38 507.76,312.10 507.98,323.06 508.20,338.87 508.42,353.02 508.64,357.37 508.86,358.64 509.08,365.81 509.30,370.75 509.52,379.04 509.74,384.81 509.96,381.56 510.18,378.67 510.40,369.67 510.62,360.90 510.84,360.06 511.06,357.76 511.28,355.02 511.50,349.46 511.72,342.16 511.94,339.31 512.16,343.04 512.38,346.66 512.60,351.19 512.82,358.57 513.04,358.82 513.26,359.98 513.48,363.55 513.70,369.81 513.92,374.92 514.14,380.46 514.36,383.14 514.58,380.01 514.80,372.31 515.02,367.22 515.24,359.76 515.46,359.08 515.68,358.45 515.90,354.04 516.12,346.55 516.34,338.29 516.55,333.56 516.77,334.63 516.99,344.35 517.21,350.87 517.43,356.45 517.65,359.10 517.87,359.38 518.09,368.91 518.31,380.04 518.53,399.23 518.75,418.15 518.97,417.41 519.19,404.34 519.41,380.98 519.63,365.50 519.85,359.33 520.07,358.88 520.29,351.55 520.51,344.63 520.73,334.91 520.95,330.00 521.17,332.48 521.39,342.99 521.61,350.46 521.83,356.09 522.05,359.91 522.27,359.82 522.49,367.29 522.71,372.93 522.93,379.01 523.15,379.90 523.37,377.44 523.59,368.62 523.81,364.29 524.03,360.92 524.25,359.03 524.47,352.19 524.69,340.80 524.91,317.40 525.13,310.09 525.35,299.22 525.57,311.27 525.79,331.89" fill="none" stroke="#0072BD" stroke-width="0.62" stroke-linejoin="round"/>
<polyline points="339.11,354.96 339.33,348.73 339.55,347.81 339.77,349.21 339.99,347.40 340.21,352.21 340.43,357.63 340.65,358.92 340.87,360.18 341.09,364.05 341.31,370.76 341.53,377.38 341.75,381.40 341.97,384.58 342.19,378.01 342.41,370.29 342.63,363.04 342.85,359.08 343.07,358.86 343.29,353.73 343.51,346.14 343.73,331.12 343.95,326.95 344.17,328.28 344.39,329.89 344.61,344.42 344.83,353.36 345.05,357.42 345.27,358.50 345.49,361.07 345.71,366.51 345.93,376.07 346.15,382.48 346.37,387.42 346.59,385.86 346.81,375.18 347.03,366.02 347.25,360.78 347.47,359.11 347.69,358.45 347.91,357.07 348.13,354.53 348.35,351.36 348.56,350.15 348.78,350.67 349.00,353.17 349.22,356.49 349.44,358.38 349.66,359.04 349.88,359.98 350.10,361.65 350.32,366.03 350.54,370.65 350.76,371.49 350.98,372.65 351.20,368.94 351.42,363.65 351.64,359.25 351.86,358.54 352.08,359.65 352.30,358.02 352.52,352.99 352.74,349.57 352.96,349.35 353.18,349.84 353.40,352.72 353.62,356.25 353.84,360.06 354.06,358.24 354.28,359.88 354.50,361.88 354.72,363.41 354.94,365.28 355.16,366.15 355.38,363.43 355.60,361.64 355.82,359.75 356.04,359.21 356.26,358.25 356.48,351.90 356.70,338.97 356.92,329.80 357.14,329.12 357.36,326.15 357.58,338.08 357.80,351.30 358.02,357.54 358.24,359.20 358.46,360.60 358.68,364.16 358.90,368.10 359.12,370.04 359.34,370.36 359.56,369.01 359.78,364.37 360.00,360.95 360.22,359.27 360.44,359.17 360.66,356.63 360.88,352.56 361.10,347.47 361.32,346.82 361.54,344.80 361.76,347.44 361.98,353.22 362.20,357.02 362.42,358.61 362.64,358.83 362.86,361.01 363.08,364.12 363.30,368.01 363.52,373.10 363.74,374.29 363.96,370.93 364.18,367.11 364.40,363.19 364.62,360.49 364.84,359.59 365.06,358.74 365.28,357.52 365.50,355.53 365.72,351.80 365.94,348.02 366.16,347.83 366.38,349.96 366.60,352.55 366.82,355.66 367.03,358.61 367.25,359.30 367.47,358.57 367.69,359.73 367.91,363.77 368.13,368.68 368.35,369.80 368.57,371.78 368.79,372.10 369.01,366.32 369.23,363.75 369.45,361.06 369.67,360.37 369.89,358.78 370.11,353.61 370.33,343.47 370.55,335.47 370.77,330.79 370.99,327.72 371.21,336.79 371.43,345.51 371.65,355.11 371.87,360.05 372.09,359.42 372.31,361.96 372.53,370.08 372.75,375.63 372.97,380.62 373.19,377.45 373.41,372.24 373.63,364.81 373.85,361.04 374.07,359.36 374.29,358.47 374.51,353.96 374.73,349.23 374.95,345.33 375.17,342.96 375.39,347.26 375.61,352.34 375.83,357.68 376.05,358.43 376.27,359.27 376.49,362.31 376.71,366.76 376.93,374.76 377.15,376.50 377.37,375.76 377.59,369.84 377.81,364.95 378.03,359.87 378.25,359.10 378.47,357.85 378.69,354.66 378.91,347.88 379.13,343.25 379.35,342.95 379.57,345.04 379.79,350.97 380.01,356.82 380.23,358.81 380.45,360.19 380.67,362.18 380.89,366.25 381.11,375.87 381.33,380.66 381.55,379.11 381.77,372.83 381.99,366.77 382.21,361.19 382.43,359.33 382.65,358.96 382.87,356.83 383.09,351.43 383.31,346.59 383.53,344.62 383.75,348.85 383.97,349.75 384.19,355.12 384.41,359.03 384.63,359.09 384.85,359.30 385.07,361.41 385.29,365.70 385.51,369.20 385.73,372.74 385.94,371.33 386.16,368.47 386.38,365.13 386.60,362.34 386.82,358.82 387.04,359.34 387.26,358.24 387.48,346.71 387.70,336.12 387.92,319.69 388.14,319.40 388.36,317.09 388.58,327.86 388.80,342.99 389.02,353.91 389.24,356.50 389.46,364.12 389.68,360.67 389.90,364.82 390.12,367.84 390.34,370.09 390.56,370.13 390.78,369.52 391.00,366.80 391.22,361.69 391.44,359.19 391.66,359.15 391.88,358.37 392.10,353.75 392.32,347.66 392.54,342.28 392.76,337.33 392.98,336.02 393.20,342.17 393.42,348.40 393.64,353.44 393.86,358.29 394.08,359.26 394.30,358.80 394.52,362.04 394.74,366.38 394.96,371.47 395.18,373.51 395.40,374.80 395.62,372.96 395.84,367.97 396.06,362.94 396.28,359.30 396.50,359.34 396.72,357.71 396.94,352.73 397.16,347.48 397.38,337.16 397.60,336.47 397.82,335.53 398.04,343.81 398.26,351.91 398.48,357.00 398.70,360.26 398.92,361.89 399.14,367.05 399.36,374.40 399.58,383.10 399.80,384.28 400.02,377.66 400.24,369.52 400.46,362.54 400.68,359.40 400.90,359.49 401.12,354.02 401.34,348.53 401.56,341.09 401.78,339.79 402.00,341.78 402.22,345.63 402.44,353.94 402.66,359.38 402.88,359.33 403.10,360.21 403.32,365.20 403.54,373.34 403.76,377.77 403.98,381.58 404.20,380.43 404.41,372.49 404.63,365.13 404.85,360.63 405.07,359.77 405.29,358.48 405.51,356.75 405.73,354.92 405.95,351.89 406.17,350.73 406.39,351.10 406.61,353.11 406.83,356.23 407.05,359.33 407.27,359.16 407.49,359.18 407.71,360.55 407.93,361.68 408.15,363.76 408.37,365.33 408.59,364.99 408.81,363.68 409.03,361.87 409.25,360.03 409.47,359.71 409.69,358.53 409.91,359.02 410.13,356.87 410.35,354.85 410.57,352.28 410.79,351.34 411.01,352.26 411.23,355.08 411.45,356.73 411.67,358.95 411.89,359.07 412.11,360.28 412.33,363.66 412.55,368.91 412.77,374.96 412.99,378.40 413.21,375.76 413.43,370.33 413.65,363.29 413.87,359.38 414.09,359.42 414.31,356.91 414.53,346.49 414.75,334.00 414.97,326.41 415.19,323.17 415.41,332.27 415.63,340.61 415.85,353.87 416.07,358.07 416.29,359.17 416.51,361.73 416.73,365.97 416.95,372.73 417.17,376.85 417.39,378.76 417.61,373.22 417.83,367.72 418.05,362.62 418.27,359.51 418.49,359.57 418.71,358.44 418.93,355.75 419.15,353.43 419.37,350.85 419.59,350.60 419.81,352.85 420.03,354.82 420.25,358.11 420.47,359.04 420.69,358.93 420.91,362.36 421.13,368.60 421.35,375.85 421.57,378.88 421.79,378.46 422.01,370.87 422.23,365.21 422.45,360.20 422.67,359.65 422.89,358.64 423.11,355.09 423.32,349.74 423.54,344.44 423.76,346.89 423.98,348.54 424.20,354.04 424.42,356.87 424.64,359.56 424.86,359.59 425.08,361.59 425.30,365.62 425.52,373.12 425.74,375.19 425.96,375.46 426.18,372.08 426.40,366.30 426.62,362.26 426.84,360.14 427.06,358.94 427.28,356.28 427.50,351.14 427.72,344.04 427.94,338.21 428.16,334.37 428.38,339.01 428.60,347.67 428.82,353.84 429.04,358.79 429.26,358.86 429.48,361.31 429.70,366.54 429.92,377.04 430.14,387.72 430.36,386.86 430.58,387.75 430.80,376.94 431.02,365.15 431.24,360.35 431.46,360.02 431.68,356.93 431.90,351.13 432.12,344.80 432.34,339.28 432.56,336.88 432.78,345.60 433.00,350.86 433.22,356.31 433.44,359.13 433.66,359.19 433.88,360.21 434.10,363.78 434.32,366.96 434.54,367.22 434.76,368.13 434.98,366.70 435.20,363.24 435.42,360.50 435.64,359.45 435.86,358.42 436.08,356.47 436.30,353.39 436.52,349.68 436.74,347.37 436.96,346.62 437.18,350.92 437.40,353.37 437.62,357.99 437.84,358.66 438.06,359.02 438.28,362.92 438.50,368.53 438.72,373.68 438.94,379.63 439.16,376.58 439.38,373.55 439.60,367.93 439.82,361.28 440.04,358.97 440.26,359.64 440.48,358.01 440.70,353.48 440.92,347.52 441.14,345.74 441.36,344.02 441.58,347.06 441.80,349.59 442.01,355.05 442.23,358.90 442.45,358.89 442.67,360.62 442.89,365.89 443.11,373.76 443.33,380.36 443.55,384.24 443.77,384.20 443.99,375.16 444.21,365.45 444.43,361.72 444.65,358.32 444.87,359.59 445.09,354.28 445.31,345.67 445.53,336.30 445.75,330.94 445.97,333.40 446.19,341.47 446.41,349.39 446.63,355.27 446.85,359.53 447.07,359.43 447.29,360.90 447.51,364.89 447.73,366.27 447.95,371.94 448.17,369.09 448.39,366.92 448.61,363.52 448.83,360.65 449.05,358.27 449.27,357.23 449.49,351.00 449.71,340.26 449.93,329.97 450.15,323.40 450.37,333.03 450.59,344.81 450.81,354.65 451.03,358.47 451.25,359.54 451.47,362.04 451.69,369.70 451.91,375.50 452.13,377.16 452.35,375.97 452.57,369.99 452.79,364.11 453.01,359.84 453.23,359.74 453.45,357.55 453.67,351.02 453.89,342.28 454.11,337.57 454.33,337.66 454.55,343.36 454.77,350.24 454.99,356.79 455.21,358.92 455.43,359.53 455.65,360.94 455.87,364.08 456.09,367.73 456.31,369.83 456.53,374.24 456.75,368.73 456.97,364.13 457.19,362.24 457.41,359.18 457.63,358.91 457.85,358.31 458.07,356.09 458.29,352.70 458.51,349.56 458.73,348.03 458.95,349.40 459.17,353.16 459.39,355.80 459.61,358.11 459.83,358.85 460.05,359.31 460.27,361.00 460.49,364.23 460.70,366.04 460.92,370.20 461.14,369.38 461.36,369.95 461.58,365.42 461.80,362.23 462.02,360.92 462.24,359.08 462.46,358.56 462.68,357.75 462.90,354.57 463.12,350.26 463.34,345.56 463.56,345.55 463.78,347.71 464.00,350.79 464.22,353.43 464.44,357.74 464.66,360.14 464.88,359.75 465.10,361.83 465.32,364.19 465.54,369.07 465.76,373.39 465.98,373.65 466.20,369.99 466.42,367.44 466.64,362.35 466.86,359.13 467.08,358.76 467.30,358.19 467.52,354.73 467.74,346.36 467.96,342.15 468.18,337.03 468.40,339.67 468.62,345.75 468.84,352.50 469.06,357.96 469.28,359.91 469.50,359.72 469.72,364.26 469.94,376.22 470.16,386.35 470.38,392.26 470.60,390.62 470.82,381.88 471.04,370.27 471.26,362.28 471.48,358.79 471.70,359.28 471.92,356.48 472.14,351.68 472.36,347.01 472.58,344.11 472.80,345.70 473.02,349.90 473.24,354.98 473.46,358.23 473.68,359.15 473.90,360.88 474.12,366.08 474.34,373.44 474.56,381.91 474.78,384.95 475.00,385.88 475.22,376.12 475.44,368.08 475.66,362.33 475.88,359.05 476.10,358.78 476.32,356.96 476.54,350.84 476.76,343.66 476.98,339.70 477.20,339.34 477.42,341.69 477.64,350.72 477.86,355.40 478.08,359.91 478.30,359.92 478.52,362.46 478.74,367.27 478.96,374.26 479.17,380.43 479.39,382.12 479.61,378.88 479.83,371.74 480.05,364.57 480.27,359.40 480.49,358.98 480.71,357.25 480.93,351.83 481.15,345.20 481.37,339.87 481.59,339.72 481.81,346.45 482.03,351.31 482.25,356.99 482.47,359.72 482.69,359.55 482.91,362.25 483.13,366.18 483.35,371.01 483.57,370.90 483.79,369.76 484.01,364.94 484.23,361.45 484.45,359.58 484.67,359.02 484.89,356.50 485.11,351.04 485.33,344.20 485.55,341.53 485.77,341.20 485.99,348.38 486.21,353.19 486.43,357.64 486.65,359.80 486.87,361.12 487.09,362.52 487.31,367.98 487.53,369.80 487.75,372.72 487.97,370.85 488.19,369.13 488.41,362.73 488.63,359.75 488.85,358.64 489.07,359.39 489.29,358.54 489.51,355.46 489.73,353.15 489.95,351.63 490.17,350.86 490.39,352.22 490.61,354.63 490.83,357.07 491.05,359.33 491.27,359.19 491.49,359.78 491.71,362.25 491.93,368.12 492.15,371.94 492.37,374.84 492.59,376.07 492.81,371.18 493.03,365.71 493.25,361.25 493.47,358.86 493.69,359.45 493.91,355.94 494.13,347.11 494.35,342.14 494.57,337.18 494.79,340.22 495.01,345.87 495.23,353.59 495.45,358.29 495.67,358.90 495.89,360.26 496.11,365.23 496.33,371.56 496.55,375.51 496.77,373.06 496.99,372.23 497.21,366.15 497.43,361.34 497.65,358.75 497.87,359.95 498.08,354.62 498.30,348.21 498.52,342.07 498.74,335.99 498.96,336.57 499.18,344.59 499.40,351.03 499.62,356.14 499.84,359.30 500.06,359.05 500.28,362.51 500.50,371.56 500.72,378.46 500.94,386.40 501.16,384.86 501.38,379.09 501.60,373.81 501.82,366.27 502.04,360.65 502.26,358.85 502.48,357.03 502.70,349.02 502.92,338.48 503.14,328.58 503.36,324.01 503.58,325.10 503.80,332.38 504.02,347.70 504.24,356.44 504.46,360.60 504.68,360.55 504.90,365.45 505.12,373.49 505.34,379.89 505.56,385.06 505.78,385.41 506.00,375.26 506.22,366.98 506.44,360.05 506.66,359.65 506.88,357.06 507.10,350.30 507.32,339.04 507.54,327.80 507.76,324.67 507.98,332.71 508.20,344.30 508.42,354.67 508.64,357.86 508.86,358.89 509.08,363.00 509.30,365.83 509.52,370.58 509.74,373.89 509.96,372.03 510.18,370.37 510.40,365.21 510.62,360.19 510.84,359.70 511.06,358.21 511.28,356.29 511.50,352.41 511.72,347.32 511.94,345.33 512.16,347.94 512.38,350.46 512.60,353.62 512.82,358.77 513.04,358.94 513.26,359.79 513.48,362.43 513.70,367.07 513.92,370.86 514.14,374.97 514.36,376.95 514.58,374.63 514.80,368.93 515.02,365.15 515.24,359.62 515.46,359.12 515.68,358.94 515.90,357.31 516.12,354.54 516.34,351.49 516.55,349.75 516.77,350.14 516.99,353.73 517.21,356.14 517.43,358.20 517.65,359.18 517.87,359.31 518.09,364.17 518.31,369.86 518.53,379.65 518.75,389.32 518.97,388.94 519.19,382.27 519.41,370.34 519.63,362.43 519.85,359.28 520.07,359.04 520.29,355.14 520.51,351.45 520.73,346.28 520.95,343.67 521.17,344.99 521.39,350.58 521.61,354.56 521.83,357.55 522.05,359.47 522.27,359.44 522.49,362.07 522.71,364.06 522.93,366.21 523.15,366.52 523.37,365.65 523.59,362.54 523.81,361.01 524.03,359.82 524.25,359.10 524.47,354.79 524.69,347.60 524.91,332.85 525.13,328.24 525.35,321.39 525.57,328.99 525.79,341.99" fill="none" stroke="#0a6aae" stroke-width="0.4" stroke-linejoin="round"/>
<rect x="339.00" y="263.05" width="186.90" height="192.35" fill="none" stroke="#b4b4b4" stroke-width="1.2"/>
<path d="M382.98,455.40v-1.9M382.98,263.05v1.9M426.95,455.40v-1.9M426.95,263.05v1.9M470.93,455.40v-1.9M470.93,263.05v1.9M514.91,455.40v-1.9M514.91,263.05v1.9M339.00,423.34h1.9M525.90,423.34h-1.9M339.00,391.28h1.9M525.90,391.28h-1.9M339.00,359.23h1.9M525.90,359.23h-1.9M339.00,327.17h1.9M525.90,327.17h-1.9M339.00,295.11h1.9M525.90,295.11h-1.9" stroke="#8a8a8a" stroke-width="1" fill="none"/>
<text class="tk" transform="translate(334.40,295.61) scale(1,1.07)" y="5.35" text-anchor="end">0.2</text>
<text class="tk" transform="translate(334.40,327.67) scale(1,1.07)" y="5.35" text-anchor="end">0.1</text>
<text class="tk" transform="translate(334.40,359.73) scale(1,1.07)" y="5.35" text-anchor="end">0</text>
<text class="tk" transform="translate(334.40,391.78) scale(1,1.07)" y="5.35" text-anchor="end">-0.1</text>
<text class="tk" transform="translate(334.40,423.84) scale(1,1.07)" y="5.35" text-anchor="end">-0.2</text>
<text class="tk" transform="translate(334.40,455.90) scale(1,1.07)" y="5.35" text-anchor="end">-0.3</text>
<text class="tk" transform="translate(382.98,470.40) scale(1,1.07)" y="5.35" text-anchor="middle">200</text>
<text class="tk" transform="translate(426.95,470.40) scale(1,1.07)" y="5.35" text-anchor="middle">400</text>
<text class="tk" transform="translate(470.93,470.40) scale(1,1.07)" y="5.35" text-anchor="middle">600</text>
<text class="tk" transform="translate(514.91,470.40) scale(1,1.07)" y="5.35" text-anchor="middle">800</text>
<text class="al" x="432.45" y="497.00" text-anchor="middle">x(pixel)</text>
<text class="yl" transform="translate(303.10,359.23) rotate(-90)" text-anchor="middle">Phase errors(rad)</text>
<polyline points="595.61,359.16 595.83,359.94 596.05,358.03 596.27,357.66 596.49,354.50 596.71,354.57 596.93,353.87 597.15,354.98 597.37,357.55 597.59,359.13 597.81,360.28 598.03,361.19 598.25,363.32 598.47,369.51 598.69,375.49 598.91,379.47 599.13,378.29 599.35,372.42 599.57,366.47 599.79,361.55 600.01,360.12 600.23,358.40 600.45,358.23 600.67,354.99 600.89,352.76 601.11,351.48 601.33,347.45 601.55,352.47 601.78,353.72 602.00,356.40 602.22,357.72 602.44,359.14 602.66,360.39 602.88,360.83 603.10,365.07 603.32,370.13 603.54,374.66 603.76,378.91 603.98,373.97 604.20,372.66 604.42,367.15 604.64,362.34 604.86,358.99 605.08,359.33 605.30,358.70 605.52,356.45 605.74,355.07 605.96,351.27 606.18,349.85 606.40,351.55 606.62,353.52 606.84,357.58 607.06,358.92 607.28,359.17 607.50,359.77 607.72,361.19 607.94,366.14 608.16,369.86 608.38,371.47 608.60,371.46 608.82,367.03 609.04,364.23 609.26,360.04 609.48,360.15 609.70,360.02 609.92,357.95 610.14,354.80 610.36,353.29 610.58,351.49 610.80,353.43 611.02,354.31 611.24,358.63 611.46,359.81 611.68,359.18 611.90,362.88 612.12,368.14 612.34,374.58 612.56,379.17 612.78,377.15 613.00,370.92 613.22,365.15 613.44,360.30 613.66,359.11 613.88,359.06 614.10,357.57 614.33,356.44 614.55,354.74 614.77,353.88 614.99,356.40 615.21,357.47 615.43,360.36 615.65,359.44 615.87,359.73 616.09,361.10 616.31,361.79 616.53,364.34 616.75,365.62 616.97,365.95 617.19,366.13 617.41,364.24 617.63,362.17 617.85,360.47 618.07,358.47 618.29,360.73 618.51,357.74 618.73,355.32 618.95,351.92 619.17,347.18 619.39,349.16 619.61,350.08 619.83,352.28 620.05,356.74 620.27,357.84 620.49,359.31 620.71,359.80 620.93,363.97 621.15,371.78 621.37,382.07 621.59,387.66 621.81,387.43 622.03,385.89 622.25,376.14 622.47,366.24 622.69,361.62 622.91,360.09 623.13,359.37 623.35,353.39 623.57,348.09 623.79,340.29 624.01,337.50 624.23,343.03 624.45,348.62 624.67,354.26 624.89,358.48 625.11,359.27 625.33,362.99 625.55,371.56 625.77,383.33 625.99,386.76 626.21,387.71 626.43,377.54 626.65,368.63 626.88,360.34 627.10,360.11 627.32,358.24 627.54,356.17 627.76,355.85 627.98,351.31 628.20,352.97 628.42,354.82 628.64,356.49 628.86,357.94 629.08,360.27 629.30,359.03 629.52,361.61 629.74,366.35 629.96,366.85 630.18,369.94 630.40,368.52 630.62,366.27 630.84,363.07 631.06,360.80 631.28,359.29 631.50,359.63 631.72,358.27 631.94,356.28 632.16,352.72 632.38,351.53 632.60,350.34 632.82,353.04 633.04,356.72 633.26,356.92 633.48,358.23 633.70,358.70 633.92,360.28 634.14,363.08 634.36,366.10 634.58,367.52 634.80,367.27 635.02,365.63 635.24,362.94 635.46,361.33 635.68,359.72 635.90,358.53 636.12,355.43 636.34,351.05 636.56,346.68 636.78,342.86 637.00,346.68 637.22,350.81 637.44,355.22 637.66,358.63 637.88,359.38 638.10,360.37 638.32,364.65 638.54,369.56 638.76,373.65 638.98,376.24 639.21,373.66 639.43,368.10 639.65,362.72 639.87,359.87 640.09,358.78 640.31,358.16 640.53,355.93 640.75,351.36 640.97,349.06 641.19,346.51 641.41,347.80 641.63,352.34 641.85,355.24 642.07,359.13 642.29,359.34 642.51,360.18 642.73,361.85 642.95,365.80 643.17,370.53 643.39,372.10 643.61,372.64 643.83,371.37 644.05,367.27 644.27,361.81 644.49,360.70 644.71,359.09 644.93,359.42 645.15,354.58 645.37,349.68 645.59,343.08 645.81,337.98 646.03,338.05 646.25,345.45 646.47,350.93 646.69,357.24 646.91,359.04 647.13,361.35 647.35,367.70 647.57,379.47 647.79,388.38 648.01,388.38 648.23,388.38 648.45,382.92 648.67,370.53 648.89,360.23 649.11,359.01 649.33,358.90 649.55,354.73 649.77,351.45 649.99,345.40 650.21,344.64 650.43,348.57 650.65,352.82 650.87,358.62 651.09,360.15 651.31,359.47 651.53,361.27 651.76,365.39 651.98,369.88 652.20,373.37 652.42,373.95 652.64,370.29 652.86,364.37 653.08,362.48 653.30,359.64 653.52,359.42 653.74,358.08 653.96,356.63 654.18,353.62 654.40,351.64 654.62,351.22 654.84,351.82 655.06,355.36 655.28,357.17 655.50,359.60 655.72,358.81 655.94,360.22 656.16,362.22 656.38,364.51 656.60,367.61 656.82,369.71 657.04,368.90 657.26,365.30 657.48,361.45 657.70,361.25 657.92,360.15 658.14,358.67 658.36,357.39 658.58,353.88 658.80,348.49 659.02,347.45 659.24,348.35 659.46,350.39 659.68,353.92 659.90,357.55 660.12,359.30 660.34,359.18 660.56,361.23 660.78,365.78 661.00,370.38 661.22,376.46 661.44,374.29 661.66,371.67 661.88,365.65 662.10,361.68 662.32,358.67 662.54,358.70 662.76,357.73 662.98,353.12 663.20,347.06 663.42,344.13 663.64,343.30 663.86,347.37 664.08,353.32 664.31,358.88 664.53,359.59 664.75,359.23 664.97,361.57 665.19,364.39 665.41,370.06 665.63,374.81 665.85,372.96 666.07,371.63 666.29,366.80 666.51,363.54 666.73,359.88 666.95,359.11 667.17,359.06 667.39,356.18 667.61,352.77 667.83,350.19 668.05,350.54 668.27,350.74 668.49,353.01 668.71,357.13 668.93,359.05 669.15,358.40 669.37,360.48 669.59,364.89 669.81,368.95 670.03,372.90 670.25,372.72 670.47,369.00 670.69,363.10 670.91,361.79 671.13,359.83 671.35,358.91 671.57,357.31 671.79,354.15 672.01,352.69 672.23,351.92 672.45,352.63 672.67,355.45 672.89,357.91 673.11,360.93 673.33,359.05 673.55,360.59 673.77,364.76 673.99,367.49 674.21,370.16 674.43,368.72 674.65,366.20 674.87,364.95 675.09,359.75 675.31,358.12 675.53,359.69 675.75,353.94 675.97,339.89 676.19,330.92 676.41,330.92 676.64,330.92 676.86,330.92 677.08,335.76 677.30,349.60 677.52,357.95 677.74,358.17 677.96,359.49 678.18,363.98 678.40,367.78 678.62,372.64 678.84,376.69 679.06,376.80 679.28,373.65 679.50,367.79 679.72,363.48 679.94,359.40 680.16,359.70 680.38,358.82 680.60,355.33 680.82,354.79 681.04,348.48 681.26,348.01 681.48,347.40 681.70,350.95 681.92,354.55 682.14,358.72 682.36,358.69 682.58,359.71 682.80,359.96 683.02,363.23 683.24,364.33 683.46,365.18 683.68,364.46 683.90,364.67 684.12,361.25 684.34,359.77 684.56,359.63 684.78,360.02 685.00,357.03 685.22,355.32 685.44,354.31 685.66,353.93 685.88,354.44 686.10,355.45 686.32,358.58 686.54,359.36 686.76,359.64 686.98,361.97 687.20,361.85 687.42,363.14 687.64,365.35 687.86,367.66 688.08,365.93 688.30,362.65 688.52,361.69 688.74,359.24 688.96,359.19 689.19,357.81 689.41,354.51 689.63,347.00 689.85,337.19 690.07,337.87 690.29,337.42 690.51,344.88 690.73,352.84 690.95,357.75 691.17,360.87 691.39,361.03 691.61,363.21 691.83,372.03 692.05,377.53 692.27,377.11 692.49,375.49 692.71,369.23 692.93,364.60 693.15,359.94 693.37,359.69 693.59,358.73 693.81,353.35 694.03,348.51 694.25,342.18 694.47,341.78 694.69,345.07 694.91,349.49 695.13,355.28 695.35,359.07 695.57,359.39 695.79,360.05 696.01,363.82 696.23,368.27 696.45,368.77 696.67,371.59 696.89,368.14 697.11,365.09 697.33,361.37 697.55,359.05 697.77,358.91 697.99,357.72 698.21,356.06 698.43,353.32 698.65,349.05 698.87,349.34 699.09,349.54 699.31,351.81 699.53,354.35 699.75,357.95 699.97,358.77 700.19,360.13 700.41,361.26 700.63,362.95 700.85,366.37 701.07,369.12 701.29,368.76 701.51,366.70 701.74,364.26 701.96,362.08 702.18,360.61 702.40,358.94 702.62,359.55 702.84,353.82 703.06,348.24 703.28,343.71 703.50,339.50 703.72,339.97 703.94,343.42 704.16,350.48 704.38,357.56 704.60,359.40 704.82,360.59 705.04,362.05 705.26,365.72 705.48,371.73 705.70,375.81 705.92,373.74 706.14,373.21 706.36,367.15 706.58,361.81 706.80,359.84 707.02,358.72 707.24,358.87 707.46,357.20 707.68,354.18 707.90,354.63 708.12,354.32 708.34,355.99 708.56,358.12 708.78,359.24 709.00,359.11 709.22,362.45 709.44,372.06 709.66,381.26 709.88,388.38 710.10,388.38 710.32,382.98 710.54,371.22 710.76,362.17 710.98,359.42 711.20,359.10 711.42,356.52 711.64,354.45 711.86,353.47 712.08,353.29 712.30,354.58 712.52,356.65 712.74,359.23 712.96,360.36 713.18,359.01 713.40,360.86 713.62,363.43 713.84,364.41 714.07,368.44 714.29,367.20 714.51,366.36 714.73,361.50 714.95,360.16 715.17,359.30 715.39,360.14 715.61,358.43 715.83,356.62 716.05,354.03 716.27,354.16 716.49,353.33 716.71,355.31 716.93,357.51 717.15,359.14 717.37,359.51 717.59,359.69 717.81,361.44 718.03,364.10 718.25,368.76 718.47,372.77 718.69,372.16 718.91,370.64 719.13,367.14 719.35,363.01 719.57,361.72 719.79,359.88 720.01,359.48 720.23,355.74 720.45,353.28 720.67,349.81 720.89,349.67 721.11,351.80 721.33,354.33 721.55,357.14 721.77,359.41 721.99,359.16 722.21,360.47 722.43,363.12 722.65,367.67 722.87,371.03 723.09,370.40 723.31,367.89 723.53,364.76 723.75,362.36 723.97,358.91 724.19,360.03 724.41,356.81 724.63,352.68 724.85,346.60 725.07,342.20 725.29,341.65 725.51,344.69 725.73,348.16 725.95,355.59 726.17,359.60 726.39,359.57 726.62,362.67 726.84,372.08 727.06,384.80 727.28,388.38 727.50,388.38 727.72,388.38 727.94,388.38 728.16,377.53 728.38,366.36 728.60,359.98 728.82,360.13 729.04,358.77 729.26,357.56 729.48,354.06 729.70,350.80 729.92,350.97 730.14,349.44 730.36,352.43 730.58,355.34 730.80,358.74 731.02,360.33 731.24,359.89 731.46,361.15 731.68,365.23 731.90,371.15 732.12,375.82 732.34,378.90 732.56,377.45 732.78,371.12 733.00,365.22 733.22,361.26 733.44,358.61 733.66,359.08 733.88,359.26 734.10,354.71 734.32,351.64 734.54,349.82 734.76,348.13 734.98,350.83 735.20,355.46 735.42,356.87 735.64,360.81 735.86,358.74 736.08,362.62 736.30,370.66 736.52,382.39 736.74,388.38 736.96,388.38 737.18,388.38 737.40,382.09 737.62,370.49 737.84,362.61 738.06,360.66 738.28,359.47 738.50,356.12 738.72,352.21 738.94,347.77 739.17,346.17 739.39,343.96 739.61,350.66 739.83,352.66 740.05,357.56 740.27,360.09 740.49,359.87 740.71,361.49 740.93,363.97 741.15,367.92 741.37,372.06 741.59,370.37 741.81,368.34 742.03,365.76 742.25,361.23 742.47,359.88 742.69,359.83 742.91,357.97 743.13,357.28 743.35,355.79 743.57,355.03 743.79,354.36 744.01,354.98 744.23,357.92 744.45,359.28 744.67,358.93 744.89,359.97 745.11,362.00 745.33,365.17 745.55,369.05 745.77,370.36 745.99,368.50 746.21,364.75 746.43,361.95 746.65,359.87 746.87,359.41 747.09,358.00 747.31,355.95 747.53,353.63 747.75,351.08 747.97,349.40 748.19,351.02 748.41,352.69 748.63,356.05 748.85,358.71 749.07,360.10 749.29,360.12 749.51,362.42 749.73,363.37 749.95,364.07 750.17,365.79 750.39,365.23 750.61,362.80 750.83,362.00 751.05,359.96 751.27,359.45 751.50,357.86 751.72,356.04 751.94,349.06 752.16,341.56 752.38,338.02 752.60,339.34 752.82,346.30 753.04,351.58 753.26,359.02 753.48,359.63 753.70,359.64 753.92,361.43 754.14,361.62 754.36,364.11 754.58,364.16 754.80,365.40 755.02,362.93 755.24,360.54 755.46,359.27 755.68,359.58 755.90,360.17 756.12,355.62 756.34,350.89 756.56,346.14 756.78,346.27 757.00,348.63 757.22,353.49 757.44,357.19 757.66,359.70 757.88,360.69 758.10,361.67 758.32,367.05 758.54,373.12 758.76,374.52 758.98,373.17 759.20,370.01 759.42,364.14 759.64,360.14 759.86,359.36 760.08,358.72 760.30,348.90 760.52,335.01 760.74,330.92 760.96,330.92 761.18,330.92 761.40,334.96 761.62,349.17 761.84,358.70 762.06,359.76 762.28,361.69 762.50,362.95 762.72,369.38 762.94,373.95 763.16,372.61 763.38,370.59 763.60,369.31 763.82,363.16 764.05,360.52 764.27,359.99 764.49,357.97 764.71,351.01 764.93,341.70 765.15,333.97 765.37,330.92 765.59,334.66 765.81,343.65 766.03,351.31 766.25,357.37 766.47,359.19 766.69,360.21 766.91,363.92 767.13,371.77 767.35,376.31 767.57,382.93 767.79,377.58 768.01,374.61 768.23,367.47 768.45,362.74 768.67,359.74 768.89,360.68 769.11,358.75 769.33,357.44 769.55,356.77 769.77,354.31 769.99,354.30 770.21,355.74 770.43,358.32 770.65,357.73 770.87,359.91 771.09,360.06 771.31,361.45 771.53,365.78 771.75,373.46 771.97,377.75 772.19,377.57 772.41,372.73 772.63,367.61 772.85,362.61 773.07,360.71 773.29,360.71 773.51,359.28 773.73,353.79 773.95,349.31 774.17,347.37 774.39,346.26 774.61,350.81 774.83,353.89 775.05,358.28 775.27,358.95 775.49,359.50 775.71,365.18 775.93,379.51 776.15,388.38 776.37,388.38 776.60,388.38 776.82,388.38 777.04,386.11 777.26,372.82 777.48,362.60 777.70,359.23 777.92,358.74 778.14,356.49 778.36,353.75 778.58,351.04 778.80,349.92 779.02,350.10 779.24,353.70 779.46,356.46 779.68,359.75 779.90,359.76 780.12,359.29 780.34,361.48 780.56,365.45 780.78,368.62 781.00,369.35 781.22,367.83 781.44,367.02 781.66,363.96 781.88,361.10 782.10,360.26 782.32,359.94 782.54,357.43" fill="none" stroke="#0072BD" stroke-width="0.55" stroke-linejoin="round"/>
<polyline points="595.61,359.39 595.83,359.80 596.05,358.78 596.27,358.59 596.49,356.90 596.71,356.94 596.93,356.56 597.15,357.16 597.37,358.53 597.59,359.37 597.81,359.98 598.03,360.79 598.25,362.37 598.47,366.96 598.69,371.39 598.91,374.34 599.13,373.47 599.35,369.11 599.57,364.70 599.79,361.06 600.01,360.00 600.23,358.79 600.45,358.68 600.67,356.45 600.89,354.91 601.11,354.03 601.33,351.26 601.55,354.72 601.78,355.57 602.00,357.42 602.22,358.32 602.44,359.30 602.66,359.90 602.88,360.04 603.10,361.44 603.32,363.11 603.54,364.60 603.76,366.01 603.98,364.37 604.20,363.94 604.42,362.13 604.64,360.54 604.86,359.43 605.08,359.47 605.30,359.11 605.52,357.82 605.74,357.02 605.96,354.85 606.18,354.04 606.40,355.01 606.62,356.14 606.84,358.47 607.06,359.23 607.28,359.37 607.50,359.73 607.72,360.62 607.94,363.75 608.16,366.10 608.38,367.12 608.60,367.11 608.82,364.31 609.04,362.54 609.26,359.89 609.48,359.97 609.70,359.83 609.92,358.83 610.14,357.31 610.36,356.58 610.58,355.71 610.80,356.65 611.02,357.07 611.24,359.16 611.46,359.73 611.68,359.49 611.90,360.75 612.12,362.55 612.34,364.74 612.56,366.30 612.78,365.61 613.00,363.49 613.22,361.53 613.44,359.87 613.66,359.41 613.88,359.38 614.10,358.70 614.33,358.19 614.55,357.41 614.77,357.02 614.99,358.17 615.21,358.66 615.43,359.97 615.65,359.55 615.87,359.69 616.09,360.38 616.31,360.73 616.53,362.01 616.75,362.66 616.97,362.82 617.19,362.92 617.41,361.96 617.63,360.92 617.85,360.06 618.07,359.06 618.29,360.16 618.51,358.74 618.73,357.59 618.95,355.98 619.17,353.72 619.39,354.66 619.61,355.10 619.83,356.15 620.05,358.27 620.27,358.79 620.49,359.49 620.71,359.74 620.93,362.40 621.15,367.38 621.37,373.94 621.59,377.50 621.81,377.36 622.03,376.37 622.25,370.16 622.47,363.85 622.69,360.91 622.91,359.93 623.13,359.47 623.35,355.71 623.57,352.39 623.79,347.48 624.01,345.73 624.23,349.20 624.45,352.72 624.67,356.26 624.89,358.91 625.11,359.37 625.33,362.11 625.55,368.42 625.77,377.08 625.99,379.61 626.21,380.31 626.43,372.82 626.65,366.26 626.88,360.16 627.10,359.87 627.32,358.98 627.54,358.01 627.76,357.86 627.98,355.72 628.20,356.50 628.42,357.37 628.64,358.16 628.86,358.84 629.08,359.94 629.30,359.24 629.52,360.95 629.74,364.08 629.96,364.42 630.18,366.46 630.40,365.52 630.62,364.03 630.84,361.91 631.06,360.41 631.28,359.41 631.50,359.64 631.72,358.76 631.94,357.49 632.16,355.19 632.38,354.43 632.60,353.67 632.82,355.40 633.04,357.77 633.26,357.90 633.48,358.74 633.70,359.01 633.92,360.07 634.14,361.96 634.36,364.00 634.58,364.96 634.80,364.79 635.02,363.68 635.24,361.87 635.46,360.78 635.68,359.70 635.90,358.97 636.12,357.08 636.34,354.41 636.56,351.74 636.78,349.42 637.00,351.75 637.22,354.26 637.44,356.95 637.66,359.03 637.88,359.55 638.10,359.90 638.32,361.42 638.54,363.16 638.76,364.60 638.98,365.52 639.21,364.61 639.43,362.64 639.65,360.74 639.87,359.73 640.09,359.38 640.31,359.19 640.53,358.50 640.75,357.08 640.97,356.37 641.19,355.58 641.41,355.98 641.63,357.38 641.85,358.28 642.07,359.49 642.29,359.55 642.51,359.89 642.73,360.63 642.95,362.40 643.17,364.52 643.39,365.22 643.61,365.46 643.83,364.90 644.05,363.06 644.27,360.62 644.49,360.12 644.71,359.31 644.93,359.51 645.15,356.55 645.37,353.54 645.59,349.51 645.81,346.38 646.03,346.43 646.25,350.96 646.47,354.31 646.69,358.18 646.91,359.28 647.13,360.39 647.35,363.18 647.57,368.34 647.79,372.25 648.01,372.25 648.23,372.25 648.45,369.85 648.67,364.42 648.89,359.91 649.11,359.43 649.33,359.39 649.55,357.98 649.77,356.87 649.99,354.82 650.21,354.56 650.43,355.89 650.65,357.33 650.87,359.30 651.09,359.82 651.31,359.54 651.53,360.64 651.76,363.15 651.98,365.89 652.20,368.02 652.42,368.38 652.64,366.14 652.86,362.53 653.08,361.38 653.30,359.65 653.52,359.48 653.74,358.49 653.96,357.41 654.18,355.19 654.40,353.72 654.62,353.41 654.84,353.85 655.06,356.47 655.28,357.82 655.50,359.61 655.72,359.33 655.94,359.87 656.16,360.63 656.38,361.52 656.60,362.70 656.82,363.51 657.04,363.20 657.26,361.82 657.48,360.34 657.70,360.26 657.92,359.84 658.14,359.14 658.36,358.47 658.58,356.65 658.80,353.84 659.02,353.30 659.24,353.77 659.46,354.83 659.68,356.67 659.90,358.56 660.12,359.47 660.34,359.39 660.56,360.53 660.78,363.05 661.00,365.61 661.22,368.98 661.44,367.77 661.66,366.32 661.88,362.98 662.10,360.78 662.32,359.11 662.54,359.33 662.76,359.01 662.98,357.47 663.20,355.44 663.42,354.46 663.64,354.18 663.86,355.54 664.08,357.53 664.31,359.39 664.53,359.63 664.75,359.39 664.97,360.82 665.19,362.53 665.41,365.98 665.63,368.87 665.85,367.74 666.07,366.93 666.29,364.00 666.51,362.01 666.73,359.79 666.95,359.28 667.17,359.24 667.39,357.26 667.61,354.91 667.83,353.13 668.05,353.38 668.27,353.51 668.49,355.08 668.71,357.92 668.93,359.24 669.15,359.11 669.37,360.01 669.59,361.90 669.81,363.64 670.03,365.33 670.25,365.26 670.47,363.66 670.69,361.13 670.91,360.57 671.13,359.73 671.35,359.26 671.57,358.41 671.79,356.73 672.01,355.96 672.23,355.55 672.45,355.92 672.67,357.42 672.89,358.73 673.11,360.33 673.33,359.27 673.55,360.24 673.77,362.87 673.99,364.59 674.21,366.27 674.43,365.37 674.65,363.78 674.87,362.99 675.09,359.71 675.31,358.69 675.53,359.67 675.75,356.21 675.97,347.74 676.19,342.33 676.41,342.33 676.64,342.33 676.86,342.33 677.08,345.25 677.30,353.59 677.52,358.62 677.74,358.76 677.96,359.58 678.18,361.44 678.40,363.01 678.62,365.02 678.84,366.70 679.06,366.74 679.28,365.44 679.50,363.02 679.72,361.23 679.94,359.55 680.16,359.67 680.38,359.08 680.60,356.67 680.82,356.30 681.04,351.96 681.26,351.63 681.48,351.21 681.70,353.66 681.92,356.14 682.14,359.01 682.36,358.99 682.58,359.68 682.80,359.77 683.02,361.09 683.24,361.54 683.46,361.88 683.68,361.59 683.90,361.67 684.12,360.30 684.34,359.70 684.56,359.64 684.78,359.84 685.00,358.32 685.22,357.46 685.44,356.95 685.66,356.75 685.88,357.01 686.10,357.52 686.32,359.11 686.54,359.51 686.76,359.65 686.98,360.58 687.20,360.53 687.42,361.05 687.64,361.93 687.86,362.86 688.08,362.17 688.30,360.85 688.52,360.47 688.74,359.49 688.96,359.47 689.19,358.86 689.41,357.44 689.63,354.22 689.85,350.01 690.07,350.30 690.29,350.11 690.51,353.31 690.73,356.73 690.95,358.83 691.17,360.17 691.39,360.31 691.61,361.36 691.83,365.60 692.05,368.24 692.27,368.04 692.49,367.26 692.71,364.25 692.93,362.03 693.15,359.79 693.37,359.66 693.59,359.33 693.81,357.45 694.03,355.77 694.25,353.56 694.47,353.42 694.69,354.57 694.91,356.11 695.13,358.13 695.35,359.45 695.57,359.47 695.79,359.93 696.01,362.63 696.23,365.82 696.45,366.17 696.67,368.19 696.89,365.72 697.11,363.54 697.33,360.88 697.55,359.22 697.77,359.16 697.99,358.36 698.21,357.25 698.43,355.42 698.65,352.57 698.87,352.76 699.09,352.89 699.31,354.41 699.53,356.11 699.75,358.52 699.97,359.06 700.19,359.80 700.41,360.17 700.63,360.71 700.85,361.81 701.07,362.69 701.29,362.58 701.51,361.92 701.74,361.13 701.96,360.43 702.18,359.96 702.40,359.42 702.62,359.60 702.84,356.93 703.06,354.33 703.28,352.21 703.50,350.25 703.72,350.47 703.94,352.08 704.16,355.37 704.38,358.67 704.60,359.53 704.82,360.28 705.04,361.26 705.26,363.73 705.48,367.77 705.70,370.52 705.92,369.13 706.14,368.77 706.36,364.69 706.58,361.10 706.80,359.78 707.02,359.21 707.24,359.28 707.46,358.49 707.68,357.05 707.90,357.26 708.12,357.11 708.34,357.91 708.56,358.92 708.78,359.45 709.00,359.31 709.22,361.40 709.44,367.42 709.66,373.17 709.88,377.63 710.10,377.63 710.32,374.25 710.54,366.89 710.76,361.23 710.98,359.51 711.20,359.34 711.42,357.90 711.64,356.75 711.86,356.20 712.08,356.09 712.30,356.82 712.52,357.97 712.74,359.42 712.96,360.05 713.18,359.21 713.40,360.48 713.62,362.23 713.84,362.90 714.07,365.65 714.29,364.80 714.51,364.23 714.73,360.91 714.95,360.00 715.17,359.41 715.39,359.84 715.61,359.19 715.83,358.50 716.05,357.53 716.27,357.57 716.49,357.26 716.71,358.01 716.93,358.84 717.15,359.46 717.37,359.60 717.59,359.66 717.81,360.36 718.03,361.41 718.25,363.25 718.47,364.84 718.69,364.60 718.91,364.00 719.13,362.61 719.35,360.98 719.57,360.47 719.79,359.77 720.01,359.56 720.23,357.66 720.45,356.41 720.67,354.65 720.89,354.57 721.11,355.66 721.33,356.94 721.55,358.37 721.77,359.53 721.99,359.44 722.21,360.01 722.43,361.17 722.65,363.17 722.87,364.64 723.09,364.37 723.31,363.26 723.53,361.89 723.75,360.84 723.97,359.32 724.19,359.80 724.41,358.52 724.63,356.88 724.85,354.46 725.07,352.72 725.29,352.50 725.51,353.71 725.73,355.08 725.95,358.04 726.17,359.63 726.39,359.62 726.62,360.86 726.84,364.63 727.06,369.72 727.28,371.16 727.50,371.16 727.72,371.16 727.94,371.16 728.16,366.81 728.38,362.34 728.60,359.78 728.82,359.89 729.04,359.21 729.26,358.60 729.48,356.85 729.70,355.21 729.92,355.30 730.14,354.54 730.36,356.03 730.58,357.49 730.80,359.19 731.02,359.99 731.24,359.83 731.46,360.76 731.68,363.77 731.90,368.15 732.12,371.60 732.34,373.87 732.56,372.80 732.78,368.12 733.00,363.77 733.22,360.84 733.44,358.89 733.66,359.31 733.88,359.42 734.10,356.69 734.32,354.85 734.54,353.75 734.76,352.74 734.98,354.36 735.20,357.14 735.42,357.99 735.64,360.35 735.86,359.03 736.08,361.68 736.30,367.15 736.52,375.15 736.74,379.22 736.96,379.22 737.18,379.22 737.40,374.94 737.62,367.04 737.84,361.67 738.06,360.34 738.28,359.60 738.50,358.57 738.72,357.36 738.94,356.00 739.17,355.51 739.39,354.83 739.61,356.89 739.83,357.50 740.05,359.01 740.27,359.78 740.49,359.75 740.71,360.50 740.93,361.65 741.15,363.48 741.37,365.40 741.59,364.61 741.81,363.67 742.03,362.48 742.25,360.38 742.47,359.76 742.69,359.78 742.91,358.42 743.13,357.92 743.35,356.83 743.57,356.28 743.79,355.79 744.01,356.24 744.23,358.39 744.45,359.38 744.67,359.13 744.89,359.84 745.11,361.09 745.33,363.05 745.55,365.43 745.77,366.23 745.99,365.09 746.21,362.79 746.43,361.06 746.65,359.79 746.87,359.53 747.09,358.81 747.31,357.77 747.53,356.59 747.75,355.29 747.97,354.44 748.19,355.26 748.41,356.11 748.63,357.82 748.85,359.17 749.07,359.88 749.29,359.89 749.51,361.04 749.73,361.52 749.95,361.86 750.17,362.72 750.39,362.44 750.61,361.23 750.83,360.83 751.05,359.80 751.27,359.55 751.50,358.50 751.72,357.32 751.94,352.83 752.16,347.99 752.38,345.71 752.60,346.56 752.82,351.05 753.04,354.45 753.26,359.24 753.48,359.63 753.70,359.65 753.92,360.85 754.14,360.98 754.36,362.67 754.58,362.70 754.80,363.53 755.02,361.87 755.24,360.25 755.46,359.39 755.68,359.60 755.90,359.91 756.12,357.65 756.34,355.30 756.56,352.95 756.78,353.01 757.00,354.19 757.22,356.60 757.44,358.43 757.66,359.67 757.88,360.29 758.10,360.89 758.32,364.18 758.54,367.89 758.76,368.75 758.98,367.92 759.20,365.99 759.42,362.40 759.64,359.95 759.86,359.47 760.08,359.24 760.30,354.93 760.52,348.83 760.74,347.03 760.96,347.03 761.18,347.03 761.40,348.81 761.62,355.05 761.84,359.23 762.06,359.70 762.28,360.49 762.50,361.01 762.72,363.64 762.94,365.52 763.16,364.97 763.38,364.14 763.60,363.62 763.82,361.09 764.05,360.01 764.27,359.88 764.49,358.52 764.71,353.83 764.93,347.55 765.15,342.33 765.37,340.28 765.59,342.80 765.81,348.86 766.03,354.03 766.25,358.11 766.47,359.34 766.69,359.86 766.91,361.26 767.13,364.22 767.35,365.93 767.57,368.43 767.79,366.41 768.01,365.29 768.23,362.60 768.45,360.81 768.67,359.68 768.89,360.27 769.11,359.11 769.33,358.33 769.55,357.93 769.77,356.46 769.99,356.45 770.21,357.31 770.43,358.86 770.65,358.50 770.87,359.81 771.09,359.81 771.31,360.36 771.53,362.06 771.75,365.08 771.97,366.76 772.19,366.69 772.41,364.79 772.63,362.78 772.85,360.81 773.07,360.06 773.29,360.15 773.51,359.47 773.73,356.88 773.95,354.77 774.17,353.85 774.39,353.32 774.61,355.48 774.83,356.93 775.05,359.00 775.27,359.32 775.49,359.55 775.71,363.25 775.93,372.58 776.15,378.35 776.37,378.35 776.60,378.35 776.82,378.35 777.04,376.88 777.26,368.22 777.48,361.57 777.70,359.41 777.92,359.13 778.14,357.84 778.36,356.27 778.58,354.71 778.80,354.07 779.02,354.17 779.24,356.24 779.46,357.82 779.68,359.71 779.90,359.71 780.12,359.49 780.34,360.48 780.56,362.28 780.78,363.72 781.00,364.06 781.22,363.37 781.44,363.00 781.66,361.61 781.88,360.31 782.10,359.93 782.32,359.76 782.54,358.84" fill="none" stroke="#0a6aae" stroke-width="0.4" stroke-linejoin="round"/>
<rect x="595.50" y="263.90" width="187.15" height="191.50" fill="none" stroke="#b4b4b4" stroke-width="1.2"/>
<path d="M639.54,455.40v-1.9M639.54,263.90v1.9M683.57,455.40v-1.9M683.57,263.90v1.9M727.61,455.40v-1.9M727.61,263.90v1.9M771.64,455.40v-1.9M771.64,263.90v1.9M595.50,423.48h1.9M782.65,423.48h-1.9M595.50,391.57h1.9M782.65,391.57h-1.9M595.50,359.65h1.9M782.65,359.65h-1.9M595.50,327.73h1.9M782.65,327.73h-1.9M595.50,295.82h1.9M782.65,295.82h-1.9" stroke="#8a8a8a" stroke-width="1" fill="none"/>
<text class="tk" transform="translate(590.90,296.32) scale(1,1.07)" y="5.35" text-anchor="end">0.2</text>
<text class="tk" transform="translate(590.90,328.23) scale(1,1.07)" y="5.35" text-anchor="end">0.1</text>
<text class="tk" transform="translate(590.90,360.15) scale(1,1.07)" y="5.35" text-anchor="end">0</text>
<text class="tk" transform="translate(590.90,392.07) scale(1,1.07)" y="5.35" text-anchor="end">-0.1</text>
<text class="tk" transform="translate(590.90,423.98) scale(1,1.07)" y="5.35" text-anchor="end">-0.2</text>
<text class="tk" transform="translate(590.90,455.90) scale(1,1.07)" y="5.35" text-anchor="end">-0.3</text>
<text class="tk" transform="translate(639.54,470.40) scale(1,1.07)" y="5.35" text-anchor="middle">200</text>
<text class="tk" transform="translate(683.57,470.40) scale(1,1.07)" y="5.35" text-anchor="middle">400</text>
<text class="tk" transform="translate(727.61,470.40) scale(1,1.07)" y="5.35" text-anchor="middle">600</text>
<text class="tk" transform="translate(771.64,470.40) scale(1,1.07)" y="5.35" text-anchor="middle">800</text>
<text class="al" x="689.08" y="497.00" text-anchor="middle">x(pixel)</text>
<text class="yl" transform="translate(559.60,359.65) rotate(-90)" text-anchor="middle">Phase errors(rad)</text>
<polyline points="82.41,574.49 82.63,586.44 82.85,596.71 83.07,598.58 83.29,599.81 83.51,602.85 83.73,613.65 83.95,620.98 84.17,633.81 84.39,628.12 84.61,625.96 84.83,612.80 85.05,603.89 85.27,599.84 85.49,598.10 85.71,596.51 85.93,591.73 86.16,583.65 86.38,580.26 86.60,579.60 86.82,583.14 87.04,589.36 87.26,593.52 87.48,597.31 87.70,598.75 87.92,602.26 88.14,603.83 88.36,610.64 88.58,615.40 88.80,616.75 89.02,614.81 89.24,608.13 89.46,600.38 89.68,597.44 89.90,597.62 90.12,595.81 90.34,590.67 90.56,584.55 90.78,580.66 91.00,580.23 91.22,582.73 91.44,590.04 91.66,595.05 91.88,597.48 92.10,599.56 92.32,601.04 92.54,607.68 92.76,617.14 92.98,619.52 93.20,626.39 93.42,618.27 93.65,610.78 93.87,604.33 94.09,598.41 94.31,598.29 94.53,592.10 94.75,582.53 94.97,562.30 95.19,554.99 95.41,554.99 95.63,563.35 95.85,574.75 96.07,590.78 96.29,596.96 96.51,600.05 96.73,600.18 96.95,609.66 97.17,617.30 97.39,623.31 97.61,619.20 97.83,613.75 98.05,604.47 98.27,600.49 98.49,595.63 98.71,595.50 98.93,583.58 99.15,572.08 99.37,563.57 99.59,561.13 99.81,571.39 100.03,584.86 100.25,596.88 100.47,599.06 100.69,600.22 100.91,602.65 101.14,605.95 101.36,611.30 101.58,609.15 101.80,606.85 102.02,606.30 102.24,598.87 102.46,597.51 102.68,597.86 102.90,594.76 103.12,589.53 103.34,582.98 103.56,577.93 103.78,582.25 104.00,583.63 104.22,590.93 104.44,595.91 104.66,598.03 104.88,598.14 105.10,600.54 105.32,600.83 105.54,602.53 105.76,603.67 105.98,605.36 106.20,605.16 106.42,601.04 106.64,600.30 106.86,598.50 107.08,599.53 107.30,594.68 107.52,591.70 107.74,583.61 107.96,581.64 108.18,578.73 108.40,579.26 108.63,587.97 108.85,592.70 109.07,597.00 109.29,597.82 109.51,600.76 109.73,603.37 109.95,608.12 110.17,612.82 110.39,615.63 110.61,615.45 110.83,611.01 111.05,603.41 111.27,599.27 111.49,598.97 111.71,598.05 111.93,593.43 112.15,584.46 112.37,578.88 112.59,577.29 112.81,581.17 113.03,585.20 113.25,593.77 113.47,597.59 113.69,596.99 113.91,601.06 114.13,604.33 114.35,609.95 114.57,618.34 114.79,614.01 115.01,613.43 115.23,606.09 115.45,601.55 115.67,599.72 115.89,598.49 116.12,594.11 116.34,585.24 116.56,580.15 116.78,574.92 117.00,573.23 117.22,584.79 117.44,588.25 117.66,594.65 117.88,597.34 118.10,600.80 118.32,602.65 118.54,612.64 118.76,619.92 118.98,626.13 119.20,628.25 119.42,623.93 119.64,611.24 119.86,600.72 120.08,596.85 120.30,598.99 120.52,593.85 120.74,588.40 120.96,581.92 121.18,577.45 121.40,575.17 121.62,577.96 121.84,586.11 122.06,594.31 122.28,597.25 122.50,597.87 122.72,599.73 122.94,603.33 123.16,609.40 123.38,614.37 123.61,617.06 123.83,614.09 124.05,608.42 124.27,604.05 124.49,598.91 124.71,597.40 124.93,595.29 125.15,594.25 125.37,584.81 125.59,575.96 125.81,572.96 126.03,578.51 126.25,584.03 126.47,590.58 126.69,595.40 126.91,600.30 127.13,599.96 127.35,602.79 127.57,612.32 127.79,618.75 128.01,623.59 128.23,622.40 128.45,614.66 128.67,605.73 128.89,601.46 129.11,598.36 129.33,596.95 129.55,592.13 129.77,586.64 129.99,575.42 130.21,570.95 130.43,569.48 130.65,580.82 130.87,590.44 131.10,593.59 131.32,598.84 131.54,599.75 131.76,600.56 131.98,605.14 132.20,612.00 132.42,617.50 132.64,619.27 132.86,616.73 133.08,611.69 133.30,604.73 133.52,599.50 133.74,597.92 133.96,598.22 134.18,595.24 134.40,585.27 134.62,577.90 134.84,571.76 135.06,567.42 135.28,572.73 135.50,579.13 135.72,588.41 135.94,593.02 136.16,597.89 136.38,597.63 136.60,598.19 136.82,606.83 137.04,611.47 137.26,616.63 137.48,622.23 137.70,616.83 137.92,608.50 138.14,602.80 138.36,600.28 138.59,598.64 138.81,598.27 139.03,592.55 139.25,586.13 139.47,575.86 139.69,577.23 139.91,579.12 140.13,587.81 140.35,592.75 140.57,598.20 140.79,599.69 141.01,601.54 141.23,607.92 141.45,616.17 141.67,621.07 141.89,622.88 142.11,612.94 142.33,603.18 142.55,600.43 142.77,599.09 142.99,595.20 143.21,594.48 143.43,589.87 143.65,587.88 143.87,589.94 144.09,592.42 144.31,594.92 144.53,598.23 144.75,597.25 144.97,599.87 145.19,607.37 145.41,610.84 145.63,614.76 145.85,612.52 146.08,609.07 146.30,604.88 146.52,598.96 146.74,598.02 146.96,596.73 147.18,593.45 147.40,589.21 147.62,583.96 147.84,581.92 148.06,582.82 148.28,587.08 148.50,593.02 148.72,598.12 148.94,598.11 149.16,599.29 149.38,602.75 149.60,607.28 149.82,608.82 150.04,611.89 150.26,612.05 150.48,608.12 150.70,604.88 150.92,599.08 151.14,597.54 151.36,596.87 151.58,590.24 151.80,575.32 152.02,566.64 152.24,559.32 152.46,563.98 152.68,571.82 152.90,586.25 153.12,598.37 153.34,600.20 153.57,598.43 153.79,605.76 154.01,610.10 154.23,615.32 154.45,621.66 154.67,615.03 154.89,611.84 155.11,604.64 155.33,599.79 155.55,599.07 155.77,597.14 155.99,589.64 156.21,577.97 156.43,569.34 156.65,567.15 156.87,572.16 157.09,578.26 157.31,590.47 157.53,597.21 157.75,597.91 157.97,600.81 158.19,605.66 158.41,608.44 158.63,620.07 158.85,625.44 159.07,624.99 159.29,620.76 159.51,609.83 159.73,603.20 159.95,598.96 160.17,597.39 160.39,597.28 160.61,592.26 160.83,585.25 161.06,578.40 161.28,575.88 161.50,579.55 161.72,587.38 161.94,591.75 162.16,596.23 162.38,597.35 162.60,598.52 162.82,605.99 163.04,612.77 163.26,619.90 163.48,627.04 163.70,619.81 163.92,613.32 164.14,603.51 164.36,599.00 164.58,597.64 164.80,594.22 165.02,581.19 165.24,570.54 165.46,565.88 165.68,568.31 165.90,575.94 166.12,589.82 166.34,596.22 166.56,598.32 166.78,598.17 167.00,599.69 167.22,603.08 167.44,606.98 167.66,606.10 167.88,605.21 168.10,604.82 168.32,600.22 168.55,597.94 168.77,597.65 168.99,597.98 169.21,592.84 169.43,583.75 169.65,576.01 169.87,574.87 170.09,572.17 170.31,575.58 170.53,584.47 170.75,593.29 170.97,596.59 171.19,599.19 171.41,598.90 171.63,601.91 171.85,605.04 172.07,607.26 172.29,609.47 172.51,609.13 172.73,607.75 172.95,604.58 173.17,601.06 173.39,598.76 173.61,597.18 173.83,596.44 174.05,592.48 174.27,580.67 174.49,573.24 174.71,569.30 174.93,569.21 175.15,578.35 175.37,588.35 175.59,595.12 175.81,597.71 176.04,598.11 176.26,601.01 176.48,603.89 176.70,613.03 176.92,616.68 177.14,617.73 177.36,613.08 177.58,607.97 177.80,601.63 178.02,599.48 178.24,597.61 178.46,598.26 178.68,592.18 178.90,587.74 179.12,583.38 179.34,584.19 179.56,585.93 179.78,590.27 180.00,593.57 180.22,596.62 180.44,597.74 180.66,600.93 180.88,601.63 181.10,607.50 181.32,612.04 181.54,616.12 181.76,609.91 181.98,607.68 182.20,600.80 182.42,598.58 182.64,599.28 182.86,597.63 183.08,591.14 183.30,583.65 183.53,579.25 183.75,577.13 183.97,582.75 184.19,592.29 184.41,596.39 184.63,597.91 184.85,598.09 185.07,604.21 185.29,611.14 185.51,623.03 185.73,625.05 185.95,625.07 186.17,617.47 186.39,607.31 186.61,600.71 186.83,599.08 187.05,597.32 187.27,593.66 187.49,591.49 187.71,584.46 187.93,582.34 188.15,582.68 188.37,588.81 188.59,592.70 188.81,596.82 189.03,597.93 189.25,598.93 189.47,604.02 189.69,607.88 189.91,610.18 190.13,614.39 190.35,611.00 190.57,606.23 190.79,602.19 191.02,597.13 191.24,596.45 191.46,597.63 191.68,594.30 191.90,586.26 192.12,583.61 192.34,580.79 192.56,583.30 192.78,588.29 193.00,593.15 193.22,598.86 193.44,598.38 193.66,600.05 193.88,603.68 194.10,610.83 194.32,620.13 194.54,618.42 194.76,619.14 194.98,615.88 195.20,606.40 195.42,600.93 195.64,599.23 195.86,598.07 196.08,595.59 196.30,590.51 196.52,582.52 196.74,579.79 196.96,577.56 197.18,576.48 197.40,586.25 197.62,591.21 197.84,596.34 198.06,597.52 198.28,599.64 198.51,605.61 198.73,615.72 198.95,625.45 199.17,630.99 199.39,625.68 199.61,619.24 199.83,607.47 200.05,601.29 200.27,598.89 200.49,598.33 200.71,595.70 200.93,590.51 201.15,586.67 201.37,584.60 201.59,587.28 201.81,592.87 202.03,594.48 202.25,597.87 202.47,597.16 202.69,599.91 202.91,607.62 203.13,617.53 203.35,623.68 203.57,623.12 203.79,619.40 204.01,612.31 204.23,602.12 204.45,598.85 204.67,599.80 204.89,594.06 205.11,587.61 205.33,577.78 205.55,574.32 205.77,578.65 206.00,580.51 206.22,591.43 206.44,597.68 206.66,598.98 206.88,599.67 207.10,601.76 207.32,604.21 207.54,609.94 207.76,612.10 207.98,609.73 208.20,607.22 208.42,601.19 208.64,600.25 208.86,599.43 209.08,596.65 209.30,596.49 209.52,591.51 209.74,586.72 209.96,582.62 210.18,586.34 210.40,588.07 210.62,591.97 210.84,594.52 211.06,597.61 211.28,597.31 211.50,599.86 211.72,607.14 211.94,615.25 212.16,618.45 212.38,621.50 212.60,619.06 212.82,613.43 213.04,606.14 213.26,599.75 213.49,597.81 213.71,596.93 213.93,596.06 214.15,593.16 214.37,586.81 214.59,586.96 214.81,587.13 215.03,589.73 215.25,593.79 215.47,598.04 215.69,599.14 215.91,599.99 216.13,604.37 216.35,610.83 216.57,618.95 216.79,628.11 217.01,626.96 217.23,620.92 217.45,610.54 217.67,601.48 217.89,598.45 218.11,597.47 218.33,596.66 218.55,594.15 218.77,588.20 218.99,586.46 219.21,583.71 219.43,586.27 219.65,594.36 219.87,597.48 220.09,597.33 220.31,597.49 220.53,603.46 220.75,613.95 220.98,626.22 221.20,630.48 221.42,630.83 221.64,622.66 221.86,608.64 222.08,599.28 222.30,598.00 222.52,595.99 222.74,592.85 222.96,584.69 223.18,579.24 223.40,573.94 223.62,576.96 223.84,583.72 224.06,590.30 224.28,595.68 224.50,597.27 224.72,598.40 224.94,599.23 225.16,599.10 225.38,605.36 225.60,605.27 225.82,603.88 226.04,603.01 226.26,600.09 226.48,599.79 226.70,597.36 226.92,599.36 227.14,595.81 227.36,590.78 227.58,584.83 227.80,579.69 228.02,575.06 228.24,578.36 228.47,584.17 228.69,590.68 228.91,597.45 229.13,597.73 229.35,599.55 229.57,600.91 229.79,607.16 230.01,611.39 230.23,614.76 230.45,616.37 230.67,611.83 230.89,606.41 231.11,600.65 231.33,598.73 231.55,598.22 231.77,594.49 231.99,589.43 232.21,576.97 232.43,571.56 232.65,570.82 232.87,578.73 233.09,587.93 233.31,594.62 233.53,598.67 233.75,598.06 233.97,602.24 234.19,608.03 234.41,617.58 234.63,621.96 234.85,622.35 235.07,616.30 235.29,606.45 235.51,599.63 235.73,599.19 235.96,596.91 236.18,595.94 236.40,590.20 236.62,584.57 236.84,584.03 237.06,585.59 237.28,591.00 237.50,593.96 237.72,597.11 237.94,600.07 238.16,598.25 238.38,603.53 238.60,609.26 238.82,613.71 239.04,617.23 239.26,616.81 239.48,611.74 239.70,603.88 239.92,600.48 240.14,598.97 240.36,597.17 240.58,592.88 240.80,583.17 241.02,576.70 241.24,573.78 241.46,579.38 241.68,582.83 241.90,589.83 242.12,597.82 242.34,599.58 242.56,600.15 242.78,604.24 243.00,612.62 243.22,623.64 243.45,624.81 243.67,621.14 243.89,616.08 244.11,606.42 244.33,599.55 244.55,598.05 244.77,597.64 244.99,592.30 245.21,585.50 245.43,577.14 245.65,573.70 245.87,579.70 246.09,583.33 246.31,590.58 246.53,596.84 246.75,597.81 246.97,598.57 247.19,604.41 247.41,609.76 247.63,619.29 247.85,622.34 248.07,622.99 248.29,618.88 248.51,607.37 248.73,600.00 248.95,597.58 249.17,597.07 249.39,594.38 249.61,590.16 249.83,583.53 250.05,579.01 250.27,579.32 250.49,584.33 250.71,590.33 250.94,596.35 251.16,598.15 251.38,599.04 251.60,602.23 251.82,609.86 252.04,611.10 252.26,614.87 252.48,613.84 252.70,608.72 252.92,603.32 253.14,597.36 253.36,598.95 253.58,594.38 253.80,585.67 254.02,573.59 254.24,560.66 254.46,564.89 254.68,571.93 254.90,583.85 255.12,593.75 255.34,597.91 255.56,597.07 255.78,604.22 256.00,611.29 256.22,617.22 256.44,619.09 256.66,618.41 256.88,611.17 257.10,603.70 257.32,598.43 257.54,598.35 257.76,596.73 257.98,588.36 258.20,578.95 258.43,568.48 258.65,571.91 258.87,575.37 259.09,584.94 259.31,591.87 259.53,598.29 259.75,598.02 259.97,601.97 260.19,606.38 260.41,613.47 260.63,616.42 260.85,616.87 261.07,611.06 261.29,604.83 261.51,602.32 261.73,598.97 261.95,598.05 262.17,595.20 262.39,585.70 262.61,580.21 262.83,577.84 263.05,580.55 263.27,583.30 263.49,587.56 263.71,594.86 263.93,598.54 264.15,599.09 264.37,598.87 264.59,604.24 264.81,610.73 265.03,614.53 265.25,616.03 265.47,617.80 265.69,610.81 265.92,606.27 266.14,600.47 266.36,599.52 266.58,596.68 266.80,597.58 267.02,594.29 267.24,589.75 267.46,585.98 267.68,584.94 267.90,587.39 268.12,589.81 268.34,594.03 268.56,597.79 268.78,597.00 269.00,598.66 269.22,607.66 269.44,615.43" fill="none" stroke="#0072BD" stroke-width="0.6" stroke-linejoin="round"/>
<polyline points="82.41,582.51 82.63,590.44 82.85,597.26 83.07,598.50 83.29,599.00 83.51,600.35 83.73,605.16 83.95,608.41 84.17,614.12 84.39,611.59 84.61,610.63 84.83,604.78 85.05,600.82 85.27,599.01 85.49,598.18 85.71,597.07 85.93,593.76 86.16,588.16 86.38,585.82 86.60,585.35 86.82,587.81 87.04,592.12 87.26,595.00 87.48,597.63 87.70,598.65 87.92,601.28 88.14,602.46 88.36,607.56 88.58,611.13 88.80,612.13 89.02,610.68 89.24,605.68 89.46,599.87 89.68,597.67 89.90,598.13 90.12,597.58 90.34,596.02 90.56,594.17 90.78,592.99 91.00,592.86 91.22,593.62 91.44,595.83 91.66,597.35 91.88,598.09 92.10,598.95 92.32,599.68 92.54,602.97 92.76,607.66 92.98,608.84 93.20,612.25 93.42,608.22 93.65,604.51 93.87,601.32 94.09,598.38 94.31,598.31 94.53,594.21 94.75,587.86 94.97,574.44 95.19,569.60 95.41,569.60 95.63,575.14 95.85,582.70 96.07,593.33 96.29,597.43 96.51,599.17 96.73,599.23 96.95,603.80 97.17,607.47 97.39,610.36 97.61,608.39 97.83,605.76 98.05,601.30 98.27,599.38 98.49,596.74 98.71,596.66 98.93,589.62 99.15,582.81 99.37,577.78 99.59,576.33 99.81,582.40 100.03,590.37 100.25,597.48 100.47,598.77 100.69,599.72 100.91,601.50 101.14,603.92 101.36,607.84 101.58,606.27 101.80,604.58 102.02,604.18 102.24,598.73 102.46,597.73 102.68,598.17 102.90,597.00 103.12,595.04 103.34,592.58 103.56,590.67 103.78,592.30 104.00,592.82 104.22,595.56 104.44,597.43 104.66,598.23 104.88,598.21 105.10,599.78 105.32,599.97 105.54,601.09 105.76,601.83 105.98,602.94 106.20,602.80 106.42,600.11 106.64,599.63 106.86,598.45 107.08,599.15 107.30,595.84 107.52,593.81 107.74,588.28 107.96,586.94 108.18,584.95 108.40,585.31 108.63,591.26 108.85,594.49 109.07,597.43 109.29,597.99 109.51,599.27 109.73,600.25 109.95,602.05 110.17,603.84 110.39,604.90 110.61,604.83 110.83,603.15 111.05,600.27 111.27,598.70 111.49,598.59 111.71,598.23 111.93,596.42 112.15,592.89 112.37,590.70 112.59,590.07 112.81,591.60 113.03,593.18 113.25,596.55 113.47,598.05 113.69,597.36 113.91,600.32 114.13,602.70 114.35,606.79 114.57,612.90 114.79,609.74 115.01,609.32 115.23,603.98 115.45,600.68 115.67,599.35 115.89,598.45 116.12,595.30 116.34,588.92 116.56,585.25 116.78,581.49 117.00,580.27 117.22,588.59 117.44,591.08 117.66,595.69 117.88,597.62 118.10,599.95 118.32,601.14 118.54,607.64 118.76,612.36 118.98,616.40 119.20,617.78 119.42,614.97 119.64,606.73 119.86,599.89 120.08,597.37 120.30,598.65 120.52,596.22 120.74,593.64 120.96,590.57 121.18,588.46 121.40,587.38 121.62,588.70 121.84,592.56 122.06,596.44 122.28,597.83 122.50,598.17 122.72,598.86 122.94,600.18 123.16,602.41 123.38,604.24 123.61,605.22 123.83,604.13 124.05,602.05 124.27,600.44 124.49,598.55 124.71,598.00 124.93,596.93 125.15,596.45 125.37,592.08 125.59,587.97 125.81,586.59 126.03,589.16 126.25,591.72 126.47,594.75 126.69,596.98 126.91,599.26 127.13,599.36 127.35,601.13 127.57,607.11 127.79,611.14 128.01,614.18 128.23,613.43 128.45,608.58 128.67,602.98 128.89,600.30 129.11,598.36 129.33,597.76 129.55,595.72 129.77,593.39 129.99,588.64 130.21,586.75 130.43,586.12 130.65,590.92 130.87,595.00 131.10,596.33 131.32,598.56 131.54,599.16 131.76,599.63 131.98,602.27 132.20,606.23 132.42,609.42 132.64,610.44 132.86,608.97 133.08,606.06 133.30,602.03 133.52,599.02 133.74,598.10 133.96,598.28 134.18,596.75 134.40,591.60 134.62,587.80 134.84,584.63 135.06,582.39 135.28,585.13 135.50,588.43 135.72,593.22 135.94,595.60 136.16,598.11 136.38,597.96 136.60,598.26 136.82,602.90 137.04,605.40 137.26,608.17 137.48,611.18 137.70,608.28 137.92,603.80 138.14,600.74 138.36,599.38 138.59,598.51 138.81,598.30 139.03,595.04 139.25,591.37 139.47,585.51 139.69,586.29 139.91,587.37 140.13,592.33 140.35,595.15 140.57,598.26 140.79,599.35 141.01,600.73 141.23,605.49 141.45,611.65 141.67,615.30 141.89,616.65 142.11,609.24 142.33,601.96 142.55,599.90 142.77,598.63 142.99,597.17 143.21,596.90 143.43,595.17 143.65,594.42 143.87,595.19 144.09,596.12 144.31,597.06 144.53,598.30 144.75,597.62 144.97,599.36 145.19,604.30 145.41,606.60 145.63,609.19 145.85,607.71 146.08,605.43 146.30,602.66 146.52,598.76 146.74,598.13 146.96,597.53 147.18,595.87 147.40,593.73 147.62,591.07 147.84,590.03 148.06,590.49 148.28,592.64 148.50,595.65 148.72,598.23 148.94,598.23 149.16,598.96 149.38,601.23 149.60,604.19 149.82,605.20 150.04,607.21 150.26,607.31 150.48,604.74 150.70,602.62 150.92,598.83 151.14,597.82 151.36,597.64 151.58,594.47 151.80,587.33 152.02,583.17 152.24,579.67 152.46,581.90 152.68,585.65 152.90,592.56 153.12,598.36 153.34,599.24 153.57,598.39 153.79,602.65 154.01,605.18 154.23,608.21 154.45,611.89 154.67,608.04 154.89,606.19 155.11,602.01 155.33,599.19 155.55,598.86 155.77,597.50 155.99,592.20 156.21,583.97 156.43,577.88 156.65,576.33 156.87,579.86 157.09,584.17 157.31,592.79 157.53,597.55 157.75,598.04 157.97,599.99 158.19,603.21 158.41,605.07 158.63,612.81 158.85,616.38 159.07,616.08 159.29,613.26 159.51,605.99 159.73,601.58 159.95,598.76 160.17,597.98 160.39,597.94 160.61,596.01 160.83,593.31 161.06,590.67 161.28,589.71 161.50,591.12 161.72,594.13 161.94,595.81 162.16,597.53 162.38,597.96 162.60,598.47 162.82,603.98 163.04,608.98 163.26,614.23 163.48,619.49 163.70,614.16 163.92,609.38 164.14,602.15 164.36,598.83 164.58,597.95 164.80,596.01 165.02,588.66 165.24,582.64 165.46,580.01 165.68,581.38 165.90,585.69 166.12,593.53 166.34,597.15 166.56,598.33 166.78,598.24 167.00,599.20 167.22,601.34 167.44,603.80 167.66,603.24 167.88,602.68 168.10,602.43 168.32,599.53 168.55,598.09 168.77,597.91 168.99,598.16 169.21,595.47 169.43,590.72 169.65,586.67 169.87,586.07 170.09,584.66 170.31,586.45 170.53,591.09 170.75,595.70 170.97,597.43 171.19,598.74 171.41,598.61 171.63,600.02 171.85,601.48 172.07,602.53 172.29,603.56 172.51,603.40 172.73,602.75 172.95,601.27 173.17,599.62 173.39,598.54 173.61,597.81 173.83,597.47 174.05,595.64 174.27,590.20 174.49,586.77 174.71,584.95 174.93,584.91 175.15,589.13 175.37,593.74 175.59,596.86 175.81,598.05 176.04,598.27 176.26,599.20 176.48,600.13 176.70,603.05 176.92,604.23 177.14,604.56 177.36,603.07 177.58,601.43 177.80,599.40 178.02,598.71 178.24,597.81 178.46,598.29 178.68,593.88 178.90,590.66 179.12,587.50 179.34,588.09 179.56,589.34 179.78,592.49 180.00,594.89 180.22,597.09 180.44,597.99 180.66,599.85 180.88,600.26 181.10,603.67 181.32,606.31 181.54,608.68 181.76,605.07 181.98,603.77 182.20,599.77 182.42,598.48 182.64,599.02 182.86,597.83 183.08,593.19 183.30,587.83 183.53,584.68 183.75,583.15 183.97,587.18 184.19,594.01 184.41,596.95 184.63,598.04 184.85,598.20 185.07,601.73 185.29,605.72 185.51,612.58 185.73,613.75 185.95,613.76 186.17,609.37 186.39,603.52 186.61,599.71 186.83,598.77 187.05,597.93 187.27,596.44 187.49,595.55 187.71,592.68 187.93,591.82 188.15,591.95 188.37,594.46 188.59,596.04 188.81,597.73 189.03,598.18 189.25,598.64 189.47,601.14 189.69,603.04 189.91,604.16 190.13,606.23 190.35,604.57 190.57,602.22 190.79,600.24 191.02,597.75 191.24,597.35 191.46,597.97 191.68,596.22 191.90,592.00 192.12,590.60 192.34,589.12 192.56,590.44 192.78,593.06 193.00,595.62 193.22,598.62 193.44,598.36 193.66,599.21 193.88,601.04 194.10,604.64 194.32,609.33 194.54,608.47 194.76,608.84 194.98,607.19 195.20,602.41 195.42,599.65 195.64,598.79 195.86,598.17 196.08,596.61 196.30,593.43 196.52,588.41 196.74,586.69 196.96,585.30 197.18,584.62 197.40,590.75 197.62,593.86 197.84,597.09 198.06,597.83 198.28,598.84 198.51,601.09 198.73,604.91 198.95,608.58 199.17,610.67 199.39,608.67 199.61,606.24 199.83,601.79 200.05,599.46 200.27,598.56 200.49,598.34 200.71,597.29 200.93,595.22 201.15,593.69 201.37,592.87 201.59,593.94 201.81,596.16 202.03,596.81 202.25,598.16 202.47,597.78 202.69,599.10 202.91,602.80 203.13,607.56 203.35,610.51 203.57,610.24 203.79,608.46 204.01,605.05 204.23,600.16 204.45,598.59 204.67,598.99 204.89,596.47 205.11,593.63 205.33,589.31 205.55,587.79 205.77,589.69 206.00,590.51 206.22,595.31 206.44,598.06 206.66,598.63 206.88,599.31 207.10,600.84 207.32,602.63 207.54,606.82 207.76,608.40 207.98,606.67 208.20,604.83 208.42,600.43 208.64,599.74 208.86,599.14 209.08,597.70 209.30,597.63 209.52,595.72 209.74,593.87 209.96,592.29 210.18,593.72 210.40,594.39 210.62,595.89 210.84,596.87 211.06,598.06 211.28,597.91 211.50,598.99 211.72,602.07 211.94,605.49 212.16,606.85 212.38,608.14 212.60,607.11 212.82,604.73 213.04,601.64 213.26,598.94 213.49,598.12 213.71,597.43 213.93,596.87 214.15,594.99 214.37,590.88 214.59,590.97 214.81,591.08 215.03,592.77 215.25,595.40 215.47,598.15 215.69,598.86 215.91,599.08 216.13,601.02 216.35,603.89 216.57,607.49 216.79,611.56 217.01,611.05 217.23,608.37 217.45,603.76 217.67,599.74 217.89,598.39 218.11,597.89 218.33,597.45 218.55,596.13 218.77,592.98 218.99,592.07 219.21,590.61 219.43,591.97 219.65,596.24 219.87,597.89 220.09,597.81 220.31,598.05 220.53,600.14 220.75,603.83 220.98,608.14 221.20,609.64 221.42,609.76 221.64,606.89 221.86,601.97 222.08,598.68 222.30,598.23 222.52,596.82 222.74,594.79 222.96,589.49 223.18,585.96 223.40,582.52 223.62,584.48 223.84,588.87 224.06,593.13 224.28,596.62 224.50,597.65 224.72,598.36 224.94,598.62 225.16,598.58 225.38,600.47 225.60,600.44 225.82,600.03 226.04,599.76 226.26,598.88 226.48,598.78 226.70,598.05 226.92,598.88 227.14,597.02 227.36,594.38 227.58,591.25 227.80,588.55 228.02,586.13 228.24,587.86 228.47,590.90 228.69,594.32 228.91,597.88 229.13,598.02 229.35,598.77 229.57,599.25 229.79,601.43 230.01,602.91 230.23,604.09 230.45,604.66 230.67,603.07 230.89,601.17 231.11,599.15 231.33,598.48 231.55,598.30 231.77,596.80 231.99,594.77 232.21,589.75 232.43,587.58 232.65,587.28 232.87,590.46 233.09,594.16 233.31,596.85 233.53,598.48 233.75,598.18 233.97,600.70 234.19,604.19 234.41,609.97 234.63,612.61 234.85,612.85 235.07,609.19 235.29,603.24 235.51,599.12 235.73,598.86 235.96,597.49 236.18,596.90 236.40,593.45 236.62,590.06 236.84,589.74 237.06,590.68 237.28,593.93 237.50,595.71 237.72,597.61 237.94,599.38 238.16,598.28 238.38,601.96 238.60,605.95 238.82,609.05 239.04,611.50 239.26,611.21 239.48,607.68 239.70,602.20 239.92,599.84 240.14,598.78 240.36,597.87 240.58,596.14 240.80,592.22 241.02,589.61 241.24,588.42 241.46,590.69 241.68,592.08 241.90,594.91 242.12,598.14 242.34,598.84 242.56,598.94 242.78,600.28 243.00,603.03 243.22,606.64 243.45,607.03 243.67,605.83 243.89,604.17 244.11,601.00 244.33,598.74 244.55,598.25 244.77,598.10 244.99,596.18 245.21,593.75 245.43,590.75 245.65,589.52 245.87,591.67 246.09,592.97 246.31,595.57 246.53,597.81 246.75,598.16 246.97,598.44 247.19,600.83 247.41,603.02 247.63,606.92 247.85,608.17 248.07,608.43 248.29,606.75 248.51,602.04 248.73,599.03 248.95,598.03 249.17,597.81 249.39,596.68 249.61,594.91 249.83,592.12 250.05,590.23 250.27,590.36 250.49,592.46 250.71,594.98 250.94,597.51 251.16,598.27 251.38,598.81 251.60,600.95 251.82,606.05 252.04,606.88 252.26,609.39 252.48,608.71 252.70,605.28 252.92,601.67 253.14,597.69 253.36,598.63 253.58,596.51 253.80,592.49 254.02,586.90 254.24,580.93 254.46,582.88 254.68,586.14 254.90,591.65 255.12,596.22 255.34,598.15 255.56,597.69 255.78,601.39 256.00,605.05 256.22,608.11 256.44,609.08 256.66,608.73 256.88,604.98 257.10,601.12 257.32,598.39 257.54,598.35 257.76,597.54 257.98,593.34 258.20,588.63 258.43,583.38 258.65,585.10 258.87,586.83 259.09,591.63 259.31,595.10 259.53,598.32 259.75,598.12 259.97,600.83 260.19,603.86 260.41,608.73 260.63,610.74 260.85,611.06 261.07,607.07 261.29,602.80 261.51,601.07 261.73,598.77 261.95,598.15 262.17,596.29 262.39,590.08 262.61,586.49 262.83,584.94 263.05,586.71 263.27,588.51 263.49,591.30 263.71,596.07 263.93,598.47 264.15,598.61 264.37,598.53 264.59,600.41 264.81,602.69 265.03,604.02 265.25,604.55 265.47,605.17 265.69,602.71 265.92,601.12 266.14,599.09 266.36,598.76 266.58,597.49 266.80,597.96 267.02,596.27 267.24,593.95 267.46,592.01 267.68,591.48 267.90,592.74 268.12,593.97 268.34,596.14 268.56,598.06 268.78,597.66 269.00,598.57 269.22,604.82 269.44,610.23" fill="none" stroke="#0a6aae" stroke-width="0.4" stroke-linejoin="round"/>
<rect x="82.30" y="502.00" width="187.25" height="192.70" fill="none" stroke="#b4b4b4" stroke-width="1.2"/>
<path d="M126.36,694.70v-1.9M126.36,502.00v1.9M170.42,694.70v-1.9M170.42,502.00v1.9M214.48,694.70v-1.9M214.48,502.00v1.9M258.54,694.70v-1.9M258.54,502.00v1.9M82.30,662.58h1.9M269.55,662.58h-1.9M82.30,630.47h1.9M269.55,630.47h-1.9M82.30,598.35h1.9M269.55,598.35h-1.9M82.30,566.23h1.9M269.55,566.23h-1.9M82.30,534.12h1.9M269.55,534.12h-1.9" stroke="#8a8a8a" stroke-width="1" fill="none"/>
<text class="tk" transform="translate(77.70,534.62) scale(1,1.07)" y="5.35" text-anchor="end">0.2</text>
<text class="tk" transform="translate(77.70,566.73) scale(1,1.07)" y="5.35" text-anchor="end">0.1</text>
<text class="tk" transform="translate(77.70,598.85) scale(1,1.07)" y="5.35" text-anchor="end">0</text>
<text class="tk" transform="translate(77.70,630.97) scale(1,1.07)" y="5.35" text-anchor="end">-0.1</text>
<text class="tk" transform="translate(77.70,663.08) scale(1,1.07)" y="5.35" text-anchor="end">-0.2</text>
<text class="tk" transform="translate(77.70,695.20) scale(1,1.07)" y="5.35" text-anchor="end">-0.3</text>
<text class="tk" transform="translate(126.36,709.70) scale(1,1.07)" y="5.35" text-anchor="middle">200</text>
<text class="tk" transform="translate(170.42,709.70) scale(1,1.07)" y="5.35" text-anchor="middle">400</text>
<text class="tk" transform="translate(214.48,709.70) scale(1,1.07)" y="5.35" text-anchor="middle">600</text>
<text class="tk" transform="translate(258.54,709.70) scale(1,1.07)" y="5.35" text-anchor="middle">800</text>
<text class="al" x="175.93" y="736.30" text-anchor="middle">x(pixel)</text>
<text class="yl" transform="translate(46.40,598.35) rotate(-90)" text-anchor="middle">Phase errors(rad)</text>
<polyline points="337.91,565.55 338.12,545.10 338.34,540.93 338.56,544.47 338.77,554.25 338.99,570.48 339.21,588.06 339.42,599.03 339.64,600.53 339.86,607.37 340.07,619.22 340.29,641.51 340.51,645.75 340.72,660.50 340.94,653.19 341.16,640.13 341.37,629.99 341.59,614.74 341.81,599.53 342.02,600.34 342.24,591.98 342.46,581.43 342.67,565.49 342.89,546.56 343.11,548.40 343.32,537.12 343.54,541.91 343.76,566.54 343.97,577.66 344.19,595.87 344.41,599.06 344.62,604.63 344.84,610.54 345.06,630.64 345.27,634.33 345.49,642.65 345.71,647.45 345.92,634.01 346.14,615.47 346.36,605.96 346.57,598.77 346.79,593.15 347.00,579.88 347.22,545.34 347.44,534.04 347.65,519.66 347.87,527.78 348.09,541.06 348.30,570.82 348.52,589.05 348.74,597.60 348.95,600.32 349.17,606.41 349.39,617.01 349.60,622.28 349.82,631.26 350.04,622.37 350.25,616.08 350.47,605.48 350.69,602.32 350.90,599.14 351.12,591.41 351.34,572.52 351.55,553.83 351.77,527.69 351.99,542.45 352.20,533.04 352.42,552.47 352.64,575.62 352.85,594.03 353.07,597.78 353.29,607.46 353.50,622.13 353.72,637.98 353.94,653.18 354.15,657.15 354.37,643.48 354.59,633.66 354.80,610.27 355.02,598.67 355.24,596.96 355.45,587.25 355.67,559.50 355.89,551.94 356.10,542.14 356.32,533.80 356.53,552.93 356.75,564.06 356.97,588.28 357.18,596.26 357.40,599.10 357.62,609.69 357.83,629.01 358.05,635.86 358.27,643.49 358.48,644.88 358.70,634.41 358.92,622.28 359.13,610.78 359.35,598.84 359.57,596.07 359.78,593.25 360.00,585.41 360.22,577.25 360.43,568.74 360.65,566.52 360.87,572.67 361.08,585.19 361.30,589.89 361.52,599.05 361.73,598.95 361.95,611.97 362.17,637.12 362.38,659.28 362.60,677.04 362.82,672.79 363.03,650.38 363.25,632.25 363.47,609.45 363.68,599.69 363.90,592.91 364.12,587.07 364.33,569.26 364.55,551.02 364.77,541.84 364.98,545.22 365.20,555.42 365.42,574.05 365.63,588.10 365.85,598.86 366.06,598.00 366.28,613.79 366.50,628.18 366.71,652.97 366.93,656.59 367.15,659.15 367.36,656.38 367.58,623.78 367.80,614.04 368.01,602.47 368.23,599.08 368.45,587.83 368.66,570.78 368.88,549.03 369.10,551.20 369.31,544.52 369.53,558.33 369.75,572.06 369.96,588.35 370.18,598.92 370.40,601.33 370.61,613.63 370.83,630.14 371.05,650.32 371.26,656.68 371.48,659.79 371.70,631.67 371.91,620.68 372.13,604.51 372.35,597.38 372.56,593.16 372.78,568.17 373.00,535.10 373.21,519.66 373.43,519.66 373.65,519.66 373.86,523.38 374.08,555.90 374.30,584.36 374.51,599.33 374.73,601.92 374.94,615.55 375.16,628.12 375.38,642.42 375.59,650.50 375.81,637.46 376.03,626.12 376.24,612.29 376.46,602.02 376.68,596.36 376.89,589.75 377.11,572.40 377.33,562.14 377.54,543.01 377.76,546.00 377.98,549.75 378.19,574.78 378.41,591.34 378.63,597.69 378.84,601.84 379.06,610.93 379.28,629.20 379.49,640.06 379.71,647.06 379.93,639.19 380.14,631.78 380.36,613.93 380.58,605.14 380.79,595.43 381.01,593.54 381.23,582.45 381.44,564.68 381.66,548.96 381.88,543.70 382.09,550.84 382.31,557.86 382.53,572.92 382.74,587.37 382.96,597.76 383.18,602.68 383.39,604.48 383.61,619.39 383.82,625.95 384.04,638.64 384.26,645.21 384.47,643.38 384.69,629.66 384.91,623.91 385.12,607.85 385.34,601.89 385.56,595.52 385.77,591.40 385.99,583.54 386.21,566.57 386.42,555.79 386.64,545.72 386.86,548.91 387.07,559.53 387.29,570.30 387.51,586.58 387.72,596.00 387.94,596.79 388.16,605.46 388.37,615.43 388.59,627.50 388.81,631.91 389.02,637.12 389.24,629.91 389.46,622.92 389.67,609.71 389.89,596.70 390.11,600.48 390.32,588.13 390.54,572.67 390.76,552.91 390.97,540.40 391.19,538.97 391.41,546.24 391.62,567.25 391.84,588.51 392.06,598.63 392.27,601.43 392.49,610.90 392.71,623.82 392.92,636.14 393.14,641.41 393.35,640.50 393.57,631.85 393.79,622.75 394.00,607.63 394.22,600.36 394.44,596.67 394.65,587.41 394.87,581.02 395.09,563.71 395.30,560.30 395.52,563.57 395.74,561.14 395.95,571.58 396.17,585.09 396.39,596.58 396.60,598.37 396.82,600.39 397.04,612.01 397.25,631.30 397.47,644.37 397.69,644.80 397.90,644.27 398.12,633.37 398.34,619.94 398.55,607.92 398.77,600.17 398.99,593.05 399.20,579.94 399.42,561.88 399.64,529.59 399.85,524.37 400.07,529.67 400.29,543.98 400.50,574.42 400.72,589.79 400.94,596.89 401.15,602.23 401.37,619.20 401.59,632.69 401.80,659.38 402.02,651.90 402.24,650.70 402.45,635.77 402.67,621.96 402.88,605.16 403.10,598.75 403.32,592.52 403.53,573.86 403.75,549.26 403.97,529.31 404.18,536.07 404.40,527.16 404.62,536.21 404.83,567.96 405.05,584.15 405.27,597.58 405.48,601.76 405.70,611.75 405.92,630.64 406.13,645.21 406.35,653.11 406.57,661.33 406.78,663.00 407.00,631.74 407.22,621.84 407.43,609.16 407.65,600.13 407.87,594.88 408.08,582.64 408.30,567.11 408.52,548.11 408.73,539.83 408.95,545.95 409.17,557.19 409.38,574.98 409.60,594.74 409.82,598.06 410.03,603.44 410.25,615.54 410.47,633.25 410.68,648.37 410.90,656.12 411.12,657.34 411.33,640.73 411.55,616.90 411.76,602.95 411.98,596.33 412.20,590.50 412.41,578.59 412.63,574.88 412.85,565.24 413.06,567.50 413.28,576.96 413.50,587.16 413.71,594.74 413.93,601.66 414.15,606.98 414.36,623.55 414.58,649.10 414.80,667.02 415.01,669.71 415.23,663.37 415.45,642.56 415.66,616.73 415.88,603.57 416.10,597.88 416.31,590.24 416.53,576.29 416.75,560.55 416.96,546.09 417.18,541.63 417.40,545.79 417.61,557.66 417.83,579.67 418.05,590.26 418.26,596.87 418.48,604.64 418.70,618.92 418.91,648.79 419.13,650.52 419.35,663.50 419.56,676.57 419.78,653.82 420.00,636.14 420.21,609.56 420.43,599.94 420.64,594.73 420.86,584.00 421.08,568.67 421.29,565.37 421.51,556.52 421.73,555.22 421.94,565.01 422.16,579.22 422.38,591.33 422.59,598.45 422.81,601.68 423.03,612.11 423.24,625.36 423.46,631.00 423.68,641.43 423.89,640.79 424.11,633.39 424.33,619.74 424.54,600.36 424.76,597.35 424.98,593.85 425.19,582.21 425.41,549.25 425.63,542.67 425.84,529.78 426.06,527.43 426.28,548.84 426.49,570.53 426.71,581.35 426.93,596.15 427.14,601.05 427.36,605.92 427.58,616.76 427.79,632.23 428.01,638.67 428.23,643.09 428.44,633.79 428.66,620.77 428.88,614.33 429.09,602.96 429.31,596.75 429.53,595.16 429.74,586.77 429.96,575.23 430.17,569.94 430.39,562.55 430.61,567.90 430.82,580.99 431.04,585.71 431.26,598.38 431.47,600.13 431.69,603.21 431.91,614.69 432.12,627.21 432.34,635.27 432.56,638.10 432.77,629.30 432.99,619.81 433.21,606.20 433.42,598.05 433.64,592.57 433.86,582.11 434.07,564.57 434.29,554.30 434.51,538.40 434.72,541.26 434.94,563.64 435.16,580.79 435.37,597.33 435.59,601.97 435.81,614.27 436.02,644.45 436.24,667.05 436.46,677.04 436.67,674.68 436.89,664.95 437.11,640.87 437.32,616.01 437.54,598.39 437.76,593.73 437.97,584.19 438.19,565.81 438.41,547.12 438.62,534.81 438.84,541.72 439.06,550.64 439.27,567.88 439.49,586.36 439.70,597.86 439.92,595.60 440.14,602.69 440.35,618.82 440.57,630.01 440.79,648.69 441.00,647.21 441.22,638.65 441.44,637.35 441.65,623.91 441.87,610.87 442.09,599.71 442.30,596.75 442.52,592.52 442.74,585.49 442.95,573.84 443.17,560.17 443.39,552.80 443.60,555.90 443.82,566.62 444.04,572.04 444.25,582.99 444.47,592.99 444.69,598.46 444.90,597.43 445.12,606.36 445.34,617.67 445.55,627.15 445.77,629.40 445.99,635.56 446.20,630.00 446.42,619.97 446.64,605.78 446.85,601.52 447.07,595.14 447.29,592.26 447.50,581.21 447.72,573.37 447.94,562.08 448.15,562.34 448.37,563.42 448.58,578.08 448.80,592.51 449.02,596.98 449.23,600.98 449.45,613.25 449.67,637.57 449.88,657.87 450.10,668.15 450.32,658.55 450.53,638.72 450.75,615.62 450.97,599.09 451.18,597.03 451.40,581.73 451.62,564.70 451.83,549.75 452.05,541.65 452.27,554.72 452.48,572.06 452.70,591.64 452.92,595.77 453.13,604.25 453.35,619.03 453.57,643.00 453.78,664.29 454.00,669.00 454.22,643.30 454.43,633.10 454.65,610.39 454.87,597.92 455.08,598.71 455.30,582.57 455.52,561.52 455.73,547.97 455.95,538.89 456.17,533.09 456.38,545.76 456.60,571.77 456.82,591.98 457.03,599.40 457.25,603.49 457.46,612.41 457.68,619.76 457.90,628.43 458.11,632.07 458.33,632.80 458.55,629.04 458.76,613.07 458.98,604.18 459.20,599.14 459.41,594.76 459.63,578.51 459.85,566.19 460.06,545.49 460.28,528.17 460.50,526.82 460.71,536.62 460.93,559.01 461.15,575.53 461.36,591.48 461.58,597.19 461.80,605.01 462.01,617.30 462.23,630.00 462.45,655.29 462.66,658.58 462.88,658.67 463.10,644.14 463.31,628.84 463.53,609.72 463.75,600.17 463.96,599.42 464.18,591.88 464.40,580.21 464.61,570.97 464.83,559.06 465.05,565.47 465.26,568.80 465.48,579.40 465.70,593.13 465.91,596.13 466.13,598.97 466.35,604.45 466.56,616.95 466.78,626.03 466.99,628.70 467.21,626.27 467.43,619.98 467.64,612.90 467.86,605.13 468.08,599.36 468.29,594.70 468.51,582.36 468.73,565.30 468.94,550.38 469.16,552.04 469.38,552.15 469.59,566.40 469.81,584.72 470.03,595.30 470.24,601.78 470.46,608.16 470.68,618.39 470.89,632.86 471.11,642.52 471.33,650.78 471.54,634.88 471.76,627.14 471.98,605.73 472.19,600.04 472.41,598.78 472.63,587.20 472.84,570.46 473.06,558.63 473.28,542.17 473.49,543.69 473.71,561.31 473.93,570.97 474.14,589.10 474.36,597.16 474.58,600.60 474.79,612.36 475.01,622.54 475.23,634.62 475.44,644.54 475.66,657.98 475.88,641.32 476.09,632.03 476.31,614.41 476.52,602.54 476.74,599.22 476.96,593.55 477.17,581.86 477.39,563.10 477.61,560.10 477.82,534.87 478.04,542.99 478.26,550.72 478.47,564.17 478.69,583.62 478.91,594.89 479.12,600.90 479.34,604.71 479.56,616.28 479.77,623.73 479.99,637.02 480.21,638.66 480.42,638.36 480.64,624.84 480.86,614.59 481.07,606.79 481.29,601.09 481.51,599.50 481.72,595.46 481.94,582.25 482.16,573.44 482.37,568.47 482.59,564.96 482.81,567.19 483.02,574.95 483.24,587.29 483.46,597.55 483.67,596.54 483.89,604.47 484.11,620.20 484.32,648.11 484.54,666.99 484.76,677.04 484.97,671.47 485.19,677.04 485.40,646.06 485.62,618.88 485.84,600.94 486.05,595.79 486.27,589.23 486.49,577.34 486.70,561.39 486.92,560.74 487.14,553.73 487.35,565.35 487.57,577.28 487.79,589.71 488.00,597.05 488.22,596.60 488.44,607.20 488.65,627.90 488.87,653.24 489.09,654.34 489.30,658.60 489.52,649.24 489.74,625.99 489.95,606.26 490.17,599.52 490.39,595.11 490.60,583.75 490.82,567.07 491.04,551.92 491.25,537.26 491.47,553.50 491.69,554.93 491.90,572.87 492.12,587.27 492.34,596.99 492.55,598.94 492.77,601.74 492.99,615.26 493.20,624.56 493.42,632.06 493.64,632.52 493.85,629.10 494.07,619.45 494.28,609.14 494.50,599.23 494.72,599.85 494.93,592.64 495.15,581.24 495.37,560.89 495.58,551.11 495.80,542.58 496.02,545.86 496.23,558.59 496.45,572.01 496.67,591.84 496.88,599.07 497.10,601.89 497.32,612.17 497.53,626.60 497.75,640.03 497.97,648.07 498.18,638.20 498.40,621.64 498.62,607.22 498.83,597.91 499.05,596.28 499.27,579.40 499.48,552.72 499.70,538.01 499.92,534.73 500.13,538.37 500.35,564.36 500.57,584.09 500.78,597.13 501.00,602.83 501.22,611.53 501.43,623.24 501.65,648.78 501.87,646.11 502.08,634.48 502.30,627.46 502.52,609.64 502.73,600.66 502.95,594.73 503.17,585.52 503.38,567.98 503.60,554.08 503.81,536.21 504.03,539.05 504.25,547.55 504.46,575.19 504.68,587.20 504.90,599.10 505.11,599.29 505.33,620.59 505.55,634.29 505.76,656.88 505.98,661.12 506.20,672.49 506.41,661.48 506.63,635.32 506.85,611.19 507.06,603.35 507.28,597.97 507.50,590.56 507.71,581.38 507.93,570.88 508.15,564.10 508.36,563.99 508.58,567.68 508.80,572.06 509.01,588.95 509.23,594.82 509.45,598.82 509.66,603.76 509.88,617.01 510.10,636.00 510.31,648.79 510.53,658.50 510.75,661.80 510.96,647.01 511.18,630.86 511.40,610.18 511.61,595.63 511.83,597.61 512.05,588.69 512.26,572.90 512.48,559.58 512.69,553.09 512.91,557.10 513.13,555.61 513.34,568.05 513.56,582.24 513.78,593.67 513.99,600.34 514.21,602.37 514.43,616.32 514.64,631.94 514.86,648.77 515.08,653.42 515.29,649.51 515.51,631.06 515.73,618.76 515.94,606.87 516.16,597.86 516.38,593.48 516.59,583.31 516.81,571.55 517.03,561.49 517.24,550.31 517.46,556.97 517.68,566.26 517.89,583.56 518.11,592.88 518.33,599.00 518.54,604.87 518.76,617.36 518.98,644.61 519.19,650.97 519.41,656.64 519.63,646.16 519.84,637.61 520.06,615.49 520.28,600.45 520.49,599.83 520.71,593.73 520.93,569.49 521.14,560.01 521.36,548.34 521.58,547.44 521.79,558.13" fill="none" stroke="#0072BD" stroke-width="0.62" stroke-linejoin="round"/>
<polyline points="337.91,578.36 338.12,565.90 338.34,563.36 338.56,565.52 338.77,571.48 338.99,581.37 339.21,592.08 339.42,598.76 339.64,599.23 339.86,601.99 340.07,606.78 340.29,615.78 340.51,617.49 340.72,623.44 340.94,620.49 341.16,615.22 341.37,611.12 341.59,604.97 341.81,598.83 342.02,599.62 342.24,594.28 342.46,587.55 342.67,577.37 342.89,565.28 343.11,566.45 343.32,559.25 343.54,562.31 343.76,578.03 343.97,585.13 344.19,596.76 344.41,598.80 344.62,601.86 344.84,605.17 345.06,616.41 345.27,618.47 345.49,623.12 345.71,625.81 345.92,618.29 346.14,607.92 346.36,602.61 346.57,598.59 346.79,594.64 347.00,585.19 347.22,560.56 347.44,552.50 347.65,542.25 347.87,548.04 348.09,557.50 348.30,578.72 348.52,591.72 348.74,597.81 348.95,599.01 349.17,601.05 349.39,604.60 349.60,606.37 349.82,609.38 350.04,606.40 350.25,604.29 350.47,600.74 350.69,599.68 350.90,598.61 351.12,594.22 351.34,582.97 351.55,571.84 351.77,556.28 351.99,565.07 352.20,559.46 352.42,571.03 352.64,584.82 352.85,595.78 353.07,598.07 353.29,602.81 353.50,609.99 353.72,617.76 353.94,625.20 354.15,627.14 354.37,620.45 354.59,615.64 354.80,604.19 355.02,598.51 355.24,597.70 355.45,593.18 355.67,580.24 355.89,576.71 356.10,572.14 356.32,568.25 356.53,577.17 356.75,582.36 356.97,593.66 357.18,597.38 357.40,598.69 357.62,603.45 357.83,612.15 358.05,615.23 358.27,618.66 358.48,619.28 358.70,614.57 358.92,609.11 359.13,603.94 359.35,598.57 359.57,596.74 359.78,594.75 360.00,589.21 360.22,583.45 360.43,577.44 360.65,575.87 360.87,580.22 361.08,589.06 361.30,592.37 361.52,598.85 361.73,598.60 361.95,603.98 362.17,614.39 362.38,623.56 362.60,630.90 362.82,629.14 363.03,619.87 363.25,612.37 363.47,602.94 363.68,598.90 363.90,595.17 364.12,591.76 364.33,581.36 364.55,570.70 364.77,565.34 364.98,567.31 365.20,573.27 365.42,584.15 365.63,592.36 365.85,598.65 366.06,598.24 366.28,603.16 366.50,607.65 366.71,615.38 366.93,616.51 367.15,617.31 367.36,616.44 367.58,606.28 367.80,603.24 368.01,599.64 368.23,598.88 368.45,590.64 368.66,578.12 368.88,562.17 369.10,563.76 369.31,558.86 369.53,568.99 369.75,579.07 369.96,591.02 370.18,598.77 370.40,600.32 370.61,608.45 370.83,619.36 371.05,632.70 371.26,636.90 371.48,638.96 371.70,620.37 371.91,613.11 372.13,602.42 372.35,597.71 372.56,595.18 372.78,579.93 373.00,559.75 373.21,550.33 373.43,550.33 373.65,550.33 373.86,552.60 374.08,572.45 374.30,589.81 374.51,598.95 374.73,600.25 374.94,607.53 375.16,614.23 375.38,621.86 375.59,626.17 375.81,619.21 376.03,613.16 376.24,605.78 376.46,600.31 376.68,597.43 376.89,594.38 377.11,586.36 377.33,581.62 377.54,572.78 377.76,574.16 377.98,575.90 378.19,587.46 378.41,595.11 378.63,598.04 378.84,600.08 379.06,604.59 379.28,613.66 379.49,619.04 379.71,622.51 379.93,618.61 380.14,614.93 380.36,606.08 380.58,601.72 380.79,596.90 381.01,595.48 381.23,588.86 381.44,578.26 381.66,568.88 381.88,565.74 382.09,570.00 382.31,574.19 382.53,583.18 382.74,591.80 382.96,598.00 383.18,600.64 383.39,601.59 383.61,609.48 383.82,612.95 384.04,619.66 384.26,623.14 384.47,622.17 384.69,614.91 384.91,611.87 385.12,603.37 385.34,600.22 385.56,596.36 385.77,593.47 385.99,587.95 386.21,576.04 386.42,568.47 386.64,561.40 386.86,563.64 387.07,571.10 387.29,578.65 387.51,590.08 387.72,596.70 387.94,597.66 388.16,601.52 388.37,605.97 388.59,611.36 388.81,613.32 389.02,615.65 389.24,612.43 389.46,609.31 389.67,603.42 389.89,597.61 390.11,599.82 390.32,591.31 390.54,580.67 390.76,567.07 390.97,558.46 391.19,557.47 391.41,562.47 391.62,576.94 391.84,591.57 392.06,598.54 392.27,599.69 392.49,603.81 392.71,609.44 392.92,614.80 393.14,617.10 393.35,616.70 393.57,612.94 393.79,608.98 394.00,602.39 394.22,599.22 394.44,597.74 394.65,594.35 394.87,592.02 395.09,585.70 395.30,584.45 395.52,585.65 395.74,584.76 395.95,588.57 396.17,593.50 396.39,597.70 396.60,598.36 396.82,599.08 397.04,603.23 397.25,610.12 397.47,614.79 397.69,614.94 397.90,614.76 398.12,610.86 398.34,606.06 398.55,601.77 398.77,599.00 398.99,596.13 399.20,590.63 399.42,583.05 399.64,569.50 399.85,567.31 400.07,569.53 400.29,575.54 400.50,588.31 400.72,594.76 400.94,597.74 401.15,601.11 401.37,613.21 401.59,622.82 401.80,641.85 402.02,636.51 402.24,635.66 402.45,625.02 402.67,615.18 402.88,603.21 403.10,598.64 403.32,594.50 403.53,582.18 403.75,565.94 403.97,552.77 404.18,557.23 404.40,551.35 404.62,557.32 404.83,578.29 405.05,588.97 405.27,597.84 405.48,600.50 405.70,606.80 405.92,618.72 406.13,627.92 406.35,632.90 406.57,638.08 406.78,639.14 407.00,619.41 407.22,613.17 407.43,605.17 407.65,599.48 407.87,596.83 408.08,591.47 408.30,584.67 408.52,576.35 408.73,572.72 408.95,575.40 409.17,580.33 409.38,588.11 409.60,596.77 409.82,598.22 410.03,600.37 410.25,605.18 410.47,612.22 410.68,618.23 410.90,621.31 411.12,621.79 411.33,615.20 411.55,605.72 411.76,600.18 411.98,597.41 412.20,594.72 412.41,589.21 412.63,587.49 412.85,583.03 413.06,584.07 413.28,588.45 413.50,593.17 413.71,596.68 413.93,599.88 414.15,603.53 414.36,613.49 414.58,628.83 414.80,639.60 415.01,641.21 415.23,637.40 415.45,624.90 415.66,609.39 415.88,601.49 416.10,598.18 416.31,595.32 416.53,590.12 416.75,584.25 416.96,578.86 417.18,577.19 417.40,578.74 417.61,583.17 417.83,591.38 418.05,595.33 418.26,597.80 418.48,601.73 418.70,609.41 418.91,625.47 419.13,626.41 419.35,633.38 419.56,640.41 419.78,628.18 420.00,618.67 420.21,604.38 420.43,599.21 420.64,596.67 420.86,591.66 421.08,584.52 421.29,582.99 421.51,578.86 421.73,578.26 421.94,582.82 422.16,589.44 422.38,595.08 422.59,598.39 422.81,600.49 423.03,607.18 423.24,615.69 423.46,619.31 423.68,626.00 423.89,625.59 424.11,620.84 424.33,612.08 424.54,599.64 424.76,597.71 424.98,595.69 425.19,588.83 425.41,569.39 425.63,565.51 425.84,557.91 426.06,556.52 426.28,569.15 426.49,581.94 426.71,588.32 426.93,597.05 427.14,599.34 427.36,601.13 427.58,605.11 427.79,610.79 428.01,613.15 428.23,614.78 428.44,611.36 428.66,606.58 428.88,604.22 429.09,600.04 429.31,597.65 429.53,596.95 429.74,593.27 429.96,588.20 430.17,585.88 430.39,582.63 430.61,584.98 430.82,590.73 431.04,592.80 431.26,598.36 431.47,599.53 431.69,601.58 431.91,609.19 432.12,617.50 432.34,622.85 432.56,624.73 432.77,618.89 432.99,612.59 433.21,603.56 433.42,598.15 433.64,594.31 433.86,586.99 434.07,574.73 434.29,567.55 434.51,556.43 434.72,558.43 434.94,574.08 435.16,586.07 435.37,597.64 435.59,600.27 435.81,606.79 436.02,622.78 436.24,634.76 436.46,640.05 436.67,638.80 436.89,633.65 437.11,620.89 437.32,607.71 437.54,598.37 437.76,595.24 437.97,588.83 438.19,576.48 438.41,563.91 438.62,555.64 438.84,560.28 439.06,566.28 439.27,577.87 439.49,590.29 439.70,598.02 439.92,597.27 440.14,600.06 440.35,606.43 440.57,610.85 440.79,618.22 441.00,617.64 441.22,614.26 441.44,613.75 441.65,608.44 441.87,603.29 442.09,598.89 442.30,597.58 442.52,595.54 442.74,592.14 442.95,586.52 443.17,579.92 443.39,576.36 443.60,577.86 443.82,583.03 444.04,585.65 444.25,590.93 444.47,595.76 444.69,598.40 444.90,597.81 445.12,603.07 445.34,609.74 445.55,615.33 445.77,616.66 445.99,620.29 446.20,617.01 446.42,611.10 446.64,602.73 446.85,600.22 447.07,597.35 447.29,596.45 447.50,592.99 447.72,590.55 447.94,587.02 448.15,587.10 448.37,587.44 448.58,592.02 448.80,596.52 449.02,597.92 449.23,599.77 449.45,606.37 449.67,619.46 449.88,630.39 450.10,635.92 450.32,630.76 450.53,620.08 450.75,607.65 450.97,598.75 451.18,597.45 451.40,586.99 451.62,575.34 451.83,565.12 452.05,559.58 452.27,568.52 452.48,580.38 452.70,593.76 452.92,596.58 453.13,600.68 453.35,606.51 453.57,615.97 453.78,624.37 454.00,626.22 454.22,616.08 454.43,612.06 454.65,603.10 454.87,598.18 455.08,598.46 455.30,593.53 455.52,587.11 455.73,582.97 455.95,580.20 456.17,578.43 456.38,582.29 456.60,590.24 456.82,596.40 457.03,598.67 457.25,601.39 457.46,606.66 457.68,611.01 457.90,616.14 458.11,618.29 458.33,618.72 458.55,616.50 458.76,607.06 458.98,601.80 459.20,598.82 459.41,596.21 459.63,586.50 459.85,579.14 460.06,566.78 460.28,556.43 460.50,555.63 460.71,561.48 460.93,574.85 461.15,584.72 461.36,594.25 461.58,597.87 461.80,601.08 462.01,606.11 462.23,611.30 462.45,621.65 462.66,622.99 462.88,623.03 463.10,617.09 463.31,610.83 463.53,603.00 463.75,599.09 463.96,598.83 464.18,595.46 464.40,590.24 464.61,586.12 464.83,580.79 465.05,583.65 465.26,585.14 465.48,589.88 465.70,596.02 465.91,597.36 466.13,598.63 466.35,601.12 466.56,606.81 466.78,610.94 466.99,612.15 467.21,611.05 467.43,608.19 467.64,604.97 467.86,601.43 468.08,598.81 468.29,597.12 468.51,592.95 468.73,587.20 468.94,582.16 469.16,582.72 469.38,582.76 469.59,587.57 469.81,593.75 470.03,597.32 470.24,600.53 470.46,604.58 470.68,611.07 470.89,620.26 471.11,626.39 471.33,631.64 471.54,621.54 471.76,616.63 471.98,603.03 472.19,599.42 472.41,598.52 472.63,593.93 472.84,587.29 473.06,582.60 473.28,576.08 473.49,576.68 473.71,583.66 473.93,587.50 474.14,594.68 474.36,597.88 474.58,599.81 474.79,607.42 475.01,614.01 475.23,621.83 475.44,628.25 475.66,636.95 475.88,626.17 476.09,620.15 476.31,608.74 476.52,601.06 476.74,598.87 476.96,595.50 477.17,588.57 477.39,577.44 477.61,575.66 477.82,560.70 478.04,565.52 478.26,570.10 478.47,578.07 478.69,589.61 478.91,596.30 479.12,599.23 479.34,600.56 479.56,604.57 479.77,607.15 479.99,611.76 480.21,612.32 480.42,612.22 480.64,607.53 480.86,603.98 481.07,601.28 481.29,599.30 481.51,599.08 481.72,596.51 481.94,588.10 482.16,582.49 482.37,579.33 482.59,577.09 482.81,578.51 483.02,583.46 483.24,591.31 483.46,597.84 483.67,597.20 483.89,600.58 484.11,606.32 484.32,616.50 484.54,623.38 484.76,627.05 484.97,625.02 485.19,627.05 485.40,615.75 485.62,605.84 485.84,599.30 486.05,596.83 486.27,592.91 486.49,585.82 486.70,576.31 486.92,575.93 487.14,571.75 487.35,578.68 487.57,585.79 487.79,593.20 488.00,597.57 488.22,597.76 488.44,601.32 488.65,608.25 488.87,616.73 489.09,617.10 489.30,618.53 489.52,615.39 489.74,607.61 489.95,601.00 490.17,598.74 490.39,596.53 490.60,590.16 490.82,580.79 491.04,572.29 491.25,564.06 491.47,573.18 491.69,573.98 491.90,584.05 492.12,592.13 492.34,597.59 492.55,598.65 492.77,600.05 492.99,606.81 493.20,611.45 493.42,615.20 493.64,615.43 493.85,613.72 494.07,608.90 494.28,603.74 494.50,598.79 494.72,599.10 494.93,595.29 495.15,589.18 495.37,578.28 495.58,573.03 495.80,568.47 496.02,570.22 496.23,577.05 496.45,584.23 496.67,594.86 496.88,598.74 497.10,600.61 497.32,607.15 497.53,616.34 497.75,624.90 497.97,630.01 498.18,623.73 498.40,613.18 498.62,604.00 498.83,598.07 499.05,597.04 499.27,586.37 499.48,569.50 499.70,560.20 499.92,558.13 500.13,560.43 500.35,576.86 500.57,589.33 500.78,597.58 501.00,599.78 501.22,602.57 501.43,606.33 501.65,614.51 501.87,613.66 502.08,609.93 502.30,607.68 502.52,601.97 502.73,599.09 502.95,597.00 503.17,593.56 503.38,587.01 503.60,581.82 503.81,575.14 504.03,576.20 504.25,579.38 504.46,589.70 504.68,594.19 504.90,598.63 505.11,599.05 505.33,614.85 505.55,625.01 505.76,641.78 505.98,644.92 506.20,653.35 506.41,645.18 506.63,625.78 506.85,607.87 507.06,602.06 507.28,598.16 507.50,594.47 507.71,589.90 507.93,584.68 508.15,581.30 508.36,581.25 508.58,583.09 508.80,585.27 509.01,593.67 509.23,596.59 509.45,598.58 509.66,601.98 509.88,610.84 510.10,623.56 510.31,632.13 510.53,638.64 510.75,640.84 510.96,630.94 511.18,620.13 511.40,606.27 511.61,596.53 511.83,597.94 512.05,593.06 512.26,584.41 512.48,577.11 512.69,573.56 512.91,575.75 513.13,574.94 513.34,581.75 513.56,589.53 513.78,595.79 513.99,599.64 514.21,600.95 514.43,609.99 514.64,620.11 514.86,631.02 515.08,634.03 515.29,631.50 515.51,619.54 515.73,611.58 515.94,603.87 516.16,598.03 516.38,596.73 516.59,593.36 516.81,589.46 517.03,586.12 517.24,582.41 517.46,584.62 517.68,587.70 517.89,593.44 518.11,596.53 518.33,598.56 518.54,601.78 518.76,608.34 518.98,622.67 519.19,626.01 519.41,629.00 519.63,623.48 519.84,618.99 520.06,607.36 520.28,599.45 520.49,599.29 520.71,595.40 520.93,579.92 521.14,573.87 521.36,566.41 521.58,565.84 521.79,572.67" fill="none" stroke="#0a6aae" stroke-width="0.4" stroke-linejoin="round"/>
<rect x="337.80" y="502.00" width="184.10" height="192.70" fill="none" stroke="#b4b4b4" stroke-width="1.2"/>
<path d="M381.12,694.70v-1.9M381.12,502.00v1.9M424.44,694.70v-1.9M424.44,502.00v1.9M467.75,694.70v-1.9M467.75,502.00v1.9M511.07,694.70v-1.9M511.07,502.00v1.9M337.80,662.58h1.9M521.90,662.58h-1.9M337.80,630.47h1.9M521.90,630.47h-1.9M337.80,598.35h1.9M521.90,598.35h-1.9M337.80,566.23h1.9M521.90,566.23h-1.9M337.80,534.12h1.9M521.90,534.12h-1.9" stroke="#8a8a8a" stroke-width="1" fill="none"/>
<text class="tk" transform="translate(333.20,534.62) scale(1,1.07)" y="5.35" text-anchor="end">0.2</text>
<text class="tk" transform="translate(333.20,566.73) scale(1,1.07)" y="5.35" text-anchor="end">0.1</text>
<text class="tk" transform="translate(333.20,598.85) scale(1,1.07)" y="5.35" text-anchor="end">0</text>
<text class="tk" transform="translate(333.20,630.97) scale(1,1.07)" y="5.35" text-anchor="end">-0.1</text>
<text class="tk" transform="translate(333.20,663.08) scale(1,1.07)" y="5.35" text-anchor="end">-0.2</text>
<text class="tk" transform="translate(333.20,695.20) scale(1,1.07)" y="5.35" text-anchor="end">-0.3</text>
<text class="tk" transform="translate(381.12,709.70) scale(1,1.07)" y="5.35" text-anchor="middle">200</text>
<text class="tk" transform="translate(424.44,709.70) scale(1,1.07)" y="5.35" text-anchor="middle">400</text>
<text class="tk" transform="translate(467.75,709.70) scale(1,1.07)" y="5.35" text-anchor="middle">600</text>
<text class="tk" transform="translate(511.07,709.70) scale(1,1.07)" y="5.35" text-anchor="middle">800</text>
<text class="al" x="429.85" y="736.30" text-anchor="middle">x(pixel)</text>
<text class="yl" transform="translate(301.90,598.35) rotate(-90)" text-anchor="middle">Phase errors(rad)</text>
<polyline points="595.61,603.80 595.83,601.31 596.05,598.85 596.27,597.96 596.49,597.59 596.71,596.65 596.93,595.32 597.15,593.13 597.37,591.21 597.59,591.90 597.81,593.93 598.03,594.52 598.25,596.48 598.47,598.60 598.69,599.08 598.91,599.29 599.13,599.99 599.35,601.84 599.57,604.02 599.79,604.87 600.01,603.58 600.23,602.49 600.45,599.41 600.67,599.00 600.89,598.03 601.11,598.23 601.33,597.71 601.55,595.33 601.77,594.48 601.99,593.79 602.21,594.68 602.43,595.76 602.65,597.83 602.87,597.85 603.09,598.18 603.31,598.58 603.53,599.80 603.75,602.24 603.97,602.38 604.19,602.86 604.41,601.26 604.63,599.70 604.85,598.97 605.07,598.58 605.29,597.60 605.51,594.68 605.73,592.45 605.95,590.09 606.17,589.73 606.39,591.98 606.61,595.85 606.83,597.55 607.05,598.51 607.27,598.25 607.49,599.03 607.71,600.88 607.93,603.14 608.15,602.89 608.37,602.58 608.59,602.41 608.81,599.04 609.03,598.20 609.25,598.23 609.47,598.59 609.69,596.56 609.91,593.63 610.13,592.23 610.35,590.84 610.57,592.84 610.79,595.31 611.01,595.70 611.23,598.02 611.45,598.43 611.67,598.96 611.89,599.30 612.11,602.24 612.33,603.62 612.55,603.52 612.77,603.55 612.99,603.12 613.21,600.65 613.43,599.14 613.65,599.06 613.87,598.22 614.09,597.15 614.31,592.33 614.53,588.80 614.75,583.96 614.97,583.96 615.19,583.96 615.41,589.68 615.63,594.17 615.85,597.14 616.07,598.42 616.29,599.63 616.51,599.71 616.73,601.30 616.95,604.78 617.17,605.46 617.39,604.74 617.61,603.16 617.83,601.38 618.05,598.70 618.27,599.00 618.49,599.18 618.71,596.11 618.93,591.70 619.15,584.55 619.37,583.96 619.59,584.46 619.81,586.60 620.03,592.07 620.25,597.08 620.47,598.70 620.69,599.20 620.91,601.36 621.13,606.32 621.35,611.10 621.57,612.85 621.79,612.85 622.01,611.04 622.23,605.15 622.45,600.54 622.67,598.59 622.89,598.92 623.11,597.71 623.33,594.43 623.55,591.74 623.77,590.39 623.99,590.37 624.21,591.95 624.43,595.39 624.65,597.46 624.87,598.30 625.09,599.13 625.31,601.78 625.53,607.26 625.75,612.85 625.97,612.85 626.19,612.85 626.41,612.11 626.63,605.44 626.85,601.71 627.07,599.12 627.29,598.10 627.51,596.05 627.73,592.52 627.95,587.22 628.17,583.96 628.39,583.96 628.61,585.75 628.83,590.82 629.05,595.27 629.27,598.55 629.49,598.42 629.71,599.89 629.93,603.65 630.15,609.73 630.37,612.85 630.59,612.85 630.81,612.85 631.03,608.08 631.25,601.56 631.47,598.72 631.69,597.69 631.91,598.55 632.13,596.43 632.35,595.66 632.57,593.84 632.79,593.74 633.01,594.26 633.23,596.17 633.45,598.06 633.67,598.95 633.89,599.51 634.11,599.48 634.33,601.49 634.55,602.69 634.77,604.13 634.99,602.77 635.21,601.47 635.43,599.97 635.65,598.60 635.87,597.69 636.09,598.56 636.31,595.01 636.53,593.71 636.75,592.54 636.97,592.08 637.19,592.69 637.41,595.03 637.63,597.29 637.85,598.61 638.07,598.07 638.29,598.92 638.51,602.16 638.73,606.10 638.95,609.54 639.17,612.85 639.39,611.30 639.61,609.01 639.83,604.88 640.05,600.83 640.27,597.99 640.49,598.83 640.71,598.14 640.93,598.10 641.15,597.02 641.37,596.08 641.59,595.48 641.81,595.23 642.03,595.90 642.25,597.84 642.47,598.29 642.69,597.31 642.91,598.00 643.13,599.75 643.35,601.33 643.57,603.17 643.79,604.29 644.01,606.53 644.23,604.38 644.45,602.89 644.67,600.47 644.89,598.83 645.11,598.53 645.33,598.12 645.55,595.71 645.77,591.81 645.99,589.96 646.21,585.61 646.43,587.32 646.65,590.12 646.87,593.87 647.09,596.26 647.31,598.56 647.53,598.70 647.75,599.86 647.97,602.48 648.19,607.28 648.41,608.92 648.63,610.67 648.85,609.26 649.07,604.64 649.29,600.82 649.51,598.56 649.73,599.57 649.95,598.73 650.17,595.53 650.39,593.09 650.61,592.04 650.83,591.73 651.05,592.43 651.27,595.84 651.49,597.63 651.71,597.58 651.93,597.88 652.15,599.19 652.37,599.86 652.59,602.42 652.81,603.22 653.03,604.32 653.25,603.16 653.47,600.76 653.69,599.60 653.91,598.39 654.13,598.82 654.35,596.91 654.57,595.56 654.79,592.42 655.01,591.30 655.23,589.25 655.45,592.82 655.67,595.62 655.89,596.72 656.11,597.86 656.33,598.20 656.55,599.39 656.77,600.27 656.99,600.57 657.21,601.16 657.43,601.25 657.65,601.03 657.87,599.00 658.09,597.98 658.31,598.93 658.53,597.75 658.75,594.14 658.97,590.08 659.19,587.62 659.41,587.74 659.63,590.34 659.85,593.47 660.07,596.56 660.29,597.80 660.51,598.50 660.73,599.65 660.95,601.45 661.17,602.79 661.39,603.86 661.61,603.64 661.83,602.12 662.05,599.20 662.27,599.02 662.49,598.72 662.71,598.83 662.93,596.55 663.15,592.54 663.37,588.24 663.59,585.73 663.81,584.38 664.03,586.01 664.25,591.49 664.47,594.79 664.69,598.84 664.91,598.77 665.13,598.56 665.35,600.86 665.57,602.77 665.79,604.61 666.01,606.60 666.23,606.84 666.45,604.31 666.67,601.49 666.89,599.14 667.11,599.64 667.33,598.77 667.55,597.22 667.77,596.16 667.99,593.28 668.21,591.73 668.43,592.42 668.65,592.54 668.87,595.51 669.09,597.62 669.31,596.99 669.53,598.27 669.75,599.71 669.97,603.27 670.19,606.79 670.41,608.45 670.63,608.47 670.85,605.89 671.07,601.61 671.29,599.08 671.51,597.14 671.73,597.81 671.95,596.92 672.17,595.78 672.39,593.33 672.61,591.44 672.83,592.79 673.05,595.87 673.27,596.27 673.49,597.55 673.71,597.83 673.93,598.37 674.15,599.34 674.37,602.49 674.59,604.33 674.81,603.37 675.03,603.00 675.25,601.05 675.47,599.45 675.69,598.92 675.91,598.23 676.13,597.99 676.35,595.73 676.57,594.39 676.79,592.13 677.01,592.36 677.23,594.18 677.45,595.66 677.67,597.87 677.89,598.56 678.11,598.70 678.33,599.35 678.55,601.38 678.77,603.33 678.99,604.70 679.21,603.69 679.43,602.83 679.65,601.22 679.87,598.52 680.09,598.54 680.31,598.48 680.53,595.99 680.75,596.29 680.97,594.04 681.19,593.11 681.41,593.71 681.63,595.72 681.85,597.96 682.07,598.13 682.29,598.39 682.51,599.06 682.73,599.85 682.95,602.84 683.17,604.51 683.39,605.18 683.61,604.33 683.83,602.39 684.05,600.77 684.27,598.50 684.49,598.23 684.71,598.33 684.93,595.15 685.15,591.99 685.37,589.70 685.59,589.10 685.81,589.29 686.03,590.85 686.25,594.44 686.47,596.65 686.69,599.03 686.91,598.71 687.13,598.58 687.35,599.01 687.57,599.97 687.79,600.96 688.01,601.44 688.23,602.47 688.45,599.62 688.67,598.82 688.89,599.23 689.11,598.05 689.33,597.75 689.55,596.65 689.77,595.65 689.99,592.60 690.21,592.63 690.43,593.03 690.65,595.73 690.87,596.16 691.09,597.85 691.31,597.68 691.53,598.90 691.75,599.14 691.97,600.14 692.19,602.17 692.41,601.62 692.63,601.17 692.85,600.81 693.07,599.24 693.29,598.59 693.51,598.00 693.73,598.36 693.95,595.47 694.17,592.93 694.39,589.65 694.61,590.03 694.83,590.05 695.05,593.61 695.27,596.46 695.49,598.36 695.71,598.52 695.93,598.65 696.15,602.35 696.37,605.44 696.59,609.86 696.81,610.95 697.03,607.52 697.25,603.99 697.47,600.12 697.69,598.03 697.91,598.37 698.13,596.92 698.35,592.58 698.57,589.06 698.79,586.76 699.01,587.42 699.23,589.96 699.45,594.98 699.67,598.28 699.89,598.34 700.11,598.97 700.33,600.09 700.55,601.21 700.77,602.88 700.99,603.28 701.21,602.69 701.43,600.89 701.65,599.00 701.87,599.03 702.09,598.50 702.31,599.15 702.53,598.10 702.75,596.34 702.97,595.41 703.19,595.95 703.41,596.14 703.63,596.15 703.85,597.82 704.07,597.99 704.29,598.54 704.51,598.11 704.73,599.47 704.95,599.67 705.17,603.02 705.39,603.88 705.61,603.49 705.83,602.63 706.05,601.33 706.27,599.19 706.49,598.73 706.71,597.30 706.93,598.35 707.15,596.40 707.37,595.13 707.59,593.19 707.81,592.81 708.03,594.38 708.25,596.10 708.47,596.24 708.69,598.05 708.91,597.97 709.13,600.99 709.35,607.63 709.57,612.85 709.79,612.85 710.01,612.85 710.23,611.89 710.45,605.39 710.67,600.16 710.89,598.72 711.11,597.36 711.33,595.69 711.55,593.44 711.77,591.65 711.99,591.24 712.21,592.55 712.43,595.20 712.65,596.92 712.87,598.07 713.09,598.55 713.31,599.62 713.53,601.25 713.75,602.19 713.97,601.79 714.19,603.35 714.41,600.62 714.63,599.97 714.85,598.70 715.07,598.61 715.29,598.33 715.51,596.28 715.73,593.46 715.95,590.57 716.17,588.84 716.39,590.98 716.61,591.98 716.83,594.86 717.05,598.07 717.27,598.98 717.49,599.06 717.71,600.10 717.93,602.54 718.15,606.41 718.37,611.12 718.59,612.82 718.81,609.59 719.03,606.05 719.25,602.43 719.47,600.08 719.69,599.37 719.91,598.19 720.13,597.35 720.35,596.14 720.57,594.62 720.79,594.10 721.01,593.10 721.23,594.43 721.45,596.30 721.67,597.88 721.89,598.49 722.11,598.34 722.33,600.43 722.55,604.00 722.77,605.34 722.99,608.00 723.21,609.65 723.43,607.04 723.65,603.80 723.87,599.78 724.09,598.40 724.31,598.95 724.53,597.61 724.75,597.34 724.97,595.11 725.19,594.87 725.41,595.08 725.63,594.86 725.85,595.86 726.07,597.46 726.29,597.93 726.51,598.67 726.73,598.08 726.95,599.03 727.17,601.29 727.39,603.03 727.61,606.57 727.83,607.02 728.05,604.65 728.27,602.58 728.49,600.36 728.71,598.94 728.93,598.73 729.15,598.30 729.37,597.54 729.59,595.82 729.81,594.03 730.03,592.74 730.25,591.47 730.47,593.66 730.69,595.87 730.91,598.30 731.13,599.39 731.35,597.95 731.57,598.69 731.79,600.78 732.01,601.20 732.23,601.82 732.45,601.25 732.67,599.72 732.89,598.52 733.11,598.39 733.33,598.60 733.55,596.18 733.77,594.12 733.99,592.05 734.21,592.82 734.43,594.16 734.65,596.29 734.87,597.73 735.09,598.19 735.31,598.92 735.53,599.21 735.75,600.52 735.97,601.94 736.19,602.53 736.41,601.53 736.63,600.21 736.85,599.35 737.07,598.48 737.29,598.00 737.51,597.55 737.73,596.18 737.95,595.29 738.17,593.18 738.39,593.47 738.61,594.58 738.83,595.94 739.05,597.47 739.27,597.90 739.49,597.64 739.71,599.02 739.93,601.66 740.15,604.65 740.37,608.25 740.59,608.93 740.81,607.65 741.03,605.23 741.25,601.73 741.47,599.75 741.69,597.93 741.91,598.91 742.13,598.22 742.35,595.73 742.57,592.89 742.79,592.36 743.01,591.49 743.23,593.30 743.45,595.00 743.67,596.48 743.89,597.33 744.11,597.92 744.33,599.06 744.55,600.07 744.77,601.07 744.99,602.11 745.21,602.78 745.43,602.88 745.65,600.88 745.87,599.27 746.09,597.23 746.31,597.77 746.53,598.04 746.75,596.26 746.97,593.53 747.19,591.44 747.41,589.49 747.63,589.09 747.85,593.29 748.07,595.49 748.29,597.52 748.51,598.53 748.73,598.24 748.95,600.18 749.17,601.30 749.39,602.89 749.61,603.88 749.83,603.29 750.05,601.65 750.27,600.03 750.49,599.02 750.71,598.22 750.93,597.81 751.15,595.96 751.37,594.56 751.59,592.08 751.81,591.00 752.03,590.70 752.25,593.53 752.47,596.21 752.69,597.47 752.91,598.16 753.13,598.63 753.35,600.59 753.57,603.33 753.79,607.70 754.01,610.55 754.23,611.17 754.45,608.74 754.67,603.54 754.89,600.89 755.11,597.99 755.33,598.36 755.55,598.15 755.77,597.68 755.99,596.70 756.21,595.75 756.43,595.36 756.65,595.30 756.87,595.91 757.09,597.27 757.31,598.84 757.53,597.11 757.75,598.45 757.97,600.15 758.19,604.90 758.41,607.42 758.63,610.21 758.85,611.12 759.07,609.49 759.29,602.45 759.51,600.53 759.73,598.08 759.95,598.55 760.17,596.56 760.39,595.37 760.61,593.02 760.83,589.61 761.05,590.91 761.27,592.54 761.49,594.91 761.71,596.81 761.93,597.80 762.15,599.88 762.37,599.98 762.59,601.74 762.81,603.66 763.03,605.31 763.25,606.81 763.47,603.87 763.69,601.07 763.91,600.30 764.13,598.68 764.35,598.72 764.57,597.61 764.79,595.12 765.01,591.74 765.23,589.13 765.45,587.22 765.67,589.69 765.89,591.03 766.11,595.86 766.33,597.49 766.55,598.77 766.77,598.18 766.99,598.50 767.21,599.51 767.43,600.66 767.65,600.45 767.87,600.42 768.09,600.16 768.31,599.81 768.53,599.10 768.75,598.69 768.97,598.04 769.19,599.02 769.41,596.74 769.63,595.55 769.85,594.49 770.07,592.94 770.29,594.45 770.51,594.69 770.73,597.84 770.95,597.27 771.17,597.98 771.39,598.77 771.61,600.75 771.83,602.58 772.05,605.50 772.27,603.67 772.49,603.46 772.71,601.55 772.93,600.24 773.15,599.83 773.37,598.20 773.59,597.89 773.81,594.88 774.03,591.19 774.25,589.50 774.47,589.02 774.69,590.98 774.91,594.50 775.13,598.31 775.35,598.57 775.57,598.99 775.79,599.51 776.01,600.88 776.23,603.67 776.45,604.49 776.67,604.71 776.89,602.70 777.11,599.13 777.33,599.37 777.55,597.93 777.77,598.17 777.99,597.17 778.21,594.82 778.43,593.67 778.65,592.09 778.87,593.50 779.09,594.26 779.31,596.37 779.53,598.52 779.75,598.71 779.97,598.94 780.19,600.07 780.41,602.34 780.63,605.66 780.85,606.11 781.07,605.74 781.29,602.29 781.51,599.86 781.73,599.52 781.95,597.73 782.17,598.44 782.39,595.81" fill="none" stroke="#0072BD" stroke-width="0.55" stroke-linejoin="round"/>
<polyline points="595.61,601.46 595.83,600.05 596.05,598.66 596.27,598.15 596.49,597.79 596.71,597.09 596.93,596.09 597.15,594.45 597.37,593.02 597.59,593.54 597.81,595.05 598.03,595.50 598.25,596.97 598.47,598.55 598.69,598.73 598.91,598.83 599.13,599.18 599.35,600.08 599.57,601.15 599.79,601.56 600.01,600.93 600.23,600.40 600.45,598.89 600.67,598.69 600.89,598.22 601.11,598.32 601.33,598.05 601.55,596.87 601.77,596.45 601.99,596.10 602.21,596.55 602.43,597.09 602.65,598.11 602.87,598.13 603.09,598.31 603.31,598.47 603.53,598.98 603.75,599.97 603.97,600.03 604.19,600.23 604.41,599.57 604.63,598.94 604.85,598.64 605.07,598.53 605.29,597.80 605.51,595.65 605.73,593.99 605.95,592.25 606.17,591.98 606.39,593.65 606.61,596.51 606.83,597.77 607.05,598.48 607.27,598.29 607.49,598.86 607.71,600.21 607.93,601.86 608.15,601.67 608.37,601.45 608.59,601.33 608.81,598.87 609.03,598.25 609.25,598.28 609.47,598.52 609.69,597.24 609.91,595.41 610.13,594.53 610.35,593.66 610.57,594.91 610.79,596.46 611.01,596.71 611.23,598.16 611.45,598.42 611.67,598.74 611.89,598.95 612.11,600.75 612.33,601.60 612.55,601.54 612.77,601.56 612.99,601.29 613.21,599.78 613.43,598.85 613.65,598.81 613.87,598.33 614.09,597.94 614.31,596.17 614.53,594.88 614.75,593.10 614.97,593.10 615.19,593.10 615.41,595.20 615.63,596.85 615.85,597.94 616.07,598.41 616.29,599.05 616.51,599.09 616.73,599.93 616.95,601.76 617.17,602.11 617.39,601.74 617.61,600.90 617.83,599.96 618.05,598.56 618.27,598.72 618.49,598.91 618.71,596.89 618.93,593.99 619.15,589.28 619.37,588.89 619.59,589.22 619.81,590.63 620.03,594.23 620.25,597.53 620.47,598.60 620.69,598.77 620.91,599.77 621.13,602.06 621.35,604.27 621.57,605.07 621.79,605.07 622.01,604.24 622.23,601.52 622.45,599.39 622.67,598.49 622.89,598.77 623.11,597.91 623.33,595.58 623.55,593.67 623.77,592.70 623.99,592.69 624.21,593.81 624.43,596.26 624.65,597.73 624.87,598.33 625.09,598.87 625.31,600.59 625.53,604.14 625.75,607.77 625.97,607.77 626.19,607.77 626.41,607.29 626.63,602.96 626.85,600.55 627.07,598.87 627.29,598.18 627.51,596.67 627.73,594.08 627.95,590.19 628.17,587.79 628.39,587.79 628.61,589.10 628.83,592.83 629.05,596.10 629.27,598.51 629.49,598.41 629.71,599.42 629.93,602.00 630.15,606.17 630.37,608.31 630.59,608.31 630.81,608.31 631.03,605.04 631.25,600.57 631.47,598.62 631.69,597.99 631.91,598.49 632.13,597.25 632.35,596.80 632.57,595.74 632.79,595.68 633.01,595.99 633.23,597.10 633.45,598.20 633.67,598.72 633.89,599.18 634.11,599.15 634.33,600.56 634.55,601.41 634.77,602.41 634.99,601.46 635.21,600.55 635.43,599.50 635.65,598.54 635.87,598.08 636.09,598.47 636.31,596.87 636.53,596.29 636.75,595.76 636.97,595.56 637.19,595.83 637.41,596.89 637.63,597.90 637.85,598.49 638.07,598.24 638.29,598.65 638.51,600.18 638.73,602.06 638.95,603.69 639.17,605.25 639.39,604.52 639.61,603.44 639.83,601.47 640.05,599.55 640.27,598.21 640.49,598.68 640.71,598.23 640.93,598.21 641.15,597.50 641.37,596.89 641.59,596.50 641.81,596.33 642.03,596.77 642.25,598.04 642.47,598.33 642.69,597.69 642.91,598.21 643.13,599.06 643.35,599.84 643.57,600.74 643.79,601.29 644.01,602.39 644.23,601.34 644.45,600.60 644.67,599.41 644.89,598.61 645.11,598.46 645.33,598.30 645.55,597.42 645.77,595.99 645.99,595.31 646.21,593.72 646.43,594.35 646.65,595.37 646.87,596.74 647.09,597.62 647.31,598.46 647.53,598.62 647.75,599.45 647.97,601.33 648.19,604.78 648.41,605.96 648.63,607.21 648.85,606.20 649.07,602.88 649.29,600.14 649.51,598.51 649.73,599.26 649.95,598.64 650.17,596.29 650.39,594.50 650.61,593.72 650.83,593.49 651.05,594.01 651.27,596.51 651.49,597.83 651.71,597.80 651.93,598.04 652.15,598.95 652.37,599.41 652.59,601.19 652.81,601.75 653.03,602.52 653.25,601.71 653.47,600.04 653.69,599.24 653.91,598.39 654.13,598.71 654.35,597.30 654.57,596.31 654.79,594.00 655.01,593.18 655.23,591.66 655.45,594.30 655.67,596.35 655.89,597.16 656.11,598.00 656.33,598.33 656.55,598.73 656.77,599.03 656.99,599.13 657.21,599.33 657.43,599.36 657.65,599.29 657.87,598.60 658.09,598.26 658.31,598.64 658.53,598.11 658.75,596.50 658.97,594.69 659.19,593.60 659.41,593.65 659.63,594.81 659.85,596.20 660.07,597.58 660.29,598.13 660.51,598.46 660.73,599.18 660.95,600.31 661.17,601.15 661.39,601.82 661.61,601.68 661.83,600.73 662.05,598.90 662.27,598.79 662.49,598.60 662.71,598.65 662.93,597.32 663.15,594.99 663.37,592.48 663.59,591.02 663.81,590.23 664.03,591.18 664.25,594.38 664.47,596.30 664.69,598.65 664.91,598.62 665.13,598.45 665.35,599.16 665.57,599.76 665.79,600.33 666.01,600.95 666.23,601.02 666.45,600.24 666.67,599.36 666.89,598.63 667.11,598.79 667.33,598.67 667.55,597.54 667.77,596.77 667.99,594.67 668.21,593.54 668.43,594.04 668.65,594.12 668.87,596.29 669.09,597.83 669.31,597.37 669.53,598.35 669.75,598.91 669.97,600.28 670.19,601.64 670.41,602.28 670.63,602.28 670.85,601.29 671.07,599.64 671.29,598.66 671.51,597.91 671.73,598.17 671.95,597.82 672.17,597.37 672.39,596.41 672.61,595.67 672.83,596.19 673.05,597.41 673.27,597.56 673.49,598.06 673.71,598.05 673.93,598.38 674.15,598.97 674.37,600.89 674.59,602.01 674.81,601.42 675.03,601.20 675.25,600.01 675.47,599.04 675.69,598.72 675.91,598.30 676.13,598.16 676.35,596.86 676.57,596.08 676.79,594.78 677.01,594.91 677.23,595.96 677.45,596.82 677.67,598.10 677.89,598.49 678.11,598.55 678.33,598.88 678.55,599.90 678.77,600.88 678.99,601.57 679.21,601.07 679.43,600.63 679.65,599.82 679.87,598.46 680.09,598.47 680.31,598.45 680.53,597.10 680.75,597.26 680.97,596.04 681.19,595.54 681.41,595.86 681.63,596.95 681.85,598.16 682.07,598.25 682.29,598.40 682.51,598.63 682.73,598.91 682.95,599.94 683.17,600.53 683.39,600.76 683.61,600.46 683.83,599.79 684.05,599.23 684.27,598.43 684.49,598.34 684.71,598.37 684.93,596.82 685.15,595.28 685.37,594.17 685.59,593.88 685.81,593.97 686.03,594.72 686.25,596.47 686.47,597.55 686.69,598.70 686.91,598.58 687.13,598.50 687.35,598.76 687.57,599.32 687.79,599.90 688.01,600.18 688.23,600.78 688.45,599.11 688.67,598.64 688.89,598.88 689.11,598.26 689.33,598.14 689.55,597.70 689.77,597.29 689.99,596.06 690.21,596.08 690.43,596.24 690.65,597.32 690.87,597.50 691.09,598.18 691.31,597.91 691.53,598.74 691.75,598.90 691.97,599.58 692.19,600.96 692.41,600.59 692.63,600.28 692.85,600.03 693.07,598.97 693.29,598.53 693.51,598.13 693.73,598.38 693.95,596.59 694.17,595.02 694.39,592.99 694.61,593.23 694.83,593.24 695.05,595.44 695.27,597.20 695.49,598.38 695.71,598.45 695.93,598.50 696.15,599.95 696.37,601.15 696.59,602.88 696.81,603.31 697.03,601.97 697.25,600.59 697.47,599.07 697.69,598.25 697.91,598.39 698.13,597.62 698.35,595.30 698.57,593.43 698.79,592.21 699.01,592.56 699.23,593.91 699.45,596.58 699.67,598.34 699.89,598.37 700.11,598.79 700.33,599.54 700.55,600.30 700.77,601.43 700.99,601.70 701.21,601.30 701.43,600.08 701.65,598.80 701.87,598.83 702.09,598.45 702.31,598.77 702.53,598.25 702.75,597.38 702.97,596.92 703.19,597.19 703.41,597.28 703.63,597.29 703.85,598.11 704.07,598.20 704.29,598.47 704.51,598.24 704.73,599.00 704.95,599.11 705.17,600.99 705.39,601.47 705.61,601.26 705.83,600.77 706.05,600.04 706.27,598.84 706.49,598.58 706.71,597.94 706.93,598.38 707.15,597.57 707.37,597.04 707.59,596.23 707.81,596.08 708.03,596.73 708.25,597.45 708.47,597.50 708.69,598.26 708.91,598.16 709.13,599.86 709.35,603.62 709.57,606.57 709.79,606.57 710.01,606.57 710.23,606.03 710.45,602.35 710.67,599.40 710.89,598.58 711.11,597.96 711.33,597.24 711.55,596.28 711.77,595.52 711.99,595.34 712.21,595.90 712.43,597.03 712.65,597.77 712.87,598.26 713.09,598.47 713.31,599.02 713.53,599.84 713.75,600.31 713.97,600.11 714.19,600.90 714.41,599.52 714.63,599.19 714.85,598.55 715.07,598.51 715.29,598.37 715.51,597.43 715.73,596.15 715.95,594.83 716.17,594.04 716.39,595.02 716.61,595.47 716.83,596.79 717.05,598.25 717.27,598.66 717.49,598.84 717.71,599.54 717.93,601.18 718.15,603.77 718.37,606.93 718.59,608.07 718.81,605.90 719.03,603.53 719.25,601.11 719.47,599.53 719.69,599.05 719.91,598.26 720.13,597.73 720.35,596.96 720.57,595.98 720.79,595.65 721.01,595.01 721.23,595.86 721.45,597.05 721.67,598.07 721.89,598.46 722.11,598.38 722.33,599.19 722.55,600.58 722.77,601.10 722.99,602.14 723.21,602.78 723.43,601.76 723.65,600.50 723.87,598.94 724.09,598.40 724.31,598.80 724.53,597.83 724.75,597.64 724.97,596.03 725.19,595.85 725.41,596.00 725.63,595.84 725.85,596.56 726.07,597.72 726.29,598.06 726.51,598.59 726.73,598.20 726.95,598.79 727.17,600.21 727.39,601.31 727.61,603.54 727.83,603.82 728.05,602.33 728.27,601.03 728.49,599.63 728.71,598.74 728.93,598.61 729.15,598.36 729.37,598.07 729.59,597.42 729.81,596.75 730.03,596.26 730.25,595.78 730.47,596.61 730.69,597.44 730.91,598.36 731.13,598.78 731.35,598.24 731.57,598.50 731.79,599.23 732.01,599.38 732.23,599.59 732.45,599.39 732.67,598.86 732.89,598.44 733.11,598.40 733.33,598.49 733.55,597.45 733.77,596.57 733.99,595.68 734.21,596.01 734.43,596.59 734.65,597.50 734.87,598.11 735.09,598.31 735.31,598.72 735.53,598.89 735.75,599.69 735.97,600.55 736.19,600.90 736.41,600.30 736.63,599.50 736.85,598.98 737.07,598.45 737.29,598.23 737.51,598.03 737.73,597.44 737.95,597.06 738.17,596.15 738.39,596.27 738.61,596.76 738.83,597.34 739.05,598.00 739.27,598.19 739.49,598.04 739.71,598.70 739.93,599.98 740.15,601.42 740.37,603.16 740.59,603.48 740.81,602.87 741.03,601.70 741.25,600.01 741.47,599.05 741.69,598.17 741.91,598.75 742.13,598.28 742.35,596.55 742.57,594.59 742.79,594.23 743.01,593.63 743.23,594.88 743.45,596.05 743.67,597.07 743.89,597.66 744.11,598.24 744.33,598.62 744.55,598.95 744.77,599.28 744.99,599.62 745.21,599.84 745.43,599.88 745.65,599.22 745.87,598.69 746.09,598.02 746.31,598.19 746.53,598.23 746.75,597.40 746.97,596.11 747.19,595.13 747.41,594.21 747.63,594.02 747.85,596.00 748.07,597.03 748.29,597.99 748.51,598.46 748.73,598.28 748.95,599.73 749.17,600.57 749.39,601.75 749.61,602.49 749.83,602.05 750.05,600.83 750.27,599.61 750.49,598.87 750.71,598.27 750.93,597.98 751.15,596.65 751.37,595.64 751.59,593.86 751.81,593.09 752.03,592.87 752.25,594.90 752.47,596.83 752.69,597.73 752.91,598.23 753.13,598.48 753.35,599.19 753.57,600.17 753.79,601.74 754.01,602.76 754.23,602.98 754.45,602.11 754.67,600.25 754.89,599.30 755.11,598.25 755.33,598.38 755.55,598.30 755.77,598.12 755.99,597.73 756.21,597.36 756.43,597.20 756.65,597.18 756.87,597.42 757.09,597.96 757.31,598.57 757.53,597.89 757.75,598.42 757.97,599.03 758.19,600.74 758.41,601.65 758.63,602.66 758.85,602.99 759.07,602.40 759.29,599.86 759.51,599.17 759.73,598.28 759.95,598.51 760.17,597.05 760.39,596.19 760.61,594.47 760.83,591.98 761.05,592.93 761.27,594.12 761.49,595.85 761.71,597.24 761.93,597.96 762.15,599.15 762.37,599.20 762.59,600.09 762.81,601.06 763.03,601.89 763.25,602.65 763.47,601.17 763.69,599.75 763.91,599.36 764.13,598.54 764.35,598.51 764.57,598.14 764.79,597.32 765.01,596.20 765.23,595.34 765.45,594.71 765.67,595.53 765.89,595.97 766.11,597.56 766.33,598.10 766.55,598.52 766.77,598.24 766.99,598.47 767.21,599.21 767.43,600.05 767.65,599.89 767.87,599.87 768.09,599.68 768.31,599.43 768.53,598.91 768.75,598.61 768.97,598.17 769.19,598.80 769.41,597.33 769.63,596.56 769.85,595.89 770.07,594.88 770.29,595.86 770.51,596.01 770.73,598.04 770.95,597.67 771.17,598.13 771.39,598.64 771.61,599.94 771.83,601.14 772.05,603.05 772.27,601.85 772.49,601.72 772.71,600.46 772.93,599.60 773.15,599.34 773.37,598.31 773.59,598.18 773.81,596.88 774.03,595.29 774.25,594.56 774.47,594.36 774.69,595.20 774.91,596.72 775.13,598.36 775.35,598.47 775.57,598.61 775.79,598.80 776.01,599.29 776.23,600.29 776.45,600.58 776.67,600.66 776.89,599.94 777.11,598.66 777.33,598.75 777.55,598.23 777.77,598.25 777.99,597.60 778.21,596.07 778.43,595.32 778.65,594.29 778.87,595.21 779.09,595.70 779.31,597.08 779.53,598.48 779.75,598.59 779.97,598.73 780.19,599.42 780.41,600.79 780.63,602.82 780.85,603.09 781.07,602.86 781.29,600.76 781.51,599.29 781.73,599.08 781.95,597.99 782.17,598.42 782.39,597.28" fill="none" stroke="#0a6aae" stroke-width="0.4" stroke-linejoin="round"/>
<rect x="595.50" y="502.10" width="187.00" height="192.60" fill="none" stroke="#b4b4b4" stroke-width="1.2"/>
<path d="M639.50,694.70v-1.9M639.50,502.10v1.9M683.50,694.70v-1.9M683.50,502.10v1.9M727.50,694.70v-1.9M727.50,502.10v1.9M771.50,694.70v-1.9M771.50,502.10v1.9M595.50,662.60h1.9M782.50,662.60h-1.9M595.50,630.50h1.9M782.50,630.50h-1.9M595.50,598.40h1.9M782.50,598.40h-1.9M595.50,566.30h1.9M782.50,566.30h-1.9M595.50,534.20h1.9M782.50,534.20h-1.9" stroke="#8a8a8a" stroke-width="1" fill="none"/>
<text class="tk" transform="translate(590.90,534.70) scale(1,1.07)" y="5.35" text-anchor="end">0.2</text>
<text class="tk" transform="translate(590.90,566.80) scale(1,1.07)" y="5.35" text-anchor="end">0.1</text>
<text class="tk" transform="translate(590.90,598.90) scale(1,1.07)" y="5.35" text-anchor="end">0</text>
<text class="tk" transform="translate(590.90,631.00) scale(1,1.07)" y="5.35" text-anchor="end">-0.1</text>
<text class="tk" transform="translate(590.90,663.10) scale(1,1.07)" y="5.35" text-anchor="end">-0.2</text>
<text class="tk" transform="translate(590.90,695.20) scale(1,1.07)" y="5.35" text-anchor="end">-0.3</text>
<text class="tk" transform="translate(639.50,709.70) scale(1,1.07)" y="5.35" text-anchor="middle">200</text>
<text class="tk" transform="translate(683.50,709.70) scale(1,1.07)" y="5.35" text-anchor="middle">400</text>
<text class="tk" transform="translate(727.50,709.70) scale(1,1.07)" y="5.35" text-anchor="middle">600</text>
<text class="tk" transform="translate(771.50,709.70) scale(1,1.07)" y="5.35" text-anchor="middle">800</text>
<text class="al" x="689.00" y="736.30" text-anchor="middle">x(pixel)</text>
<text class="yl" transform="translate(559.60,598.40) rotate(-90)" text-anchor="middle">Phase errors(rad)</text>
<text class="tt" x="81.0" y="16.6">Intensity-based</text>
<text class="tt" x="351.0" y="16.6">Phase-based</text>
<text class="tt" x="619.0" y="16.6">Proposed</text>
<text class="tt" transform="translate(17.6,141.8) rotate(-90)" text-anchor="middle">Nearly focused</text>
<text class="tt" transform="translate(17.6,379.8) rotate(-90)" text-anchor="middle">Slightly defocused</text>
<text class="tt" transform="translate(17.6,618.5) rotate(-90)" text-anchor="middle">Strongly defocused</text>
</g>
</svg>
</body></html>
